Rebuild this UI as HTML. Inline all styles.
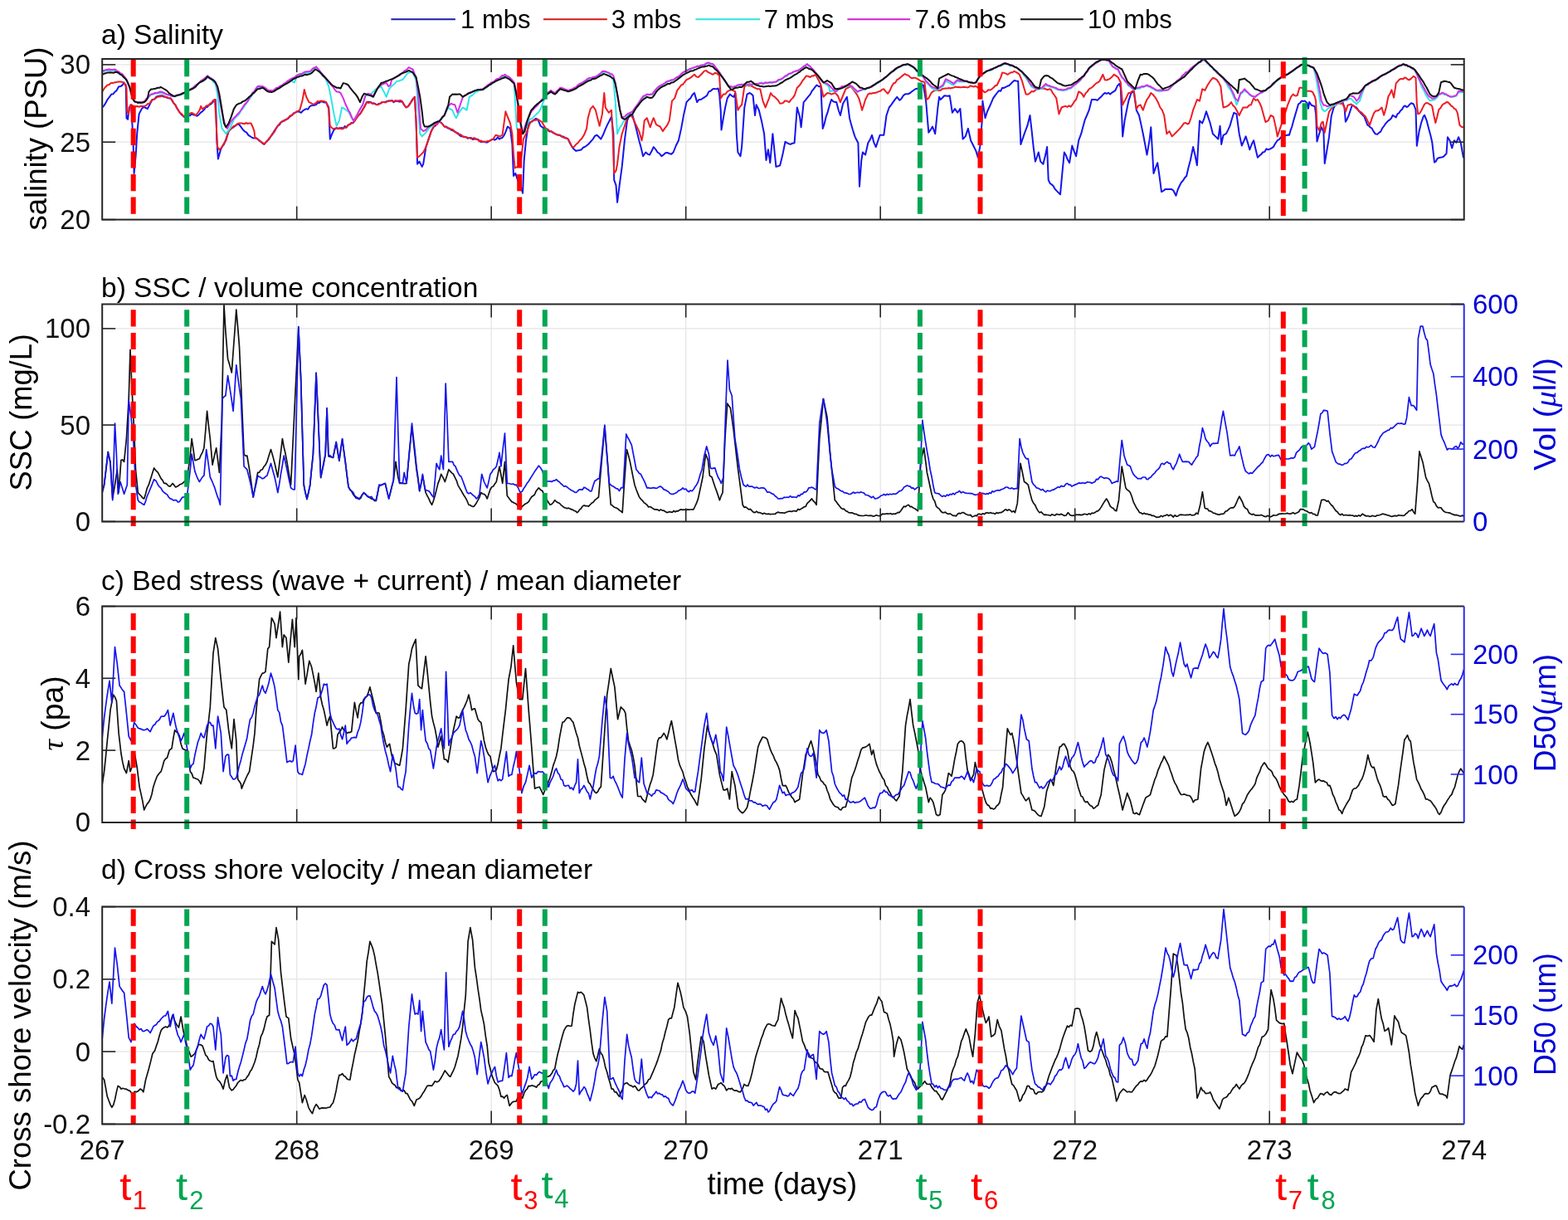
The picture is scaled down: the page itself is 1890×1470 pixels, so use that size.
<!DOCTYPE html>
<html><head><meta charset="utf-8"><title>Time series figure</title>
<style>html,body{margin:0;padding:0;background:#fff;} svg{display:block;}</style></head>
<body><svg width="1890" height="1470" viewBox="0 0 1890 1470">
<defs><clipPath id="clipa"><rect x="123.2" y="71.0" width="1641.5" height="193.60000000000002"/></clipPath><clipPath id="clipb"><rect x="123.2" y="366.6" width="1641.5" height="261.79999999999995"/></clipPath><clipPath id="clipc"><rect x="123.2" y="730.5" width="1641.5" height="260.4"/></clipPath><clipPath id="clipd"><rect x="123.2" y="1092.6" width="1641.5" height="261.8000000000002"/></clipPath></defs>
<rect width="1890" height="1470" fill="#fff"/>
<line x1="357.7" y1="71.0" x2="357.7" y2="264.6" stroke="#e4e4e4" stroke-width="1.2"/>
<line x1="592.2" y1="71.0" x2="592.2" y2="264.6" stroke="#e4e4e4" stroke-width="1.2"/>
<line x1="826.7" y1="71.0" x2="826.7" y2="264.6" stroke="#e4e4e4" stroke-width="1.2"/>
<line x1="1061.2" y1="71.0" x2="1061.2" y2="264.6" stroke="#e4e4e4" stroke-width="1.2"/>
<line x1="1295.7" y1="71.0" x2="1295.7" y2="264.6" stroke="#e4e4e4" stroke-width="1.2"/>
<line x1="1530.2" y1="71.0" x2="1530.2" y2="264.6" stroke="#e4e4e4" stroke-width="1.2"/>
<line x1="123.2" y1="264.6" x2="1764.7" y2="264.6" stroke="#e4e4e4" stroke-width="1.2"/>
<line x1="123.2" y1="171.2" x2="1764.7" y2="171.2" stroke="#e4e4e4" stroke-width="1.2"/>
<line x1="123.2" y1="77.9" x2="1764.7" y2="77.9" stroke="#e4e4e4" stroke-width="1.2"/>
<line x1="357.7" y1="366.6" x2="357.7" y2="628.4" stroke="#e4e4e4" stroke-width="1.2"/>
<line x1="592.2" y1="366.6" x2="592.2" y2="628.4" stroke="#e4e4e4" stroke-width="1.2"/>
<line x1="826.7" y1="366.6" x2="826.7" y2="628.4" stroke="#e4e4e4" stroke-width="1.2"/>
<line x1="1061.2" y1="366.6" x2="1061.2" y2="628.4" stroke="#e4e4e4" stroke-width="1.2"/>
<line x1="1295.7" y1="366.6" x2="1295.7" y2="628.4" stroke="#e4e4e4" stroke-width="1.2"/>
<line x1="1530.2" y1="366.6" x2="1530.2" y2="628.4" stroke="#e4e4e4" stroke-width="1.2"/>
<line x1="123.2" y1="628.4" x2="1764.7" y2="628.4" stroke="#e4e4e4" stroke-width="1.2"/>
<line x1="123.2" y1="512.1" x2="1764.7" y2="512.1" stroke="#e4e4e4" stroke-width="1.2"/>
<line x1="123.2" y1="395.9" x2="1764.7" y2="395.9" stroke="#e4e4e4" stroke-width="1.2"/>
<line x1="357.7" y1="730.5" x2="357.7" y2="990.9" stroke="#e4e4e4" stroke-width="1.2"/>
<line x1="592.2" y1="730.5" x2="592.2" y2="990.9" stroke="#e4e4e4" stroke-width="1.2"/>
<line x1="826.7" y1="730.5" x2="826.7" y2="990.9" stroke="#e4e4e4" stroke-width="1.2"/>
<line x1="1061.2" y1="730.5" x2="1061.2" y2="990.9" stroke="#e4e4e4" stroke-width="1.2"/>
<line x1="1295.7" y1="730.5" x2="1295.7" y2="990.9" stroke="#e4e4e4" stroke-width="1.2"/>
<line x1="1530.2" y1="730.5" x2="1530.2" y2="990.9" stroke="#e4e4e4" stroke-width="1.2"/>
<line x1="123.2" y1="990.9" x2="1764.7" y2="990.9" stroke="#e4e4e4" stroke-width="1.2"/>
<line x1="123.2" y1="904.1" x2="1764.7" y2="904.1" stroke="#e4e4e4" stroke-width="1.2"/>
<line x1="123.2" y1="817.3" x2="1764.7" y2="817.3" stroke="#e4e4e4" stroke-width="1.2"/>
<line x1="123.2" y1="730.5" x2="1764.7" y2="730.5" stroke="#e4e4e4" stroke-width="1.2"/>
<line x1="357.7" y1="1092.6" x2="357.7" y2="1354.4" stroke="#e4e4e4" stroke-width="1.2"/>
<line x1="592.2" y1="1092.6" x2="592.2" y2="1354.4" stroke="#e4e4e4" stroke-width="1.2"/>
<line x1="826.7" y1="1092.6" x2="826.7" y2="1354.4" stroke="#e4e4e4" stroke-width="1.2"/>
<line x1="1061.2" y1="1092.6" x2="1061.2" y2="1354.4" stroke="#e4e4e4" stroke-width="1.2"/>
<line x1="1295.7" y1="1092.6" x2="1295.7" y2="1354.4" stroke="#e4e4e4" stroke-width="1.2"/>
<line x1="1530.2" y1="1092.6" x2="1530.2" y2="1354.4" stroke="#e4e4e4" stroke-width="1.2"/>
<line x1="123.2" y1="1354.4" x2="1764.7" y2="1354.4" stroke="#e4e4e4" stroke-width="1.2"/>
<line x1="123.2" y1="1267.1" x2="1764.7" y2="1267.1" stroke="#e4e4e4" stroke-width="1.2"/>
<line x1="123.2" y1="1179.9" x2="1764.7" y2="1179.9" stroke="#e4e4e4" stroke-width="1.2"/>
<line x1="123.2" y1="1092.6" x2="1764.7" y2="1092.6" stroke="#e4e4e4" stroke-width="1.2"/>
<g clip-path="url(#clipa)">
<path d="M123.2,129.5 L125.3,127.4 L127.4,124.0 L129.5,120.0 L131.9,116.8 L134.3,113.6 L136.4,113.3 L138.5,110.7 L140.6,108.9 L143.0,104.6 L145.4,104.1 L147.4,102.6 L149.4,100.1 L151.7,102.5 L152.5,142.2 L154.1,143.8 L155.7,129.5 L158.1,126.3 L160.5,169.2 L161.6,208.9 L163.7,186.6 L165.2,161.2 L167.6,137.4 L170.8,131.1 L172.8,129.0 L174.8,129.5 L177.9,131.1 L180.3,126.3 L183.5,120.0 L185.9,119.7 L188.3,116.8 L190.4,116.0 L192.5,115.5 L194.6,115.2 L197.0,116.5 L199.4,116.8 L201.5,117.8 L203.6,118.4 L205.7,118.4 L207.6,121.5 L209.4,124.6 L211.3,126.3 L213.1,130.1 L215.0,133.0 L216.8,135.8 L219.2,138.5 L221.6,140.6 L224.8,142.2 L226.9,139.5 L229.0,139.3 L231.1,137.4 L233.2,138.2 L235.3,138.9 L237.5,139.8 L239.6,138.2 L241.7,135.9 L243.8,134.3 L245.9,132.3 L248.0,129.4 L250.2,128.7 L252.3,126.2 L254.4,125.4 L256.5,123.1 L259.7,120.0 L260.5,137.4 L261.3,169.2 L262.9,191.4 L266.0,180.3 L268.0,176.4 L270.0,173.9 L272.4,167.6 L275.6,158.1 L278.7,154.9 L281.1,153.4 L283.5,151.7 L285.9,149.7 L288.3,150.1 L290.6,153.1 L293.0,156.5 L295.1,158.5 L297.2,159.7 L299.4,162.8 L301.7,164.3 L304.1,166.0 L306.2,166.6 L308.4,166.0 L310.5,167.6 L312.5,169.6 L314.4,170.7 L316.4,172.6 L318.4,173.9 L320.4,171.6 L322.4,169.6 L324.4,167.6 L326.3,164.4 L328.5,161.8 L330.6,157.8 L332.7,154.9 L334.8,151.4 L336.9,150.3 L339.0,147.0 L341.2,146.1 L343.3,144.6 L345.4,143.8 L347.5,142.7 L349.6,140.3 L351.7,139.0 L353.9,136.5 L356.0,135.6 L358.1,134.3 L360.5,134.6 L362.9,135.8 L365.0,133.5 L367.1,132.1 L369.2,131.1 L371.2,131.7 L373.2,128.5 L375.2,127.2 L377.1,127.1 L379.0,126.8 L381.0,126.1 L382.9,124.0 L384.8,124.1 L386.7,122.3 L388.8,122.6 L390.9,123.5 L393.0,123.1 L396.2,129.5 L397.8,167.6 L400.2,161.4 L402.5,156.5 L405.7,154.1 L407.7,154.7 L409.7,154.8 L411.7,153.9 L413.7,154.9 L415.6,152.0 L417.5,153.8 L419.4,150.7 L421.3,150.1 L423.5,148.1 L425.6,148.2 L427.7,145.4 L429.8,141.8 L431.9,139.4 L434.0,137.4 L436.4,133.3 L438.8,129.5 L442.0,123.1 L444.4,122.8 L446.7,123.1 L448.7,124.7 L450.7,124.3 L452.7,125.4 L454.7,126.3 L456.7,124.9 L458.7,124.4 L460.6,123.2 L462.6,123.1 L464.6,122.9 L466.6,122.0 L468.6,121.4 L470.6,121.6 L472.5,120.9 L474.5,123.3 L476.5,121.9 L478.5,121.6 L480.6,122.4 L482.7,122.5 L484.8,122.3 L487.2,126.5 L489.6,129.5 L492.0,128.1 L494.4,124.7 L496.2,121.4 L498.1,118.6 L499.9,116.8 L501.5,145.4 L503.1,197.7 L505.5,194.6 L508.7,200.9 L510.2,197.7 L513.4,177.1 L516.6,167.6 L519.8,158.1 L522.9,152.5 L525.1,151.3 L527.2,146.6 L529.3,146.2 L532.5,148.5 L535.6,152.5 L537.8,152.5 L539.9,154.5 L542.0,154.9 L544.0,156.7 L546.0,157.3 L547.9,158.2 L549.9,159.7 L551.9,160.4 L553.9,163.0 L555.9,164.3 L557.9,164.4 L559.8,164.7 L561.8,165.2 L563.8,166.7 L565.8,166.0 L567.8,166.0 L569.8,167.9 L571.7,167.6 L573.7,167.6 L575.7,167.7 L577.7,169.2 L579.7,170.9 L581.7,170.8 L583.7,170.8 L585.6,171.5 L587.6,171.4 L589.6,170.0 L592.0,168.5 L594.4,167.6 L596.2,168.7 L598.1,167.7 L599.9,165.4 L601.8,167.6 L603.6,166.4 L605.5,166.0 L607.6,163.0 L609.7,158.3 L611.8,152.5 L615.0,154.9 L617.4,173.9 L619.0,212.0 L621.3,208.9 L624.5,218.4 L627.7,224.7 L630.1,232.7 L631.7,193.0 L634.0,169.2 L637.2,148.5 L639.3,147.1 L641.5,146.4 L643.6,144.6 L646.0,142.8 L648.3,143.8 L651.5,151.7 L653.9,153.4 L656.3,154.9 L658.3,155.3 L660.2,156.3 L662.2,158.5 L664.2,158.1 L666.6,159.9 L669.0,161.2 L671.0,162.2 L672.9,162.4 L674.9,163.1 L676.9,164.4 L678.9,164.4 L680.9,166.3 L682.9,166.4 L684.8,167.6 L687.2,173.1 L689.6,177.1 L692.0,180.0 L694.4,181.9 L696.5,181.3 L698.6,181.0 L700.7,180.3 L702.8,177.8 L704.9,177.0 L707.1,175.5 L709.4,173.5 L711.8,170.8 L714.8,167.6 L717.1,163.7 L719.5,162.8 L721.9,165.0 L724.3,167.6 L727.5,161.2 L729.8,155.4 L732.2,150.1 L734.6,145.5 L737.0,140.6 L739.4,161.2 L740.2,216.8 L742.5,223.1 L744.1,243.8 L746.5,224.7 L749.7,200.9 L752.9,169.2 L756.0,145.4 L759.2,137.4 L762.4,139.0 L765.6,150.1 L767.9,159.3 L770.3,169.2 L772.7,178.1 L775.1,188.2 L778.3,183.5 L780.6,185.6 L783.0,186.6 L785.4,182.2 L787.8,177.1 L790.2,179.8 L792.5,183.5 L794.9,185.0 L797.3,188.2 L799.7,186.6 L802.1,184.3 L804.4,183.9 L806.8,185.0 L809.2,185.8 L811.6,183.5 L814.8,175.5 L817.9,169.2 L821.1,154.9 L824.3,137.4 L827.5,123.1 L829.8,120.6 L832.2,118.4 L834.6,114.3 L837.0,112.0 L840.2,123.1 L842.5,120.0 L844.9,120.0 L847.3,118.3 L849.7,116.8 L852.1,115.1 L854.4,110.4 L856.8,109.5 L859.2,107.3 L861.3,106.9 L863.4,107.4 L865.6,106.5 L867.1,113.6 L868.7,132.7 L869.5,156.5 L871.9,142.2 L874.3,128.8 L876.7,118.4 L879.8,113.6 L882.2,115.6 L884.6,116.8 L886.2,112.0 L887.8,161.2 L889.4,183.5 L892.5,188.2 L894.1,177.1 L897.3,129.5 L900.5,113.6 L903.7,112.0 L905.6,113.1 L907.6,115.2 L910.0,139.0 L911.6,126.3 L914.8,132.7 L917.9,145.4 L921.1,161.2 L923.5,193.0 L925.9,180.3 L928.3,196.2 L931.4,161.2 L933.8,185.0 L935.4,200.9 L937.8,200.2 L940.2,199.3 L943.3,186.6 L946.5,170.8 L948.6,172.1 L950.7,173.2 L952.9,173.9 L955.2,172.7 L957.6,172.3 L960.8,129.5 L964.0,140.6 L965.6,153.3 L968.7,123.1 L970.7,120.8 L972.7,118.3 L974.7,115.8 L976.7,113.6 L978.7,109.6 L980.6,107.5 L982.6,104.6 L984.6,102.5 L987.0,104.2 L989.4,104.1 L991.7,154.9 L993.7,149.1 L995.7,140.6 L997.8,134.6 L999.9,126.7 L1002.1,120.0 L1004.4,122.3 L1006.8,123.1 L1008.2,123.1 L1010.6,132.3 L1012.9,139.0 L1016.1,124.7 L1018.5,120.7 L1020.9,116.8 L1024.0,142.2 L1025.6,148.5 L1028.0,156.8 L1030.4,164.4 L1032.4,168.6 L1034.4,172.3 L1036.0,224.7 L1038.3,193.0 L1039.9,183.5 L1043.1,186.6 L1046.3,172.3 L1048.7,168.3 L1051.0,162.8 L1053.4,171.9 L1055.8,177.1 L1058.2,169.8 L1060.6,162.8 L1062.9,162.8 L1065.3,162.8 L1068.5,139.0 L1071.7,129.5 L1074.0,126.7 L1076.4,123.1 L1078.8,119.8 L1081.2,116.8 L1084.4,120.8 L1086.5,118.9 L1088.6,115.5 L1090.7,113.6 L1092.8,113.2 L1094.9,113.2 L1097.1,112.0 L1099.2,110.3 L1101.3,108.8 L1103.4,107.3 L1106.6,106.5 L1108.7,104.3 L1110.8,102.5 L1112.9,102.5 L1116.1,121.6 L1119.3,159.7 L1121.7,156.4 L1124.0,152.5 L1127.2,161.2 L1130.4,129.5 L1132.0,116.8 L1133.6,120.0 L1136.0,117.7 L1138.3,115.2 L1140.4,115.4 L1142.6,115.8 L1144.7,115.2 L1147.9,135.8 L1151.0,131.1 L1154.2,135.8 L1157.4,131.1 L1160.6,167.6 L1163.7,164.4 L1166.9,154.9 L1170.1,169.2 L1173.3,175.5 L1176.4,181.9 L1178.8,189.8 L1181.2,177.1 L1183.6,147.0 L1184.4,121.6 L1187.5,142.2 L1189.9,134.7 L1192.3,129.5 L1194.7,124.1 L1197.1,118.4 L1199.4,115.1 L1201.8,112.0 L1203.9,109.3 L1206.1,109.7 L1208.2,105.7 L1210.2,105.9 L1212.1,105.0 L1214.1,103.8 L1216.1,103.3 L1218.2,101.3 L1220.3,98.9 L1222.5,97.0 L1224.8,97.5 L1227.2,97.7 L1230.4,173.9 L1233.6,164.4 L1236.0,157.6 L1238.3,151.7 L1241.5,139.0 L1243.6,157.5 L1245.7,177.3 L1247.9,194.6 L1249.8,189.5 L1251.8,183.5 L1254.2,194.6 L1257.4,197.7 L1259.8,188.1 L1262.1,177.1 L1263.7,216.8 L1265.7,221.0 L1267.7,222.3 L1269.7,224.2 L1271.7,227.9 L1274.8,231.1 L1278.0,234.3 L1280.4,208.4 L1282.8,183.5 L1284.9,187.3 L1287.0,192.6 L1289.1,196.2 L1292.3,175.5 L1294.7,182.3 L1297.1,188.2 L1300.2,169.2 L1303.2,161.2 L1305.6,152.0 L1307.9,143.8 L1310.3,138.5 L1312.7,132.7 L1315.9,120.0 L1318.3,120.1 L1320.6,120.0 L1322.8,120.9 L1324.9,118.6 L1327.0,116.8 L1329.4,114.1 L1331.7,112.0 L1333.9,112.9 L1336.0,111.8 L1338.1,113.6 L1340.2,111.7 L1342.3,110.4 L1344.4,108.9 L1346.8,103.6 L1349.2,100.9 L1350.8,105.7 L1353.2,164.4 L1355.6,145.4 L1357.9,133.5 L1360.3,121.6 L1363.5,112.0 L1366.7,110.4 L1369.8,132.7 L1373.0,139.0 L1375.4,149.9 L1377.8,161.2 L1380.2,173.7 L1382.5,186.6 L1385.7,167.6 L1387.3,153.3 L1390.5,208.9 L1392.9,202.1 L1395.2,196.2 L1397.6,212.7 L1400.0,231.1 L1402.4,229.8 L1404.8,227.9 L1407.1,227.9 L1409.5,227.9 L1411.9,227.9 L1414.3,229.5 L1417.5,235.8 L1419.6,228.7 L1421.7,224.0 L1423.8,220.0 L1425.9,217.7 L1428.0,214.3 L1430.2,212.0 L1432.5,201.9 L1434.9,193.0 L1438.1,177.1 L1440.5,187.0 L1442.9,199.3 L1446.0,145.4 L1449.2,148.5 L1451.6,142.3 L1454.0,134.3 L1456.3,141.1 L1458.7,148.5 L1461.9,161.2 L1465.1,164.4 L1468.3,167.6 L1470.6,151.7 L1472.2,173.9 L1474.6,162.8 L1477.8,161.2 L1480.2,156.6 L1482.5,151.7 L1484.9,143.2 L1487.3,135.8 L1490.5,137.4 L1493.7,161.2 L1496.8,175.5 L1499.2,170.2 L1501.6,164.4 L1504.0,172.0 L1506.3,180.3 L1508.7,174.0 L1511.1,169.2 L1513.5,179.8 L1515.9,189.8 L1518.0,187.6 L1520.1,186.0 L1522.2,183.5 L1524.3,182.9 L1526.5,179.3 L1528.6,180.3 L1530.7,179.6 L1532.8,178.4 L1534.9,177.1 L1537.3,172.8 L1539.7,169.2 L1541.8,168.2 L1543.9,165.4 L1546.0,164.4 L1548.0,162.8 L1550.0,163.3 L1552.0,162.6 L1554.0,162.8 L1555.6,157.1 L1557.3,152.5 L1559.0,146.0 L1560.7,140.1 L1562.3,134.8 L1565.0,125.5 L1567.0,124.2 L1568.9,121.6 L1570.9,122.0 L1572.9,121.6 L1575.6,124.2 L1576.9,130.8 L1578.2,122.9 L1580.8,126.8 L1582.8,127.5 L1584.8,128.2 L1586.1,137.4 L1587.5,170.5 L1590.1,161.2 L1592.8,153.3 L1595.4,158.6 L1596.7,197.0 L1599.4,181.1 L1602.0,165.2 L1604.7,140.1 L1607.3,130.8 L1609.9,125.5 L1611.7,124.8 L1613.5,124.2 L1615.2,122.9 L1617.9,121.6 L1620.5,129.5 L1621.9,146.7 L1623.8,143.4 L1625.8,138.8 L1627.8,132.8 L1629.8,126.8 L1631.6,127.5 L1633.3,128.5 L1635.1,129.5 L1637.1,132.3 L1639.0,134.8 L1640.8,136.9 L1642.6,138.9 L1644.3,140.1 L1646.3,145.5 L1648.3,150.7 L1650.1,151.7 L1651.8,153.5 L1653.6,154.6 L1655.6,158.4 L1657.6,161.2 L1660.2,161.9 L1662.2,159.9 L1664.2,158.6 L1666.2,154.4 L1668.1,152.0 L1669.9,149.3 L1671.7,147.2 L1673.4,145.4 L1675.2,144.3 L1677.0,142.5 L1678.7,138.8 L1680.7,140.2 L1682.7,141.4 L1684.5,137.2 L1686.2,136.4 L1688.0,133.5 L1690.0,131.7 L1692.0,128.2 L1693.7,127.4 L1695.5,129.0 L1697.2,128.2 L1699.2,125.8 L1701.2,124.2 L1703.9,125.5 L1706.5,132.1 L1707.8,175.8 L1710.5,158.6 L1713.1,148.0 L1715.8,140.1 L1717.1,138.8 L1719.7,145.4 L1722.4,155.9 L1724.4,163.2 L1726.3,171.8 L1729.0,195.6 L1730.8,194.5 L1732.5,191.0 L1734.3,190.3 L1736.0,189.7 L1737.8,189.5 L1739.6,189.0 L1741.6,187.0 L1743.5,185.0 L1744.9,165.2 L1747.5,169.2 L1750.2,178.4 L1752.8,169.2 L1755.4,171.8 L1758.1,165.2 L1760.7,171.8 L1762.4,181.7 L1764.0,190.3" fill="none" stroke="#1414ee" stroke-width="2.0" stroke-linejoin="round"/>
<path d="M123.2,110.4 L126.3,105.7 L129.5,102.5 L131.6,102.1 L133.8,100.1 L135.9,100.1 L138.0,99.4 L140.1,99.1 L142.2,98.5 L144.0,98.6 L145.8,98.5 L147.6,99.0 L149.4,99.3 L152.5,105.7 L153.3,134.3 L154.9,137.4 L157.3,126.3 L159.3,126.8 L161.3,127.9 L163.4,128.3 L165.5,128.0 L167.6,128.7 L169.7,128.0 L171.9,128.1 L174.0,127.9 L176.1,127.1 L178.2,125.0 L180.3,124.7 L182.7,120.9 L185.1,120.0 L187.5,118.5 L189.8,116.8 L192.0,116.4 L194.1,116.2 L196.2,115.2 L199.4,116.8 L201.5,117.2 L203.6,118.2 L205.7,118.4 L207.6,120.8 L209.4,124.2 L211.3,126.3 L213.1,130.0 L215.0,132.9 L216.8,135.8 L219.2,137.4 L221.6,140.6 L224.8,137.4 L226.9,138.5 L229.0,136.7 L231.1,135.8 L233.5,137.1 L235.9,139.0 L238.3,136.0 L240.6,132.7 L242.2,127.9 L243.8,131.1 L247.0,129.5 L249.1,127.2 L251.2,127.3 L253.3,124.7 L255.2,123.5 L257.0,120.9 L258.9,120.0 L260.5,145.4 L262.1,177.1 L264.4,180.3 L266.8,178.3 L269.2,173.9 L272.4,169.2 L275.6,158.1 L278.7,154.9 L281.9,151.7 L284.0,151.4 L286.1,149.2 L288.3,148.5 L291.4,148.5 L294.6,149.3 L296.6,148.0 L298.6,149.0 L300.6,148.4 L302.5,148.5 L304.5,152.7 L306.5,158.1 L307.3,166.0 L310.5,167.6 L312.5,168.9 L314.4,170.9 L316.4,171.8 L318.4,173.9 L320.4,171.3 L322.4,169.3 L324.4,166.7 L326.3,164.4 L328.5,160.8 L330.6,159.3 L332.7,154.9 L334.8,151.9 L336.9,149.0 L339.0,147.0 L341.2,145.6 L343.3,145.3 L345.4,143.8 L347.5,142.1 L349.6,139.5 L351.7,139.0 L353.9,136.9 L356.0,135.5 L358.1,134.3 L361.3,132.7 L364.4,121.6 L366.8,108.1 L369.2,116.8 L372.4,123.1 L374.8,124.2 L377.1,125.5 L379.0,125.3 L381.0,123.7 L382.9,122.1 L384.8,122.3 L386.7,121.6 L388.8,121.7 L390.9,122.2 L393.0,123.1 L396.2,131.1 L397.8,151.7 L401.0,154.9 L403.3,154.9 L405.7,154.1 L407.7,155.3 L409.7,153.7 L411.7,155.6 L413.7,154.9 L415.6,153.7 L417.5,153.4 L419.4,150.8 L421.3,150.1 L423.5,148.6 L425.6,147.6 L427.7,145.4 L429.8,142.5 L431.9,138.9 L434.0,137.4 L436.4,133.4 L438.8,129.5 L442.0,123.1 L444.4,124.1 L446.7,123.1 L448.7,124.5 L450.7,124.9 L452.7,125.6 L454.7,126.3 L456.7,125.7 L458.7,124.6 L460.6,123.1 L462.6,123.1 L464.6,123.6 L466.6,122.2 L468.6,121.7 L470.6,121.6 L472.5,121.1 L474.5,122.4 L476.5,121.1 L478.5,121.6 L480.6,121.3 L482.7,120.9 L484.8,122.3 L487.2,126.7 L489.6,129.5 L492.0,128.1 L494.4,124.7 L496.2,122.2 L498.1,119.2 L499.9,116.8 L501.5,145.4 L503.1,189.8 L505.1,188.5 L507.1,186.6 L510.2,183.5 L513.4,177.1 L516.6,167.6 L519.8,158.1 L522.9,152.5 L525.1,149.9 L527.2,149.8 L529.3,146.2 L532.5,148.5 L535.6,152.5 L537.8,153.2 L539.9,153.8 L542.0,154.9 L544.0,155.7 L546.0,156.2 L547.9,158.8 L549.9,159.7 L551.9,161.5 L553.9,161.8 L555.9,162.5 L557.9,164.4 L559.8,165.3 L561.8,165.3 L563.8,165.9 L565.8,166.0 L567.8,167.1 L569.8,166.6 L571.7,166.1 L573.7,167.6 L575.7,168.2 L577.7,170.4 L579.7,169.4 L581.7,170.8 L583.7,170.7 L585.6,170.8 L587.6,170.1 L589.6,170.0 L592.0,168.8 L594.4,167.6 L597.5,162.8 L599.9,163.5 L602.3,164.4 L605.5,162.8 L607.5,148.7 L609.4,134.3 L611.8,140.6 L615.0,148.5 L617.4,161.2 L619.0,185.0 L620.6,202.5 L622.5,201.3 L624.5,200.9 L627.7,196.2 L630.9,167.6 L634.0,161.2 L636.4,155.1 L638.8,148.5 L641.2,145.9 L643.6,144.6 L646.0,144.8 L648.3,143.8 L650.7,145.3 L653.1,147.0 L655.5,151.1 L657.9,154.9 L660.0,155.6 L662.1,157.4 L664.2,158.1 L666.6,159.7 L669.0,161.2 L671.0,161.9 L672.9,163.1 L674.9,162.4 L676.9,164.4 L678.9,165.6 L680.9,165.5 L682.9,166.9 L684.8,167.6 L687.2,172.0 L689.6,177.1 L692.0,176.8 L694.4,173.9 L696.5,172.3 L698.6,169.5 L700.7,167.6 L703.9,162.8 L707.1,154.9 L708.7,142.2 L711.8,131.1 L714.8,127.9 L717.9,132.7 L720.3,142.6 L722.7,151.7 L725.9,137.4 L728.3,112.0 L729.8,129.5 L731.8,132.7 L733.8,135.8 L737.0,132.7 L738.6,161.2 L740.2,208.9 L742.5,205.7 L744.1,197.7 L746.5,177.1 L749.7,161.2 L752.9,151.7 L756.0,142.2 L758.4,140.6 L760.8,139.0 L763.2,143.1 L765.6,148.5 L767.9,153.2 L770.3,158.1 L773.5,169.2 L775.1,161.2 L776.7,145.4 L779.8,142.2 L781.8,148.0 L783.8,153.3 L785.8,146.9 L787.8,142.2 L791.0,150.1 L793.3,151.3 L795.7,152.5 L798.9,158.1 L801.3,154.6 L803.7,151.7 L806.8,145.4 L810.0,121.6 L813.2,118.4 L816.3,108.9 L818.7,105.8 L821.1,102.5 L823.2,101.7 L825.3,98.8 L827.5,96.2 L830.6,94.6 L832.8,93.4 L834.9,91.5 L837.0,89.8 L839.4,92.4 L841.7,93.0 L844.1,90.8 L846.5,88.2 L848.9,85.6 L851.3,85.0 L853.7,87.2 L856.0,88.2 L859.2,89.8 L861.6,88.1 L864.0,88.2 L867.1,91.4 L868.7,118.4 L871.9,113.6 L874.3,113.5 L876.7,110.4 L879.0,109.0 L881.4,108.1 L883.8,109.2 L886.2,110.4 L889.4,132.7 L891.7,128.9 L894.1,126.3 L897.3,104.1 L900.5,102.5 L902.6,103.3 L904.7,103.3 L906.8,104.1 L908.9,105.4 L911.1,106.4 L913.2,107.3 L916.3,107.3 L919.5,121.6 L922.7,129.5 L924.8,123.9 L926.9,118.6 L929.0,112.0 L931.2,115.2 L933.3,116.3 L935.4,118.4 L937.8,120.8 L940.2,124.7 L942.1,124.5 L944.1,123.9 L946.1,121.5 L948.1,121.6 L951.3,123.1 L953.4,120.1 L955.5,118.1 L957.6,115.2 L960.8,105.7 L962.9,103.8 L965.0,101.1 L967.1,97.7 L969.5,94.6 L971.9,91.4 L974.3,92.0 L976.7,93.0 L978.8,91.3 L980.9,91.4 L983.0,89.8 L985.1,93.8 L987.2,97.6 L989.4,102.5 L992.5,116.8 L994.9,114.3 L997.3,112.0 L999.7,112.4 L1002.1,113.6 L1004.4,112.8 L1006.8,112.0 L1009.8,115.2 L1012.9,123.1 L1016.1,115.2 L1019.3,107.3 L1021.4,106.0 L1023.5,105.0 L1025.6,104.1 L1028.0,107.1 L1030.4,110.4 L1032.8,113.8 L1035.2,118.4 L1037.1,124.8 L1039.1,132.7 L1041.1,126.7 L1043.1,120.0 L1046.3,113.6 L1048.4,112.4 L1050.5,112.8 L1052.6,112.0 L1054.7,112.0 L1056.9,111.3 L1059.0,110.4 L1061.1,109.8 L1063.2,107.9 L1065.3,107.3 L1067.7,110.4 L1070.1,112.8 L1072.5,109.4 L1074.8,104.1 L1077.0,100.5 L1079.1,99.7 L1081.2,96.2 L1083.3,95.1 L1085.4,93.2 L1087.5,91.4 L1090.7,89.0 L1092.8,90.3 L1094.9,90.9 L1097.1,93.0 L1099.2,94.3 L1101.3,93.7 L1103.4,93.8 L1105.5,94.9 L1107.6,96.2 L1109.8,97.7 L1112.1,98.2 L1114.5,99.3 L1116.9,120.0 L1119.3,118.4 L1122.5,112.0 L1124.8,110.0 L1127.2,108.9 L1129.6,109.0 L1132.0,108.9 L1134.0,108.8 L1136.0,107.0 L1137.9,106.8 L1139.9,106.5 L1141.9,106.5 L1143.9,106.0 L1145.9,106.4 L1147.9,105.7 L1149.8,105.4 L1151.8,104.5 L1153.8,105.1 L1155.8,104.9 L1157.8,105.3 L1159.8,105.1 L1161.7,104.7 L1163.7,104.9 L1165.7,105.4 L1167.7,105.1 L1169.7,103.2 L1171.7,104.1 L1173.8,104.5 L1175.9,103.8 L1178.0,104.9 L1180.1,106.6 L1182.2,107.1 L1184.4,108.9 L1186.7,111.2 L1189.1,110.4 L1191.2,108.3 L1193.4,108.5 L1195.5,107.3 L1197.6,105.5 L1199.7,103.3 L1201.8,102.5 L1203.9,98.0 L1206.1,93.6 L1208.2,87.4 L1210.3,87.9 L1212.4,88.6 L1214.5,89.8 L1216.5,88.5 L1218.5,87.3 L1220.5,87.3 L1222.5,85.8 L1224.6,86.8 L1226.7,88.1 L1228.8,89.8 L1232.0,97.7 L1234.4,106.2 L1236.7,113.6 L1239.1,113.8 L1241.5,112.0 L1243.6,110.0 L1245.7,110.4 L1247.9,108.9 L1250.2,107.0 L1252.6,107.3 L1254.7,106.9 L1256.9,106.7 L1259.0,106.5 L1261.0,107.6 L1262.9,108.2 L1264.9,107.3 L1266.9,108.1 L1269.0,112.2 L1271.1,115.0 L1273.3,118.4 L1276.4,137.4 L1279.6,129.5 L1282.0,128.5 L1284.4,127.9 L1286.5,128.9 L1288.6,127.3 L1290.7,128.7 L1292.8,125.9 L1294.9,122.3 L1297.1,120.0 L1300.2,110.4 L1302.3,111.4 L1304.3,113.3 L1306.3,116.8 L1308.5,112.4 L1310.6,110.4 L1312.7,107.3 L1314.8,106.2 L1316.9,104.7 L1319.0,102.5 L1321.2,100.4 L1323.3,99.4 L1325.4,97.7 L1327.4,93.7 L1329.4,89.8 L1331.7,96.2 L1333.9,96.5 L1336.0,95.7 L1338.1,94.6 L1340.5,92.4 L1342.9,89.8 L1345.2,91.4 L1347.6,93.0 L1350.8,99.3 L1353.2,126.3 L1355.6,121.6 L1357.9,117.2 L1360.3,112.0 L1362.4,111.9 L1364.6,109.9 L1366.7,108.9 L1369.8,131.1 L1372.2,127.4 L1374.6,126.3 L1377.8,132.7 L1380.2,125.4 L1382.5,120.0 L1384.9,116.7 L1387.3,112.0 L1389.7,114.0 L1392.1,116.8 L1394.2,120.3 L1396.3,124.3 L1398.4,129.5 L1400.8,132.7 L1403.2,139.0 L1406.3,161.2 L1409.5,158.1 L1412.7,164.4 L1415.1,162.1 L1417.5,159.7 L1419.8,157.4 L1422.2,154.9 L1424.6,151.9 L1427.0,148.5 L1429.1,148.0 L1431.2,149.5 L1433.3,148.5 L1435.7,141.5 L1438.1,132.7 L1440.5,126.5 L1442.9,120.0 L1446.0,121.6 L1449.2,107.3 L1452.4,108.9 L1455.6,102.5 L1458.7,97.7 L1461.9,93.8 L1464.3,94.7 L1466.7,96.2 L1469.0,99.4 L1471.4,104.1 L1473.0,118.4 L1474.6,129.5 L1477.0,128.8 L1479.4,127.9 L1481.7,126.1 L1484.1,123.1 L1486.2,127.1 L1488.4,129.1 L1490.5,132.7 L1493.7,139.0 L1496.0,134.1 L1498.4,129.5 L1500.8,129.5 L1503.2,129.5 L1505.6,126.8 L1507.9,126.3 L1511.1,118.4 L1513.5,120.9 L1515.9,120.0 L1518.3,123.9 L1520.6,129.5 L1523.0,138.2 L1525.4,147.0 L1528.6,145.4 L1531.7,139.0 L1534.9,140.6 L1538.1,154.9 L1539.7,164.4 L1542.9,154.9 L1545.2,148.4 L1547.6,140.6 L1549.7,134.1 L1551.9,127.2 L1554.0,121.6 L1556.3,116.3 L1558.7,113.6 L1560.4,115.1 L1562.0,115.5 L1563.7,114.9 L1566.3,105.7 L1568.9,105.7 L1570.9,106.7 L1572.9,108.3 L1574.9,109.4 L1576.9,109.7 L1579.5,109.7 L1582.2,111.0 L1584.8,116.3 L1586.1,121.6 L1587.5,152.0 L1590.1,157.3 L1592.8,148.0 L1594.7,146.7 L1596.7,159.9 L1599.4,146.7 L1602.0,134.8 L1604.0,132.0 L1606.0,129.5 L1608.0,127.7 L1609.9,126.8 L1612.6,124.2 L1614.4,124.5 L1616.1,125.1 L1617.9,124.2 L1620.5,129.5 L1621.9,134.8 L1624.5,126.8 L1626.5,126.2 L1628.5,125.5 L1630.4,127.1 L1632.4,128.2 L1634.4,130.3 L1636.4,132.1 L1638.2,134.3 L1639.9,134.7 L1641.7,136.1 L1643.7,138.5 L1645.7,140.1 L1648.3,145.4 L1651.0,150.7 L1653.6,142.7 L1656.2,136.1 L1658.2,133.6 L1660.2,133.5 L1662.9,132.1 L1665.5,129.5 L1668.1,138.8 L1670.8,129.5 L1673.4,116.3 L1675.4,112.9 L1677.4,108.3 L1680.1,117.6 L1682.7,100.4 L1684.5,98.3 L1686.2,96.4 L1688.0,95.1 L1689.6,95.0 L1691.3,95.3 L1692.9,93.6 L1694.6,93.8 L1696.6,95.6 L1698.6,96.4 L1701.2,94.4 L1703.9,91.8 L1706.5,93.8 L1707.8,125.5 L1709.2,137.4 L1711.1,136.6 L1713.1,133.5 L1715.1,129.4 L1717.1,125.5 L1719.1,124.0 L1721.1,124.2 L1722.8,125.5 L1724.6,126.2 L1726.3,128.2 L1728.3,139.0 L1730.3,148.0 L1732.3,140.5 L1734.3,132.1 L1736.3,130.3 L1738.3,126.8 L1740.0,125.1 L1741.8,124.5 L1743.5,122.9 L1745.5,123.3 L1747.5,125.5 L1749.3,127.6 L1751.0,128.5 L1752.8,130.8 L1754.8,131.9 L1756.8,136.1 L1759.4,150.7 L1761.7,152.9 L1764.0,153.3" fill="none" stroke="#ee1c24" stroke-width="2.0" stroke-linejoin="round"/>
<path d="M123.2,86.6 L125.3,86.3 L127.4,85.4 L129.5,84.7 L131.4,85.1 L133.3,84.9 L135.2,84.1 L137.1,85.2 L139.0,84.7 L141.0,86.6 L143.0,87.0 L145.0,89.1 L147.0,89.8 L149.4,92.7 L151.7,95.4 L154.1,100.5 L156.5,105.7 L159.7,118.4 L162.9,123.1 L165.2,123.0 L167.6,123.5 L169.7,123.2 L171.9,123.8 L174.0,122.8 L176.3,119.9 L178.7,117.6 L181.9,114.4 L184.3,113.5 L186.7,112.8 L188.8,112.5 L190.9,112.2 L193.0,112.0 L195.4,112.3 L197.8,112.8 L201.0,114.4 L203.3,114.6 L205.7,115.5 L208.1,116.1 L210.5,116.5 L212.9,115.0 L215.2,114.9 L217.2,114.3 L219.2,113.7 L221.2,112.6 L223.2,111.7 L225.2,110.2 L227.1,108.5 L229.1,108.4 L231.1,107.0 L233.0,105.0 L234.9,104.0 L236.8,102.6 L238.7,101.6 L240.6,99.7 L242.8,98.6 L244.9,97.4 L247.0,96.2 L250.2,93.0 L252.5,94.5 L254.9,95.4 L257.3,98.8 L259.7,100.9 L262.1,113.6 L264.4,137.4 L267.6,154.9 L270.0,158.0 L272.4,161.2 L274.8,157.9 L277.1,154.9 L279.5,149.4 L281.9,143.8 L284.0,141.6 L286.1,139.5 L288.3,137.4 L290.4,133.4 L292.5,131.1 L294.6,127.9 L296.6,125.0 L298.6,122.3 L300.6,119.4 L302.5,116.8 L304.5,113.1 L306.5,112.1 L308.5,108.9 L310.5,105.7 L312.6,105.7 L314.7,106.2 L316.8,105.7 L318.9,107.0 L321.1,108.0 L323.2,109.7 L325.3,109.7 L327.4,110.7 L329.5,109.7 L331.3,107.8 L333.2,108.0 L335.0,107.1 L336.8,105.3 L338.6,104.3 L340.4,102.7 L342.2,101.7 L344.2,100.3 L346.2,98.8 L348.2,96.9 L350.2,96.2 L352.5,98.1 L354.9,99.3 L358.1,91.4 L360.1,90.7 L362.1,89.5 L364.0,89.9 L366.0,88.2 L368.0,88.7 L370.0,87.5 L372.0,87.6 L374.0,86.6 L375.8,85.4 L377.5,82.7 L379.3,82.9 L381.1,81.1 L383.1,82.6 L385.1,85.8 L387.1,89.0 L389.0,91.6 L391.0,92.6 L393.0,96.2 L396.2,104.1 L399.4,120.0 L402.5,137.4 L405.7,151.7 L408.9,145.4 L412.1,129.5 L415.2,131.1 L417.6,133.1 L419.9,134.3 L422.0,138.3 L424.0,142.3 L426.1,145.4 L428.5,141.7 L430.9,137.4 L433.0,133.3 L435.1,129.8 L437.2,126.3 L440.4,115.2 L442.5,115.1 L444.6,113.9 L446.7,113.6 L448.9,111.3 L451.0,109.8 L453.1,107.3 L455.2,106.1 L457.3,105.3 L459.4,104.1 L462.6,110.4 L465.8,116.8 L469.0,107.3 L471.3,104.5 L473.7,102.5 L476.1,100.4 L478.5,97.7 L480.6,97.7 L482.7,96.7 L484.8,96.2 L487.0,93.9 L489.1,91.2 L491.2,88.2 L493.3,87.5 L495.4,86.7 L497.5,86.6 L499.5,92.2 L501.5,96.2 L503.9,129.5 L506.3,161.2 L508.7,164.4 L511.0,162.0 L513.4,159.7 L515.8,156.5 L518.2,153.3 L520.6,152.2 L522.9,150.1 L525.1,148.7 L527.2,147.4 L529.3,146.2 L531.4,144.0 L533.5,141.4 L535.6,139.0 L538.0,133.8 L540.4,129.5 L542.8,131.5 L545.2,132.7 L547.5,138.1 L549.9,142.2 L553.1,135.8 L555.5,132.4 L557.9,129.5 L560.2,130.9 L562.6,132.7 L565.8,116.8 L567.8,115.5 L569.8,114.4 L571.7,112.4 L573.7,110.4 L575.7,110.3 L577.7,108.8 L579.7,108.2 L581.7,108.1 L583.7,106.8 L585.6,106.0 L587.6,103.8 L589.6,102.5 L591.6,101.3 L593.6,98.8 L595.6,98.6 L597.5,97.0 L599.4,95.8 L601.2,95.1 L603.1,94.9 L604.9,93.5 L606.8,92.1 L608.7,91.4 L610.8,92.2 L612.9,92.8 L615.0,94.6 L617.4,97.6 L619.8,100.9 L621.3,129.5 L622.9,154.9 L626.1,159.7 L628.5,161.1 L630.9,161.2 L633.0,156.0 L635.1,150.8 L637.2,145.4 L639.3,143.6 L641.5,142.6 L643.6,140.6 L645.7,138.4 L647.8,136.6 L649.9,134.3 L652.3,129.8 L654.7,123.1 L657.1,117.9 L659.4,113.6 L661.8,112.3 L664.2,110.4 L666.6,112.1 L669.0,112.8 L671.1,111.1 L673.2,108.6 L675.3,106.5 L677.2,107.4 L679.1,108.2 L681.0,108.1 L682.9,108.7 L684.8,109.7 L686.8,109.1 L688.8,108.3 L690.8,107.2 L692.8,106.5 L694.8,105.1 L696.7,103.5 L698.7,102.9 L700.7,100.9 L702.7,99.5 L704.7,97.4 L706.7,97.8 L708.7,95.4 L710.5,95.0 L712.4,94.0 L714.2,94.1 L716.1,92.9 L717.9,93.0 L719.8,91.5 L721.7,90.0 L723.7,89.0 L725.6,88.2 L727.5,86.6 L729.6,86.9 L731.7,87.4 L733.8,88.2 L735.7,90.6 L737.5,93.7 L739.4,96.2 L741.7,121.6 L744.1,161.2 L747.3,153.3 L749.3,150.7 L751.3,147.0 L754.4,142.2 L757.6,137.4 L760.0,136.2 L762.4,134.6 L764.8,131.4 L767.1,128.2 L769.3,125.3 L771.4,121.4 L773.5,118.7 L775.6,117.2 L777.7,115.0 L779.8,113.9 L782.0,113.4 L784.1,114.4 L786.2,113.9 L788.3,111.4 L790.4,108.4 L792.5,106.0 L794.7,104.7 L796.8,103.5 L798.9,102.0 L801.0,100.6 L803.1,99.5 L805.2,98.1 L807.4,97.5 L809.5,97.0 L811.6,96.5 L813.7,95.0 L815.8,94.3 L817.9,92.5 L820.1,90.8 L822.2,88.3 L824.3,87.0 L826.4,86.0 L828.5,84.1 L830.6,83.8 L832.8,82.9 L834.9,82.2 L837.0,81.4 L839.0,80.5 L841.0,79.7 L842.9,79.4 L844.9,79.0 L846.8,78.2 L848.7,78.0 L850.6,77.2 L852.5,76.4 L854.4,75.8 L856.8,76.4 L859.2,77.4 L861.3,80.7 L863.4,82.2 L865.6,85.4 L867.7,87.8 L869.8,91.8 L871.9,94.9 L874.0,97.1 L876.1,100.9 L878.3,104.4 L880.6,105.3 L883.0,105.2 L885.1,104.7 L887.2,103.9 L889.4,102.8 L891.5,102.6 L893.6,102.5 L895.7,102.0 L897.8,101.9 L899.9,102.5 L902.1,102.0 L904.0,102.5 L906.0,102.1 L908.0,101.7 L910.0,101.2 L912.1,101.6 L914.2,100.9 L916.3,100.4 L918.3,99.2 L920.3,100.8 L922.3,100.6 L924.3,100.0 L926.1,100.0 L928.0,99.2 L929.8,99.9 L931.7,99.5 L933.5,98.7 L935.4,98.9 L937.3,98.0 L939.2,96.2 L941.1,96.0 L943.0,94.5 L944.9,93.3 L946.8,91.3 L948.6,91.9 L950.5,89.5 L952.3,88.7 L954.2,88.0 L956.0,87.0 L958.0,86.1 L960.0,85.4 L962.0,84.7 L964.0,83.8 L965.7,82.4 L967.5,81.1 L969.2,79.8 L971.0,78.5 L972.7,77.4 L974.5,78.4 L976.3,80.7 L978.1,82.4 L979.8,83.8 L982.0,87.0 L984.1,88.5 L986.2,91.7 L988.3,94.3 L990.4,97.8 L992.5,99.7 L994.7,100.9 L996.8,102.4 L998.9,104.1 L1000.5,110.4 L1003.7,108.9 L1006.8,110.8 L1008.9,109.8 L1010.9,107.8 L1012.9,106.5 L1014.8,105.8 L1016.7,104.7 L1018.7,104.4 L1020.6,104.0 L1022.5,103.3 L1024.8,103.5 L1027.2,104.9 L1029.3,107.6 L1031.5,109.6 L1033.6,111.2 L1035.7,109.3 L1037.8,109.1 L1039.9,108.1 L1042.0,108.0 L1044.2,106.9 L1046.3,106.0 L1049.4,105.2 L1051.6,104.1 L1053.7,102.0 L1055.8,101.2 L1057.9,100.2 L1060.0,98.8 L1062.1,97.3 L1064.3,96.0 L1066.4,93.4 L1068.5,92.5 L1070.6,90.4 L1072.7,88.0 L1074.8,87.0 L1077.0,84.7 L1079.1,84.2 L1081.2,82.2 L1083.3,81.3 L1085.4,80.1 L1087.5,79.0 L1089.7,78.2 L1091.8,78.5 L1093.9,77.4 L1096.0,78.6 L1098.1,79.8 L1100.2,80.6 L1102.4,81.9 L1104.5,85.6 L1106.6,87.0 L1108.7,88.6 L1110.8,90.2 L1112.9,92.7 L1116.1,98.5 L1118.2,101.0 L1120.3,103.1 L1122.5,105.7 L1124.6,107.0 L1126.7,108.3 L1128.8,108.9 L1132.0,107.0 L1134.4,105.5 L1136.7,104.1 L1139.9,97.7 L1142.3,98.8 L1144.7,100.1 L1147.1,101.7 L1149.4,102.5 L1151.8,99.9 L1154.2,97.7 L1156.3,98.5 L1158.4,98.5 L1160.6,98.5 L1163.7,98.1 L1165.6,98.5 L1167.5,99.4 L1169.4,99.4 L1171.3,99.6 L1173.3,100.4 L1176.4,99.7 L1179.6,94.1 L1182.8,90.1 L1184.9,88.5 L1187.0,87.3 L1189.1,86.2 L1191.2,85.0 L1193.4,85.1 L1195.5,83.8 L1197.5,82.1 L1199.4,82.0 L1201.4,81.0 L1203.4,79.8 L1205.4,79.5 L1207.4,78.8 L1209.4,77.0 L1211.3,76.6 L1213.3,77.3 L1215.3,77.3 L1217.3,79.6 L1219.3,79.0 L1221.3,79.8 L1223.3,80.8 L1225.2,81.7 L1227.2,83.0 L1229.6,84.7 L1232.0,87.4 L1234.4,91.2 L1236.7,93.8 L1238.9,97.5 L1241.0,100.7 L1243.1,104.1 L1245.2,105.6 L1247.3,106.1 L1249.4,108.1 L1251.6,107.5 L1253.7,107.1 L1255.8,107.0 L1258.2,104.9 L1260.6,102.5 L1262.7,103.6 L1264.8,104.2 L1266.9,105.4 L1268.9,105.2 L1270.9,106.0 L1272.9,107.3 L1274.8,108.1 L1276.8,108.4 L1278.8,108.9 L1280.8,109.0 L1282.8,108.9 L1284.8,108.4 L1286.7,108.1 L1288.7,106.9 L1290.7,106.5 L1292.7,104.7 L1294.7,103.2 L1296.7,101.5 L1298.7,100.1 L1300.6,98.3 L1302.5,96.0 L1304.4,93.7 L1306.3,92.2 L1308.5,88.8 L1310.6,86.0 L1312.7,82.7 L1314.7,81.1 L1316.7,78.6 L1318.7,77.6 L1320.6,75.8 L1322.6,75.2 L1324.6,73.6 L1326.6,72.3 L1328.6,71.9 L1330.6,72.2 L1332.5,72.2 L1334.5,72.2 L1336.5,73.1 L1338.9,77.5 L1341.3,80.6 L1343.4,81.2 L1345.5,82.7 L1347.6,83.8 L1350.0,88.7 L1352.4,93.3 L1354.4,95.3 L1356.3,98.0 L1358.3,100.4 L1360.3,103.3 L1362.4,104.8 L1364.6,106.5 L1366.7,108.1 L1369.0,107.2 L1371.4,106.5 L1373.8,106.7 L1376.2,104.9 L1378.3,105.1 L1380.4,103.7 L1382.5,103.3 L1384.7,104.5 L1386.8,105.3 L1388.9,106.5 L1391.0,107.3 L1393.1,109.2 L1395.2,109.2 L1397.4,110.3 L1399.5,110.0 L1401.6,109.2 L1403.7,109.1 L1405.8,108.9 L1407.9,108.5 L1410.1,106.4 L1412.2,104.0 L1414.3,102.2 L1416.4,100.4 L1418.5,97.9 L1420.6,96.5 L1422.8,94.6 L1424.9,92.2 L1427.0,90.1 L1429.1,88.1 L1431.2,87.2 L1433.3,85.4 L1435.7,83.2 L1438.1,80.6 L1440.5,79.3 L1442.9,77.4 L1444.8,75.8 L1446.8,74.8 L1448.8,73.7 L1450.8,71.9 L1452.9,73.9 L1455.0,76.1 L1457.1,77.7 L1459.1,80.0 L1461.1,81.3 L1463.1,84.2 L1465.1,85.7 L1467.0,88.2 L1468.9,89.2 L1470.8,91.0 L1472.7,93.1 L1474.6,94.9 L1476.6,97.9 L1478.6,100.7 L1480.6,105.0 L1482.5,107.3 L1484.7,111.2 L1486.8,116.2 L1488.9,120.0 L1490.5,126.3 L1492.9,120.5 L1495.2,113.6 L1497.6,111.7 L1500.0,108.9 L1502.1,110.6 L1504.2,111.6 L1506.3,114.4 L1508.5,115.5 L1510.6,116.4 L1512.7,117.6 L1514.8,115.6 L1516.9,113.8 L1519.0,112.3 L1521.2,111.6 L1523.3,110.2 L1525.4,109.2 L1527.5,107.3 L1529.6,105.7 L1531.7,104.4 L1533.9,102.1 L1536.0,100.8 L1538.1,98.1 L1540.2,96.6 L1542.3,95.3 L1544.4,93.3 L1546.3,92.3 L1548.3,91.9 L1550.2,91.0 L1552.1,89.8 L1554.0,88.5 L1555.8,87.0 L1557.6,86.1 L1559.5,85.1 L1561.3,83.2 L1563.1,81.9 L1565.0,80.6 L1567.0,79.9 L1568.9,77.9 L1570.6,78.1 L1572.2,77.6 L1573.9,77.8 L1575.6,78.6 L1577.5,79.2 L1579.5,80.8 L1581.5,81.0 L1583.5,81.9 L1586.1,92.5 L1588.8,108.3 L1591.4,124.2 L1594.1,132.1 L1596.7,134.1 L1598.7,132.9 L1600.7,130.8 L1602.5,129.7 L1604.2,129.1 L1606.0,128.2 L1607.6,126.6 L1609.3,126.9 L1610.9,124.9 L1612.6,124.9 L1614.4,124.5 L1616.1,123.3 L1617.9,122.2 L1619.6,122.1 L1621.4,120.6 L1623.2,120.9 L1624.9,120.0 L1626.7,118.7 L1628.5,118.9 L1630.1,120.6 L1631.8,122.7 L1633.4,123.6 L1635.1,125.5 L1637.1,123.2 L1639.0,121.6 L1641.0,115.8 L1643.0,109.7 L1645.7,103.3 L1647.3,102.3 L1649.0,101.6 L1650.6,100.1 L1652.3,99.3 L1653.9,98.2 L1655.6,97.2 L1657.2,97.1 L1658.9,96.0 L1660.5,95.0 L1662.2,93.3 L1663.8,91.9 L1665.5,91.4 L1667.2,90.1 L1668.8,89.4 L1670.5,88.5 L1672.1,88.1 L1673.8,86.7 L1675.4,85.9 L1677.1,84.2 L1678.7,84.1 L1680.4,83.1 L1682.0,82.0 L1683.7,81.1 L1685.3,80.2 L1687.0,79.1 L1688.7,78.8 L1690.3,77.6 L1692.0,77.5 L1693.6,78.6 L1695.3,78.8 L1696.9,79.2 L1698.6,80.2 L1700.2,81.0 L1701.9,82.9 L1703.5,82.7 L1705.2,84.1 L1707.8,89.8 L1709.6,94.0 L1711.4,98.4 L1713.1,103.0 L1714.9,107.0 L1716.6,109.6 L1718.4,113.6 L1720.2,116.7 L1721.9,119.2 L1723.7,121.6 L1725.5,121.1 L1727.2,120.4 L1729.0,120.2 L1730.8,118.5 L1732.5,117.0 L1734.3,114.3 L1736.3,113.4 L1738.3,112.3 L1739.9,113.4 L1741.6,114.2 L1743.2,113.7 L1744.9,115.6 L1746.6,115.8 L1748.4,116.8 L1750.2,116.9 L1751.9,116.6 L1753.7,116.2 L1755.4,115.6 L1758.1,111.0 L1760.1,111.2 L1762.1,111.1 L1764.0,111.0" fill="none" stroke="#30e6e6" stroke-width="2.0" stroke-linejoin="round"/>
<path d="M123.2,85.8 L125.3,84.9 L127.4,84.3 L129.5,83.8 L131.4,83.6 L133.3,83.7 L135.2,84.2 L137.1,83.6 L139.0,83.8 L141.0,85.3 L143.0,86.3 L145.0,88.2 L147.0,89.0 L149.4,91.7 L151.7,94.6 L154.1,100.3 L156.5,105.7 L159.7,118.4 L162.9,123.1 L165.2,122.9 L167.6,123.1 L169.7,123.6 L171.9,122.8 L174.0,122.3 L176.3,119.0 L178.7,116.8 L181.9,113.6 L184.3,113.3 L186.7,112.0 L188.8,111.8 L190.9,111.5 L193.0,110.4 L195.4,110.8 L197.8,112.0 L201.0,113.6 L203.3,114.2 L205.7,115.2 L208.1,116.1 L210.5,116.0 L212.9,114.6 L215.2,114.4 L217.2,113.8 L219.2,112.9 L221.2,112.1 L223.2,111.2 L225.2,109.7 L227.1,108.3 L229.1,107.9 L231.1,106.5 L233.0,105.8 L234.9,103.4 L236.8,102.2 L238.7,101.0 L240.6,99.3 L242.5,97.0 L244.4,96.3 L246.3,94.6 L248.3,92.9 L250.2,91.4 L252.5,93.2 L254.9,94.6 L257.3,96.4 L259.7,99.3 L262.1,105.7 L264.4,118.4 L267.6,135.8 L269.6,144.1 L271.6,151.7 L274.0,154.9 L277.1,148.5 L279.5,145.0 L281.9,142.2 L284.0,140.3 L286.1,137.8 L288.3,135.8 L290.4,132.7 L292.5,129.5 L294.6,126.3 L296.6,124.2 L298.6,121.9 L300.6,117.9 L302.5,115.2 L304.5,111.5 L306.5,110.1 L308.5,106.6 L310.5,104.1 L312.6,103.7 L314.7,103.9 L316.8,104.1 L318.9,105.3 L321.1,106.9 L323.2,108.9 L325.3,108.7 L327.4,109.2 L329.5,108.9 L331.3,107.6 L333.2,105.7 L335.0,106.0 L336.8,104.2 L338.6,103.1 L340.4,102.6 L342.2,100.9 L344.2,99.9 L346.2,97.8 L348.2,96.9 L350.2,95.4 L352.1,94.3 L354.1,93.8 L356.1,92.2 L358.1,90.6 L360.1,89.8 L362.1,88.9 L364.0,89.0 L366.0,87.4 L368.0,86.5 L370.0,86.2 L372.0,86.1 L374.0,85.8 L375.8,83.8 L377.5,82.1 L379.3,81.5 L381.1,80.3 L383.1,83.0 L385.1,85.0 L387.1,87.8 L389.0,89.7 L391.0,91.9 L393.0,94.6 L395.1,97.6 L397.2,100.1 L399.4,102.5 L401.5,104.8 L403.6,108.1 L405.7,110.4 L408.1,110.7 L410.5,112.0 L413.7,118.4 L416.8,126.3 L419.9,132.7 L422.0,136.1 L424.0,141.4 L426.1,145.4 L428.5,141.8 L430.9,137.4 L433.0,133.3 L435.1,129.6 L437.2,126.3 L440.4,115.2 L443.6,112.8 L446.7,113.6 L449.9,116.0 L452.0,112.0 L454.2,107.8 L456.3,104.1 L458.7,102.8 L461.0,101.7 L463.4,100.5 L465.8,100.1 L468.2,104.1 L470.6,102.5 L472.1,96.2 L474.3,94.8 L476.4,93.4 L478.5,92.2 L480.6,91.1 L482.7,90.0 L484.8,88.2 L486.8,85.9 L488.8,84.7 L490.8,83.3 L492.8,81.1 L495.2,82.5 L497.5,83.5 L499.5,88.3 L501.5,93.0 L503.9,110.4 L505.5,134.3 L507.1,154.9 L510.2,158.1 L513.4,156.5 L516.6,152.5 L518.7,151.4 L520.8,150.4 L522.9,150.1 L525.1,149.3 L527.2,148.6 L529.3,146.2 L531.4,144.0 L533.5,140.8 L535.6,139.0 L538.0,133.4 L540.4,127.9 L543.6,124.7 L546.0,125.8 L548.3,126.3 L551.5,135.8 L554.7,126.3 L557.9,116.8 L559.8,115.6 L561.8,114.2 L563.8,113.0 L565.8,112.0 L567.8,111.5 L569.8,110.5 L571.7,109.7 L573.7,108.9 L575.7,108.0 L577.7,108.1 L579.7,107.5 L581.7,107.3 L583.7,106.1 L585.6,104.8 L587.6,102.7 L589.6,101.7 L591.6,99.8 L593.6,99.3 L595.6,98.0 L597.5,96.2 L599.4,94.9 L601.2,94.9 L603.1,93.1 L604.9,91.1 L606.8,91.1 L608.7,89.8 L610.8,91.6 L612.9,92.2 L615.0,93.8 L617.4,96.5 L619.8,99.3 L622.1,110.4 L624.5,129.5 L627.7,151.7 L630.1,161.2 L632.1,154.4 L634.0,148.5 L636.2,143.9 L638.3,139.3 L640.4,134.3 L642.4,132.2 L644.4,130.1 L646.3,128.2 L648.3,126.3 L650.4,123.4 L652.6,120.6 L654.7,118.4 L657.1,114.4 L659.4,112.0 L661.8,110.6 L664.2,108.9 L666.6,110.9 L669.0,112.0 L671.1,109.8 L673.2,108.1 L675.3,105.7 L677.2,106.0 L679.1,106.7 L681.0,107.4 L682.9,108.3 L684.8,108.9 L686.8,108.2 L688.8,107.8 L690.8,106.5 L692.8,105.7 L694.8,104.5 L696.7,102.4 L698.7,101.2 L700.7,100.1 L702.7,99.1 L704.7,97.8 L706.7,96.3 L708.7,94.6 L710.5,94.0 L712.4,93.7 L714.2,93.3 L716.1,92.7 L717.9,92.2 L719.8,91.6 L721.7,89.9 L723.7,88.6 L725.6,86.3 L727.5,85.8 L729.6,85.9 L731.7,87.1 L733.8,87.4 L735.7,89.0 L737.5,89.2 L739.4,91.4 L741.7,100.1 L744.1,113.6 L747.3,132.7 L749.7,141.4 L752.9,140.6 L755.2,138.2 L757.6,136.6 L760.0,135.7 L762.4,134.3 L764.8,130.9 L767.1,127.9 L769.3,124.8 L771.4,121.7 L773.5,118.4 L775.6,115.6 L777.7,115.3 L779.8,113.6 L782.0,114.3 L784.1,113.6 L786.2,113.6 L788.3,110.4 L790.4,107.9 L792.5,105.7 L794.7,103.8 L796.8,102.6 L798.9,101.7 L801.0,100.5 L803.1,98.6 L805.2,97.7 L807.4,97.2 L809.5,96.2 L811.6,96.2 L813.7,94.6 L815.8,93.0 L817.9,92.2 L820.1,90.3 L822.2,88.1 L824.3,86.6 L826.4,85.6 L828.5,85.0 L830.6,83.5 L832.8,82.6 L834.9,81.9 L837.0,81.1 L839.0,80.5 L841.0,79.7 L842.9,79.9 L844.9,78.7 L846.8,78.5 L848.7,78.4 L850.6,76.9 L852.5,75.7 L854.4,75.5 L856.8,77.1 L859.2,77.1 L861.3,79.3 L863.4,82.4 L865.6,85.0 L867.7,88.1 L869.8,91.8 L871.9,94.6 L874.0,97.5 L876.1,100.7 L878.3,104.1 L880.6,104.0 L883.0,104.9 L885.1,104.2 L887.2,103.7 L889.4,102.5 L891.5,102.0 L893.6,101.8 L895.7,101.7 L897.8,101.9 L899.9,101.4 L902.1,101.7 L904.0,101.3 L906.0,101.9 L908.0,101.1 L910.0,100.9 L912.1,100.9 L914.2,100.7 L916.3,100.1 L918.3,100.7 L920.3,100.7 L922.3,99.3 L924.3,99.7 L926.1,99.5 L928.0,99.3 L929.8,99.3 L931.7,99.2 L933.5,98.8 L935.4,98.5 L937.3,96.9 L939.2,95.7 L941.1,95.4 L943.0,94.5 L944.9,93.0 L946.8,91.7 L948.6,90.5 L950.5,89.0 L952.3,88.6 L954.2,88.3 L956.0,86.6 L958.0,86.1 L960.0,85.3 L962.0,85.2 L964.0,83.5 L965.7,82.5 L967.5,81.1 L969.2,79.6 L971.0,79.1 L972.7,77.1 L974.5,79.0 L976.3,79.6 L978.1,82.0 L979.8,83.5 L982.0,86.0 L984.1,89.0 L986.2,91.4 L988.3,94.3 L990.4,96.6 L992.5,99.3 L994.9,100.3 L997.3,100.9 L999.7,103.0 L1002.1,105.7 L1004.4,107.7 L1006.8,110.4 L1008.9,109.0 L1010.9,106.5 L1012.9,105.7 L1014.8,104.1 L1016.7,104.2 L1018.7,103.5 L1020.6,103.1 L1022.5,102.5 L1024.8,103.2 L1027.2,104.1 L1029.3,106.5 L1031.5,108.3 L1033.6,110.4 L1035.7,109.3 L1037.8,108.7 L1039.9,107.6 L1042.0,107.3 L1044.2,106.3 L1046.3,105.7 L1049.4,104.9 L1051.6,104.2 L1053.7,101.9 L1055.8,100.9 L1057.9,99.9 L1060.0,98.1 L1062.1,97.0 L1064.3,95.2 L1066.4,94.2 L1068.5,92.2 L1070.6,90.6 L1072.7,88.1 L1074.8,86.6 L1077.0,84.9 L1079.1,83.0 L1081.2,81.9 L1083.3,80.8 L1085.4,80.2 L1087.5,78.7 L1089.7,77.8 L1091.8,77.8 L1093.9,77.1 L1096.0,78.2 L1098.1,79.2 L1100.2,80.3 L1102.4,81.8 L1104.5,84.5 L1106.6,86.6 L1108.7,88.9 L1110.8,90.4 L1112.9,92.2 L1116.1,97.7 L1118.2,99.4 L1120.3,101.8 L1122.5,104.1 L1124.6,105.1 L1126.7,105.7 L1128.8,107.3 L1132.0,105.7 L1134.4,103.9 L1136.7,102.5 L1139.9,95.4 L1142.3,96.5 L1144.7,97.7 L1147.1,99.1 L1149.4,100.9 L1151.8,98.3 L1154.2,96.2 L1156.3,97.3 L1158.4,97.1 L1160.6,97.7 L1163.7,97.7 L1165.6,98.0 L1167.5,99.3 L1169.4,99.0 L1171.3,99.3 L1173.3,100.1 L1176.4,99.3 L1179.6,93.8 L1182.8,89.8 L1184.9,89.2 L1187.0,87.5 L1189.1,85.8 L1191.2,85.1 L1193.4,83.6 L1195.5,83.5 L1197.5,82.4 L1199.4,81.9 L1201.4,80.8 L1203.4,79.5 L1205.4,78.9 L1207.4,77.7 L1209.4,76.8 L1211.3,76.3 L1213.3,76.3 L1215.3,77.6 L1217.3,78.2 L1219.3,78.7 L1221.3,79.3 L1223.3,80.9 L1225.2,81.3 L1227.2,82.7 L1229.6,84.5 L1232.0,86.6 L1234.4,89.4 L1236.7,92.2 L1238.9,95.6 L1241.0,99.5 L1243.1,102.5 L1245.2,103.5 L1247.3,105.7 L1249.4,107.3 L1251.6,106.4 L1253.7,106.3 L1255.8,105.7 L1258.2,103.3 L1260.6,100.9 L1262.7,102.7 L1264.8,103.3 L1266.9,104.1 L1268.9,104.6 L1270.9,105.4 L1272.9,105.9 L1274.8,107.3 L1276.8,107.9 L1278.8,107.8 L1280.8,108.4 L1282.8,108.1 L1284.8,107.7 L1286.7,106.5 L1288.7,106.0 L1290.7,105.7 L1292.7,103.9 L1294.7,102.0 L1296.7,101.4 L1298.7,99.3 L1300.6,97.8 L1302.5,96.2 L1304.4,93.6 L1306.3,92.2 L1308.5,88.5 L1310.6,86.1 L1312.7,82.7 L1314.7,80.5 L1316.7,79.3 L1318.7,77.9 L1320.6,75.8 L1322.6,75.2 L1324.6,73.7 L1326.6,72.8 L1328.6,71.9 L1330.6,71.5 L1332.5,72.4 L1334.5,73.0 L1336.5,73.1 L1338.9,76.8 L1341.3,80.3 L1343.4,81.5 L1345.5,83.1 L1347.6,83.5 L1350.0,88.9 L1352.4,93.0 L1354.4,95.0 L1356.3,97.9 L1358.3,99.5 L1360.3,102.5 L1362.4,103.4 L1364.6,106.0 L1366.7,107.3 L1369.0,106.1 L1371.4,105.7 L1373.8,105.3 L1376.2,104.1 L1378.3,104.3 L1380.4,103.6 L1382.5,102.5 L1384.7,103.7 L1386.8,104.1 L1388.9,105.7 L1391.0,106.6 L1393.1,108.2 L1395.2,108.9 L1397.4,108.6 L1399.5,108.5 L1401.6,108.9 L1403.7,108.8 L1405.8,108.6 L1407.9,108.1 L1410.1,106.5 L1412.2,103.8 L1414.3,101.7 L1416.4,99.9 L1418.5,97.4 L1420.6,96.2 L1422.8,94.7 L1424.9,91.4 L1427.0,89.8 L1429.1,87.3 L1431.2,86.7 L1433.3,85.0 L1435.7,82.2 L1438.1,80.3 L1440.5,78.9 L1442.9,77.1 L1444.8,75.0 L1446.8,75.1 L1448.8,72.8 L1450.8,71.6 L1452.9,73.3 L1455.0,75.3 L1457.1,77.4 L1459.1,79.4 L1461.1,81.1 L1463.1,83.1 L1465.1,85.4 L1467.0,87.6 L1468.9,89.0 L1470.8,90.0 L1472.7,92.7 L1474.6,94.6 L1476.6,97.0 L1478.6,99.5 L1480.6,101.8 L1482.5,104.1 L1484.7,108.9 L1486.8,112.8 L1488.9,118.4 L1492.1,121.6 L1495.2,112.0 L1497.6,110.5 L1500.0,107.3 L1502.1,109.5 L1504.2,111.6 L1506.3,113.6 L1508.5,115.5 L1510.6,115.9 L1512.7,116.8 L1514.8,114.8 L1516.9,113.5 L1519.0,112.0 L1521.2,111.3 L1523.3,109.9 L1525.4,108.9 L1527.5,106.8 L1529.6,106.1 L1531.7,104.1 L1533.9,101.1 L1536.0,99.7 L1538.1,97.7 L1540.2,95.7 L1542.3,94.9 L1544.4,93.0 L1546.3,91.2 L1548.3,91.1 L1550.2,90.5 L1552.1,89.4 L1554.0,88.2 L1555.8,86.4 L1557.6,85.6 L1559.5,84.5 L1561.3,82.9 L1563.1,81.8 L1565.0,80.3 L1567.0,78.4 L1568.9,77.6 L1570.6,77.9 L1572.2,76.9 L1573.9,78.3 L1575.6,78.3 L1577.5,79.1 L1579.5,80.0 L1581.5,81.2 L1583.5,81.6 L1585.5,85.7 L1587.5,92.5 L1590.1,105.7 L1592.8,121.6 L1595.4,126.8 L1597.4,126.8 L1599.4,128.2 L1602.0,127.5 L1603.8,126.8 L1605.5,126.0 L1607.3,125.5 L1609.1,125.2 L1610.8,125.1 L1612.6,124.2 L1614.4,123.6 L1616.1,122.5 L1617.9,121.6 L1619.6,120.9 L1621.4,120.0 L1623.2,120.2 L1625.2,117.5 L1627.1,114.9 L1629.1,115.6 L1631.1,116.3 L1633.1,118.3 L1635.1,121.6 L1637.7,118.9 L1640.4,112.3 L1643.0,108.3 L1645.7,103.0 L1647.3,102.4 L1649.0,102.2 L1650.6,99.9 L1652.3,99.1 L1653.9,98.7 L1655.6,97.4 L1657.2,96.1 L1658.9,95.8 L1660.5,93.8 L1662.2,93.5 L1663.8,92.4 L1665.5,91.1 L1667.2,89.8 L1668.8,90.0 L1670.5,88.9 L1672.1,87.8 L1673.8,87.1 L1675.4,86.1 L1677.1,85.1 L1678.7,83.9 L1680.4,83.6 L1682.0,81.9 L1683.7,80.5 L1685.3,79.9 L1687.0,78.4 L1688.7,78.7 L1690.3,77.6 L1692.0,77.2 L1693.6,78.7 L1695.3,78.2 L1696.9,79.3 L1698.6,79.9 L1700.2,81.3 L1701.9,82.0 L1703.5,83.3 L1705.2,83.9 L1707.8,89.1 L1709.6,93.2 L1711.4,96.5 L1713.1,100.4 L1714.9,103.3 L1716.6,106.6 L1718.4,109.7 L1720.4,113.2 L1722.4,116.3 L1724.4,117.1 L1726.3,118.9 L1729.0,118.2 L1730.8,117.0 L1732.5,115.1 L1734.3,113.6 L1736.3,113.2 L1738.3,111.6 L1739.9,112.2 L1741.6,113.3 L1743.2,113.5 L1744.9,114.9 L1746.6,115.7 L1748.4,116.5 L1750.2,116.3 L1751.9,116.0 L1753.7,115.4 L1755.4,114.9 L1758.1,109.7 L1760.1,109.7 L1762.1,110.1 L1764.0,109.7" fill="none" stroke="#d82ce8" stroke-width="2.0" stroke-linejoin="round"/>
<path d="M123.2,89.8 L125.3,88.8 L127.4,88.3 L129.5,87.4 L131.4,87.6 L133.2,87.3 L135.1,87.4 L136.9,87.8 L138.8,86.8 L140.6,87.0 L142.8,87.7 L144.9,89.7 L147.0,90.6 L148.8,92.8 L150.7,94.4 L152.5,96.2 L154.5,100.7 L156.5,105.7 L159.7,118.4 L162.1,122.3 L164.0,122.7 L166.0,123.9 L168.0,123.5 L170.0,123.7 L172.0,123.5 L174.0,123.1 L176.0,121.3 L177.9,118.4 L179.5,110.4 L181.9,107.6 L184.0,107.4 L186.1,106.9 L188.3,106.5 L190.1,105.8 L192.0,105.8 L193.8,104.9 L195.7,106.0 L197.5,107.0 L199.4,108.1 L201.5,109.5 L203.6,112.2 L205.7,113.6 L208.1,115.1 L210.5,116.0 L212.9,115.3 L215.2,114.4 L217.4,113.9 L219.5,112.8 L221.6,112.0 L223.7,110.9 L225.8,110.0 L227.9,108.9 L230.1,107.7 L232.2,107.0 L234.3,105.7 L236.4,103.9 L238.5,101.2 L240.6,99.3 L243.0,98.3 L245.4,97.0 L247.8,95.1 L250.2,92.2 L252.5,94.1 L254.9,95.4 L257.3,96.8 L259.7,99.3 L262.1,104.1 L264.4,113.6 L267.6,132.7 L270.0,148.5 L272.4,153.3 L275.6,148.5 L278.7,140.6 L281.9,131.1 L285.1,126.3 L288.3,124.7 L290.4,124.1 L292.5,122.4 L294.6,121.6 L296.6,120.3 L298.6,118.5 L300.6,116.5 L302.5,115.2 L304.5,113.1 L306.5,111.4 L308.5,109.3 L310.5,107.3 L312.6,107.0 L314.7,106.3 L316.8,105.7 L318.9,107.3 L321.1,109.2 L323.2,110.4 L325.3,110.7 L327.4,111.0 L329.5,110.4 L331.3,109.3 L333.2,108.0 L335.0,106.8 L336.8,106.3 L338.6,104.9 L340.4,103.7 L342.2,102.5 L344.2,101.3 L346.2,100.3 L348.2,99.2 L350.2,97.7 L352.1,96.3 L354.1,95.0 L356.1,94.1 L358.1,93.0 L360.1,92.5 L362.1,91.6 L364.0,91.6 L366.0,90.6 L368.0,89.7 L370.0,90.2 L372.0,89.4 L374.0,89.0 L376.1,87.6 L378.2,85.3 L380.3,83.5 L382.7,85.0 L385.1,86.6 L387.1,88.4 L389.0,90.8 L391.0,92.8 L393.0,94.6 L395.1,96.8 L397.2,99.1 L399.4,101.7 L401.5,103.3 L403.6,104.3 L405.7,105.7 L408.1,105.7 L410.5,106.5 L413.7,100.1 L416.8,100.9 L419.8,102.5 L422.1,105.9 L424.5,108.9 L426.6,111.3 L428.8,113.9 L430.9,116.8 L434.0,123.1 L436.4,116.8 L438.8,112.8 L442.0,113.6 L444.4,114.6 L446.7,115.2 L449.9,116.8 L452.3,111.8 L454.7,107.3 L457.1,103.7 L459.4,100.1 L461.6,99.6 L463.7,98.7 L465.8,97.7 L467.9,97.2 L470.0,96.1 L472.1,95.4 L474.3,94.4 L476.4,93.3 L478.5,92.2 L480.6,90.9 L482.7,89.2 L484.8,88.2 L486.8,87.6 L488.8,86.8 L490.8,85.8 L492.8,85.0 L495.2,86.1 L497.5,87.4 L499.5,90.3 L501.5,93.0 L503.9,104.1 L506.3,116.8 L508.7,134.3 L510.2,148.5 L511.8,152.5 L514.2,152.4 L516.6,152.5 L518.7,151.4 L520.8,150.1 L522.9,148.5 L525.1,147.5 L527.2,146.8 L529.3,146.2 L531.4,143.9 L533.5,140.9 L535.6,139.0 L538.0,132.6 L540.4,126.3 L542.0,116.8 L545.2,113.6 L547.1,113.7 L549.0,113.4 L550.9,113.8 L552.8,113.5 L554.7,113.6 L557.9,116.8 L559.8,115.4 L561.8,114.5 L563.8,113.0 L565.8,112.0 L567.8,111.2 L569.8,110.3 L571.7,109.5 L573.7,108.9 L575.7,108.3 L577.7,107.9 L579.7,108.2 L581.7,108.1 L583.7,106.6 L585.6,105.1 L587.6,104.3 L589.6,102.5 L591.6,101.6 L593.6,100.0 L595.6,99.1 L597.5,97.7 L599.4,97.0 L601.2,96.1 L603.1,95.6 L604.9,94.5 L606.8,94.0 L608.7,93.0 L610.8,93.9 L612.9,94.8 L615.0,96.2 L617.4,98.6 L619.8,100.9 L622.1,112.0 L624.5,124.7 L627.7,148.5 L630.1,161.2 L632.5,158.1 L635.6,145.4 L638.0,138.6 L640.4,132.7 L642.4,130.8 L644.4,128.2 L646.3,126.5 L648.3,124.7 L650.4,123.2 L652.6,121.6 L654.7,120.0 L657.1,116.8 L659.4,113.6 L661.8,112.1 L664.2,110.4 L666.6,112.4 L669.0,113.6 L671.1,111.7 L673.2,109.2 L675.3,107.3 L677.2,107.9 L679.1,108.5 L681.0,109.0 L682.9,109.5 L684.8,110.4 L686.8,109.8 L688.8,109.0 L690.8,108.3 L692.8,107.3 L694.8,106.3 L696.7,104.7 L698.7,103.6 L700.7,102.5 L702.7,101.5 L704.7,100.1 L706.7,98.8 L708.7,97.7 L710.5,97.0 L712.4,96.6 L714.2,95.1 L716.1,95.0 L717.9,94.6 L719.8,93.5 L721.7,92.3 L723.7,91.2 L725.6,90.3 L727.5,89.0 L729.6,89.6 L731.7,90.5 L733.8,91.4 L735.7,92.3 L737.5,93.8 L739.4,94.6 L741.7,100.9 L744.1,113.6 L747.3,132.7 L749.7,142.2 L752.9,143.8 L755.2,142.6 L757.6,140.6 L760.0,138.8 L762.4,137.4 L764.8,133.2 L767.1,129.5 L769.3,127.0 L771.4,124.1 L773.5,121.6 L775.6,119.7 L777.7,118.4 L779.8,116.8 L782.0,117.6 L784.1,118.0 L786.2,117.6 L788.3,115.2 L790.4,111.7 L792.5,108.9 L794.7,107.0 L796.8,105.3 L798.9,104.1 L801.0,103.3 L803.1,102.0 L805.2,100.9 L807.4,100.9 L809.5,99.4 L811.6,99.3 L813.7,97.7 L815.8,96.2 L817.9,94.6 L820.1,92.9 L822.2,91.2 L824.3,89.8 L826.4,88.5 L828.5,87.6 L830.6,86.6 L832.8,85.4 L834.9,85.5 L837.0,84.3 L839.0,83.6 L841.0,82.7 L842.9,81.8 L844.9,81.1 L846.8,80.4 L848.7,80.5 L850.6,79.8 L852.5,79.5 L854.4,78.7 L856.8,79.8 L859.2,80.3 L861.3,82.7 L863.4,84.4 L865.6,86.6 L867.7,89.4 L869.8,91.7 L871.9,94.6 L874.0,97.8 L876.1,100.9 L878.3,104.1 L881.4,108.1 L883.5,107.4 L885.7,106.1 L887.8,105.7 L889.9,105.4 L892.0,104.8 L894.1,104.9 L896.5,102.7 L898.9,100.1 L901.0,98.7 L903.1,98.7 L905.2,97.7 L907.6,99.6 L910.0,101.7 L912.1,102.7 L914.2,103.1 L916.3,104.1 L918.3,104.0 L920.3,104.4 L922.3,104.3 L924.3,104.1 L926.1,103.6 L928.0,104.0 L929.8,103.8 L931.7,103.4 L933.5,103.5 L935.4,103.3 L937.3,102.3 L939.2,101.4 L941.1,100.0 L943.0,99.3 L944.9,97.7 L946.8,96.4 L948.6,95.5 L950.5,94.8 L952.3,93.9 L954.2,92.8 L956.0,91.4 L958.0,90.2 L960.0,89.1 L962.0,87.7 L964.0,86.6 L966.0,84.6 L967.9,83.7 L969.9,82.0 L971.9,81.1 L973.9,82.2 L975.9,83.3 L977.9,83.6 L979.8,85.0 L982.0,87.3 L984.1,89.1 L986.2,91.4 L988.3,94.0 L990.4,96.6 L992.5,99.3 L994.9,98.3 L997.3,97.0 L999.7,98.7 L1002.1,100.1 L1004.4,103.9 L1006.8,107.3 L1009.1,107.0 L1011.3,107.3 L1013.5,106.6 L1015.6,105.8 L1017.7,104.9 L1020.1,103.4 L1022.5,101.7 L1024.8,100.5 L1027.2,98.5 L1029.6,99.6 L1032.0,100.9 L1034.4,103.2 L1036.7,105.7 L1038.9,105.8 L1041.0,107.0 L1043.1,107.3 L1045.2,106.2 L1047.3,105.8 L1049.4,104.9 L1051.6,103.2 L1053.7,102.5 L1055.8,100.9 L1057.9,99.2 L1060.0,98.4 L1062.1,97.0 L1064.3,95.6 L1066.4,93.8 L1068.5,92.2 L1070.6,90.3 L1072.7,88.6 L1074.8,86.6 L1077.0,85.5 L1079.1,83.3 L1081.2,81.9 L1083.3,80.7 L1085.4,79.9 L1087.5,78.7 L1089.7,77.9 L1091.8,77.7 L1093.9,77.1 L1096.0,77.9 L1098.1,79.2 L1100.2,80.3 L1102.4,82.3 L1104.5,84.3 L1106.6,86.6 L1108.7,87.9 L1110.8,90.0 L1112.9,91.4 L1115.1,93.2 L1117.2,94.4 L1119.3,96.2 L1121.4,98.2 L1123.5,100.9 L1125.6,102.5 L1128.0,104.1 L1130.4,106.5 L1132.0,94.6 L1134.4,93.4 L1136.7,92.2 L1138.9,91.1 L1141.0,90.0 L1143.1,89.0 L1145.5,90.4 L1147.9,91.4 L1149.8,91.9 L1151.8,93.0 L1153.8,93.6 L1155.8,94.6 L1157.8,95.5 L1159.8,96.3 L1161.7,97.2 L1163.7,97.7 L1165.6,97.8 L1167.5,98.8 L1169.4,99.4 L1171.3,99.5 L1173.3,100.1 L1176.4,99.3 L1179.6,93.8 L1182.8,89.8 L1184.9,88.5 L1187.0,87.4 L1189.1,85.8 L1191.2,85.1 L1193.4,84.4 L1195.5,83.5 L1197.5,82.7 L1199.4,81.5 L1201.4,80.8 L1203.4,79.5 L1205.4,79.2 L1207.4,78.1 L1209.4,77.0 L1211.3,76.3 L1213.3,77.0 L1215.3,77.3 L1217.3,78.2 L1219.3,78.7 L1221.3,79.7 L1223.3,80.7 L1225.2,81.2 L1227.2,82.7 L1229.6,84.9 L1232.0,86.6 L1234.4,89.2 L1236.7,91.4 L1238.9,93.7 L1241.0,96.2 L1243.1,98.5 L1245.5,101.8 L1247.9,104.9 L1250.2,105.5 L1252.6,106.5 L1255.0,96.2 L1257.0,93.7 L1259.0,91.4 L1261.3,91.0 L1263.7,91.4 L1266.1,93.4 L1268.5,94.6 L1270.6,96.4 L1272.7,98.2 L1274.8,100.1 L1276.8,100.8 L1278.8,101.5 L1280.8,102.5 L1282.8,103.3 L1284.8,103.5 L1286.7,103.1 L1288.7,102.5 L1290.7,102.5 L1292.7,101.3 L1294.7,99.9 L1296.7,98.8 L1298.7,97.7 L1300.6,95.7 L1302.5,94.4 L1304.4,92.5 L1306.3,91.4 L1308.5,88.0 L1310.6,85.3 L1312.7,81.9 L1314.7,80.2 L1316.7,78.5 L1318.7,77.1 L1320.6,75.5 L1322.6,74.2 L1324.6,73.5 L1326.6,72.3 L1328.6,71.6 L1330.6,71.9 L1332.5,71.5 L1334.5,72.3 L1336.5,72.3 L1338.5,74.0 L1340.5,75.7 L1342.5,76.8 L1344.4,78.7 L1346.4,80.0 L1348.4,81.1 L1350.4,82.4 L1352.4,83.5 L1354.5,88.2 L1356.6,92.8 L1358.7,97.7 L1360.8,100.0 L1363.0,102.0 L1365.1,104.1 L1368.3,107.3 L1371.4,97.7 L1374.6,89.8 L1376.6,90.2 L1378.6,89.0 L1380.6,89.1 L1382.5,89.0 L1384.7,89.9 L1386.8,91.5 L1388.9,93.0 L1391.0,95.0 L1393.1,98.2 L1395.2,100.9 L1397.4,102.9 L1399.5,105.2 L1401.6,107.3 L1403.7,106.3 L1405.8,105.6 L1407.9,104.9 L1409.8,104.1 L1411.7,102.8 L1413.7,101.8 L1415.6,100.3 L1417.5,99.3 L1419.4,98.0 L1421.3,96.7 L1423.2,95.4 L1425.1,93.9 L1427.0,93.0 L1428.9,91.2 L1430.8,89.1 L1432.7,87.2 L1434.6,85.1 L1436.5,83.5 L1438.6,81.2 L1440.7,78.9 L1442.9,77.1 L1444.8,75.5 L1446.8,74.2 L1448.8,72.1 L1450.8,70.8 L1452.9,72.5 L1455.0,74.9 L1457.1,77.1 L1459.1,79.2 L1461.1,81.0 L1463.1,83.5 L1465.1,85.0 L1467.0,86.6 L1468.9,88.8 L1470.8,90.9 L1472.7,92.2 L1474.6,93.8 L1476.6,96.0 L1478.6,98.0 L1480.6,99.8 L1482.5,101.7 L1484.5,103.1 L1486.5,105.3 L1488.5,106.9 L1490.5,108.9 L1492.1,112.0 L1493.7,96.2 L1495.8,95.7 L1497.9,95.2 L1500.0,94.6 L1502.1,96.2 L1504.2,98.0 L1506.3,99.3 L1508.5,102.2 L1510.6,104.5 L1512.7,107.3 L1514.8,107.8 L1516.9,108.6 L1519.0,109.7 L1521.2,109.7 L1523.3,109.2 L1525.4,108.9 L1527.5,107.1 L1529.6,105.3 L1531.7,104.1 L1533.9,101.7 L1536.0,99.5 L1538.1,97.7 L1540.2,96.0 L1542.3,94.4 L1544.4,93.0 L1546.3,92.1 L1548.3,91.3 L1550.2,89.7 L1552.1,89.5 L1554.0,88.2 L1555.8,87.1 L1557.6,85.8 L1559.5,84.2 L1561.3,83.1 L1563.1,81.5 L1565.0,80.6 L1567.0,79.2 L1568.9,77.9 L1570.6,78.0 L1572.2,77.8 L1573.9,78.3 L1575.6,78.6 L1577.5,79.0 L1579.5,80.1 L1581.5,80.7 L1583.5,81.9 L1585.5,85.2 L1587.5,88.5 L1589.4,93.6 L1591.4,99.1 L1593.4,105.1 L1595.4,112.3 L1597.4,117.9 L1599.4,122.9 L1601.3,125.1 L1603.3,126.8 L1605.0,125.8 L1606.6,125.7 L1608.3,125.3 L1609.9,124.2 L1611.9,123.5 L1613.9,122.6 L1615.9,121.9 L1617.9,120.9 L1619.6,120.4 L1621.4,119.8 L1623.2,118.9 L1625.2,116.3 L1627.1,113.6 L1629.1,113.1 L1631.1,112.3 L1632.8,112.6 L1634.4,112.5 L1636.1,112.4 L1637.7,112.3 L1639.7,110.3 L1641.7,108.3 L1643.7,105.6 L1645.7,103.0 L1647.3,102.2 L1649.0,100.7 L1650.6,100.3 L1652.3,99.1 L1653.9,97.7 L1655.6,97.2 L1657.2,96.9 L1658.9,95.8 L1660.5,94.9 L1662.2,93.4 L1663.8,92.2 L1665.5,91.1 L1667.2,90.5 L1668.8,89.5 L1670.5,88.8 L1672.1,87.8 L1673.8,86.9 L1675.4,86.1 L1677.1,84.8 L1678.7,83.9 L1680.4,82.8 L1682.0,82.2 L1683.7,80.9 L1685.3,79.9 L1687.0,79.4 L1688.7,78.9 L1690.3,78.0 L1692.0,77.2 L1693.6,78.3 L1695.3,78.3 L1696.9,79.7 L1698.6,79.9 L1700.2,80.8 L1701.9,81.7 L1703.5,82.5 L1705.2,83.9 L1706.9,86.2 L1708.7,88.7 L1710.5,91.1 L1712.2,93.8 L1714.0,96.3 L1715.8,99.1 L1717.8,102.7 L1719.7,105.7 L1721.7,109.7 L1723.7,113.6 L1725.7,115.1 L1727.7,116.3 L1729.7,116.1 L1731.6,115.6 L1734.3,111.6 L1736.9,99.1 L1738.9,98.5 L1740.9,97.7 L1742.6,98.0 L1744.2,98.4 L1745.9,98.9 L1747.5,99.1 L1749.3,100.9 L1751.0,103.3 L1752.8,105.7 L1754.6,106.3 L1756.3,106.7 L1758.1,107.0 L1760.1,107.4 L1762.1,108.4 L1764.0,108.3" fill="none" stroke="#111111" stroke-width="2.0" stroke-linejoin="round"/>
</g>
<g clip-path="url(#clipb)">
<path d="M122.8,595.3 L125.6,584.2 L127.9,563.8 L130.2,544.4 L133.0,556.4 L135.7,600.9 L138.5,584.2 L141.3,565.7 L143.1,593.5 L145.9,554.6 L147.8,553.9 L149.6,556.4 L152.4,528.7 L155.2,480.5 L157.0,421.3 L158.9,465.7 L161.7,519.4 L163.5,565.7 L166.3,593.5 L168.1,595.7 L170.0,597.5 L171.9,599.9 L173.7,600.9 L175.6,594.7 L177.4,587.8 L179.3,584.2 L180.9,579.1 L182.5,573.9 L184.1,568.7 L185.7,563.9 L188.1,567.2 L190.4,569.4 L192.2,572.9 L194.1,576.6 L195.9,578.6 L197.8,582.4 L199.6,582.3 L201.5,583.7 L203.3,585.7 L205.2,586.1 L208.0,582.4 L209.8,584.4 L211.7,587.0 L213.3,586.2 L215.0,585.3 L216.7,583.8 L218.3,583.2 L220.0,582.4 L221.9,580.7 L223.7,578.7 L225.6,576.8 L227.4,562.8 L229.3,549.0 L231.1,528.7 L233.0,541.3 L234.8,554.6 L236.7,554.3 L238.5,553.4 L240.4,552.7 L242.2,548.3 L244.1,544.8 L245.9,539.8 L247.8,518.5 L249.6,495.3 L251.5,513.5 L253.3,528.7 L256.1,560.1 L258.4,549.3 L260.7,539.8 L262.6,555.0 L264.4,569.4 L267.2,510.1 L270.0,367.6 L271.9,399.0 L274.6,432.4 L276.9,440.1 L279.3,449.0 L281.1,423.8 L283.0,398.2 L284.8,373.1 L286.7,394.9 L288.5,417.6 L291.3,480.5 L294.1,547.2 L295.9,549.3 L297.8,549.0 L300.6,565.7 L302.9,582.0 L305.2,599.0 L307.0,589.7 L308.9,579.0 L310.7,569.4 L312.6,569.1 L314.4,566.3 L316.3,565.7 L318.1,562.2 L320.0,560.1 L321.9,556.4 L324.2,548.7 L326.5,541.6 L328.8,549.4 L331.1,558.3 L333.0,566.7 L334.8,575.0 L336.7,559.3 L338.5,544.8 L340.4,528.7 L342.2,538.8 L344.1,546.8 L345.9,556.4 L348.2,570.7 L350.6,584.2 L352.4,547.1 L354.3,508.4 L356.1,470.8 L358.0,432.6 L359.8,394.2 L362.6,455.3 L364.4,519.7 L366.3,585.0 L368.1,594.0 L370.0,601.6 L371.9,593.8 L373.7,585.0 L375.6,564.7 L377.4,547.9 L379.3,498.6 L381.1,449.8 L383.0,492.4 L384.8,533.6 L386.7,575.7 L388.5,566.7 L390.4,557.7 L392.2,547.9 L394.1,492.4 L395.9,549.8 L397.8,550.4 L399.6,550.4 L401.5,551.6 L403.3,542.5 L405.2,533.1 L407.0,544.9 L408.9,555.3 L410.7,542.5 L412.6,529.4 L414.4,543.3 L416.3,557.2 L418.1,571.4 L420.0,586.8 L421.9,589.7 L423.7,591.9 L425.6,595.6 L427.4,597.9 L429.3,600.3 L431.1,599.5 L433.0,601.6 L434.8,600.1 L436.7,595.9 L438.5,594.2 L440.4,595.3 L442.2,597.6 L444.1,598.2 L445.9,599.8 L447.8,601.1 L449.6,601.5 L451.5,603.5 L453.3,603.5 L455.2,594.5 L457.0,585.0 L458.9,584.8 L460.7,584.1 L462.6,583.0 L464.4,583.1 L466.6,592.4 L468.7,600.9 L470.6,593.2 L472.4,585.9 L474.3,578.7 L477.0,556.4 L479.8,575.0 L481.7,582.4 L483.5,581.9 L485.4,582.4 L487.7,582.7 L490.0,582.4 L491.6,564.5 L493.2,548.1 L494.9,530.7 L496.5,513.9 L498.3,531.6 L500.2,548.8 L502.0,565.7 L503.9,577.8 L505.7,591.6 L507.6,583.1 L509.4,573.1 L511.3,583.4 L513.1,593.5 L515.0,597.4 L516.9,600.9 L518.7,605.1 L520.6,608.3 L522.4,603.6 L524.3,597.2 L526.1,590.1 L528.0,582.4 L529.8,577.9 L531.7,571.3 L534.0,575.4 L536.3,580.5 L538.6,573.5 L540.9,565.7 L542.8,567.9 L544.6,569.9 L546.5,571.3 L548.3,575.2 L550.2,578.8 L552.0,584.6 L553.9,587.9 L555.7,590.7 L557.6,594.3 L559.4,597.2 L561.3,600.1 L563.1,603.7 L565.0,608.3 L566.6,608.5 L568.2,609.7 L569.9,610.4 L571.5,610.1 L573.8,606.8 L576.1,602.7 L578.0,599.1 L579.8,593.5 L581.7,595.0 L583.5,595.3 L585.4,597.2 L587.2,600.9 L589.1,595.2 L590.9,589.8 L592.8,586.7 L594.6,586.0 L596.5,582.9 L598.3,580.5 L600.2,571.1 L602.0,562.0 L603.9,572.0 L605.7,582.4 L608.5,556.4 L611.3,597.2 L613.1,599.7 L615.0,602.3 L616.9,604.6 L618.5,605.2 L620.1,606.2 L621.7,606.8 L623.3,608.3 L625.2,611.1 L627.0,613.9 L629.4,610.2 L631.7,608.3 L633.5,607.0 L635.4,606.0 L637.2,604.6 L639.1,601.2 L640.9,598.5 L642.8,597.2 L644.4,596.0 L646.0,592.1 L647.6,590.0 L649.3,587.9 L651.6,590.2 L653.9,591.6 L655.7,596.2 L657.6,598.9 L659.4,602.7 L661.3,605.8 L663.1,608.3 L665.0,607.4 L666.9,605.5 L668.7,602.7 L670.6,604.5 L672.4,605.6 L674.3,606.2 L676.1,608.3 L678.0,609.8 L679.8,611.4 L681.7,612.0 L683.5,612.6 L685.4,612.2 L687.2,613.1 L689.1,613.9 L690.7,614.4 L692.3,615.5 L693.9,615.8 L695.6,617.6 L697.2,616.3 L698.8,613.9 L700.4,612.8 L702.0,610.1 L703.9,608.9 L705.7,609.6 L707.6,609.5 L709.4,610.1 L711.3,608.2 L713.1,606.2 L715.0,605.2 L716.9,602.7 L719.2,600.9 L721.5,599.0 L723.3,578.1 L725.2,556.0 L727.0,535.6 L728.9,513.9 L730.7,538.0 L732.6,561.5 L734.4,585.6 L736.3,608.3 L737.9,608.8 L739.5,610.5 L741.2,611.5 L742.8,612.0 L744.6,613.0 L746.5,614.7 L748.3,615.9 L750.2,617.6 L752.0,589.8 L753.7,565.9 L755.4,541.6 L757.4,548.3 L759.4,556.4 L761.3,565.9 L763.1,575.2 L765.0,584.2 L766.9,589.8 L768.7,594.4 L770.6,599.0 L772.4,601.3 L774.3,603.1 L776.1,605.6 L778.0,606.8 L779.8,608.3 L781.7,610.9 L783.5,610.5 L785.4,611.6 L787.2,612.8 L789.1,613.9 L790.9,613.8 L792.8,614.2 L794.6,615.3 L796.5,613.9 L798.3,615.1 L800.2,615.2 L802.0,616.5 L803.9,617.6 L805.6,617.2 L807.2,616.4 L808.9,617.2 L810.6,617.2 L812.2,615.3 L813.9,616.8 L815.6,615.7 L817.4,615.8 L819.3,614.4 L821.1,613.9 L823.0,614.3 L824.8,614.0 L826.7,614.6 L828.5,613.9 L830.4,614.1 L832.2,614.0 L834.1,613.8 L835.9,613.9 L837.8,610.0 L839.6,606.2 L841.5,600.9 L843.3,592.5 L845.2,583.6 L847.0,575.0 L848.9,560.0 L850.7,547.2 L853.5,554.6 L855.4,573.1 L858.1,575.0 L860.0,581.1 L861.9,586.7 L863.7,591.6 L865.6,597.1 L867.4,602.7 L869.3,597.3 L871.1,593.5 L873.9,528.7 L876.7,486.1 L878.5,489.0 L880.4,491.6 L882.2,503.6 L884.1,517.6 L885.9,533.4 L887.8,550.4 L889.6,565.7 L891.5,579.7 L893.3,593.6 L895.2,608.3 L897.0,611.3 L898.9,610.9 L900.7,612.3 L902.6,613.9 L904.4,613.4 L906.3,615.4 L908.1,617.1 L910.0,617.6 L911.9,616.1 L913.7,617.7 L915.6,617.6 L917.4,618.3 L919.3,619.3 L921.1,618.3 L923.0,619.1 L924.8,619.4 L926.7,619.1 L928.5,619.7 L930.4,619.5 L932.2,619.4 L934.1,619.5 L935.9,618.0 L937.8,617.1 L939.6,617.6 L941.5,617.9 L943.3,617.8 L945.2,618.3 L947.0,617.6 L948.9,616.7 L950.7,616.2 L952.6,616.1 L954.4,616.4 L956.3,615.5 L958.1,615.7 L960.0,616.1 L961.9,613.4 L963.7,614.3 L965.6,613.1 L967.4,612.0 L969.3,610.7 L971.1,610.4 L973.0,606.4 L974.8,604.8 L976.7,602.8 L978.5,600.9 L980.4,603.7 L982.2,605.4 L984.1,608.3 L985.9,568.7 L987.8,528.7 L990.1,505.4 L992.4,480.5 L994.7,491.4 L997.0,502.7 L998.9,524.5 L1000.7,547.2 L1002.6,565.9 L1004.4,583.9 L1006.3,602.7 L1008.1,604.6 L1010.0,607.4 L1011.9,609.7 L1013.7,612.0 L1015.6,613.4 L1017.4,613.2 L1019.3,615.5 L1021.1,616.1 L1023.0,617.6 L1024.8,617.8 L1026.7,617.9 L1028.5,618.4 L1030.4,619.4 L1032.2,619.4 L1034.1,620.7 L1035.9,621.1 L1037.8,621.3 L1039.6,621.5 L1041.5,621.3 L1043.3,620.8 L1045.2,621.0 L1047.0,621.5 L1048.9,621.2 L1050.7,621.3 L1052.6,622.2 L1054.4,621.6 L1056.3,620.7 L1058.1,621.3 L1060.0,621.6 L1061.9,620.9 L1063.7,619.2 L1065.6,619.4 L1067.2,619.3 L1068.8,618.8 L1070.4,619.1 L1072.0,619.0 L1073.7,618.7 L1075.3,619.7 L1076.9,619.0 L1078.5,619.4 L1080.4,618.6 L1082.2,617.4 L1084.1,617.6 L1085.9,615.3 L1087.8,612.6 L1089.6,610.1 L1091.5,610.7 L1093.3,609.0 L1095.2,608.3 L1097.0,610.6 L1098.9,610.3 L1100.7,612.0 L1102.6,612.7 L1104.4,614.2 L1106.3,615.7 L1108.1,585.2 L1110.0,556.4 L1111.9,547.6 L1113.7,539.8 L1115.6,554.8 L1117.4,569.4 L1119.3,578.0 L1121.1,586.5 L1123.0,595.3 L1124.8,601.1 L1126.7,604.0 L1128.5,610.1 L1130.4,611.8 L1132.2,613.2 L1134.1,616.0 L1135.9,617.6 L1137.8,617.6 L1139.6,617.2 L1141.5,618.8 L1143.3,619.4 L1145.2,618.8 L1147.0,620.2 L1148.9,621.3 L1150.7,621.3 L1152.5,621.9 L1154.3,619.2 L1156.1,618.4 L1157.9,618.9 L1159.7,617.6 L1161.5,617.6 L1163.8,619.3 L1166.1,620.3 L1168.0,620.7 L1169.8,620.4 L1171.7,622.7 L1173.5,622.2 L1175.4,621.2 L1177.2,621.6 L1179.1,619.3 L1180.9,619.4 L1182.8,620.0 L1184.6,618.7 L1186.5,619.6 L1188.3,618.0 L1190.2,617.7 L1192.0,618.5 L1193.9,617.6 L1195.7,618.5 L1197.6,618.4 L1199.4,619.3 L1201.3,617.6 L1203.1,618.5 L1205.0,617.6 L1206.9,617.6 L1208.7,616.5 L1210.6,614.8 L1212.4,613.8 L1214.3,615.2 L1216.1,613.9 L1218.0,615.0 L1219.8,616.9 L1221.7,615.7 L1223.5,617.6 L1226.3,606.4 L1228.1,582.8 L1230.0,558.3 L1232.3,569.0 L1234.6,580.5 L1236.9,582.0 L1239.3,584.2 L1241.6,594.1 L1243.9,602.7 L1245.7,606.2 L1247.6,608.4 L1249.4,612.4 L1251.3,615.7 L1253.1,617.7 L1255.0,616.8 L1256.9,618.9 L1258.7,620.3 L1260.6,620.2 L1262.4,620.5 L1264.3,620.7 L1266.1,621.3 L1268.0,619.7 L1269.8,620.6 L1271.7,621.0 L1273.5,619.4 L1275.4,619.8 L1277.2,620.1 L1279.1,619.4 L1280.9,620.2 L1282.8,621.3 L1285.1,621.0 L1287.4,617.6 L1289.7,620.6 L1292.0,621.3 L1293.9,621.1 L1295.7,621.0 L1297.6,620.0 L1299.4,620.3 L1301.3,620.1 L1303.1,620.6 L1305.0,620.2 L1306.9,619.4 L1308.7,619.5 L1310.6,620.2 L1312.4,618.8 L1314.3,619.8 L1316.1,618.2 L1318.0,618.5 L1319.8,617.6 L1321.7,616.1 L1323.5,615.7 L1325.4,613.9 L1327.7,610.4 L1330.0,606.4 L1331.9,603.5 L1333.7,600.9 L1336.0,604.8 L1338.3,610.1 L1340.2,611.7 L1342.0,612.4 L1343.9,614.9 L1345.7,615.7 L1348.5,602.7 L1350.4,582.6 L1352.2,562.0 L1354.5,574.9 L1356.9,587.9 L1358.7,590.2 L1360.6,591.4 L1362.4,593.5 L1364.3,598.5 L1366.1,604.6 L1368.0,608.3 L1369.8,612.0 L1371.7,614.5 L1373.5,617.6 L1375.4,618.0 L1377.2,619.4 L1379.1,618.2 L1380.9,619.4 L1382.8,619.2 L1384.6,620.1 L1386.5,620.0 L1388.3,621.3 L1390.2,621.3 L1392.0,622.1 L1393.9,623.3 L1395.7,623.1 L1397.6,623.0 L1399.4,621.4 L1401.3,622.6 L1403.1,621.3 L1405.0,621.1 L1406.9,620.1 L1408.7,621.6 L1410.6,620.3 L1412.4,621.1 L1414.3,623.1 L1416.1,620.8 L1418.0,622.2 L1419.8,621.8 L1421.7,620.3 L1423.5,620.2 L1425.4,620.3 L1427.2,620.5 L1429.1,620.6 L1430.9,620.4 L1432.8,620.3 L1434.6,619.9 L1436.5,620.8 L1438.3,620.7 L1440.2,620.3 L1442.0,618.1 L1443.9,619.4 L1446.7,608.3 L1449.4,592.6 L1452.2,612.0 L1453.8,612.9 L1455.5,613.0 L1457.1,615.6 L1458.7,615.7 L1460.6,616.7 L1462.4,618.1 L1464.3,618.4 L1466.1,619.4 L1468.0,619.8 L1469.8,620.2 L1471.7,619.3 L1473.5,619.4 L1475.4,618.8 L1477.2,616.0 L1479.1,615.7 L1480.9,613.9 L1482.8,612.3 L1484.6,611.7 L1486.5,611.8 L1488.3,610.1 L1490.2,606.2 L1492.0,601.8 L1493.9,598.1 L1495.7,601.5 L1497.6,605.0 L1499.4,610.1 L1501.4,612.4 L1503.4,613.4 L1505.4,617.8 L1507.3,619.2 L1509.2,620.1 L1511.0,619.3 L1512.9,620.8 L1514.7,620.9 L1516.5,620.9 L1518.4,621.0 L1520.2,620.4 L1522.0,621.3 L1523.9,622.1 L1525.7,622.7 L1527.6,621.4 L1529.4,621.9 L1531.2,622.8 L1533.1,622.1 L1534.9,620.6 L1536.7,621.0 L1538.6,621.0 L1540.4,619.9 L1542.2,619.1 L1544.1,619.2 L1545.9,618.9 L1547.8,619.0 L1549.6,619.0 L1551.4,618.4 L1553.3,618.9 L1555.1,619.2 L1556.9,618.6 L1558.8,617.6 L1560.6,619.1 L1562.5,618.2 L1564.1,617.5 L1565.7,616.5 L1567.3,613.7 L1568.9,613.7 L1571.2,613.9 L1573.5,615.5 L1575.3,615.8 L1577.1,617.3 L1579.0,618.2 L1580.8,617.6 L1582.7,619.5 L1584.5,619.4 L1586.3,621.0 L1588.2,621.0 L1590.5,612.3 L1592.8,602.6 L1595.1,602.0 L1597.4,602.6 L1599.2,604.1 L1601.0,603.4 L1602.9,606.3 L1604.7,608.5 L1606.5,610.0 L1608.4,613.1 L1610.2,615.5 L1612.0,616.8 L1613.9,619.2 L1615.7,620.6 L1617.6,619.2 L1619.4,621.0 L1621.2,620.5 L1623.1,620.6 L1624.9,621.0 L1626.7,620.6 L1628.6,621.0 L1630.4,621.1 L1632.3,622.1 L1634.1,621.4 L1635.9,622.1 L1637.8,620.8 L1639.6,621.9 L1642.4,619.2 L1644.7,620.9 L1647.0,621.9 L1648.8,621.5 L1650.6,622.3 L1652.5,622.1 L1654.3,621.3 L1656.1,621.9 L1658.0,622.2 L1659.8,620.9 L1661.6,621.0 L1663.9,620.3 L1666.2,619.2 L1667.8,619.4 L1669.5,619.9 L1671.1,620.2 L1672.7,621.0 L1674.5,621.2 L1676.3,622.1 L1678.2,622.3 L1680.0,621.6 L1681.9,621.4 L1683.7,621.9 L1685.5,620.7 L1687.4,621.0 L1689.2,621.2 L1691.0,621.4 L1692.9,621.0 L1694.7,618.9 L1696.5,617.8 L1698.4,615.5 L1700.2,615.4 L1702.1,613.7 L1703.9,617.0 L1705.7,619.2 L1708.5,582.4 L1710.9,543.9 L1712.9,550.4 L1714.9,556.7 L1716.8,566.1 L1718.6,575.1 L1720.4,579.1 L1722.3,582.4 L1724.1,589.2 L1725.9,597.5 L1727.8,604.5 L1729.6,605.9 L1731.4,609.6 L1733.3,611.8 L1735.1,611.5 L1737.0,611.8 L1738.8,614.4 L1740.6,616.3 L1742.5,617.3 L1744.3,617.5 L1746.1,617.8 L1748.0,618.2 L1749.8,619.2 L1751.7,619.9 L1753.5,620.6 L1755.3,620.4 L1757.2,621.0 L1759.0,621.6 L1760.8,622.0 L1762.7,621.1 L1764.5,621.9" fill="none" stroke="#111111" stroke-width="1.7" stroke-linejoin="round"/>
<path d="M122.8,593.5 L125.6,584.2 L127.9,565.8 L130.2,545.3 L133.0,558.3 L135.7,602.7 L138.5,510.1 L140.4,547.2 L142.2,595.3 L145.0,580.5 L147.3,587.8 L149.6,595.3 L151.5,589.6 L153.3,584.2 L155.2,482.4 L158.0,502.7 L160.7,528.7 L163.5,584.2 L166.3,602.7 L168.1,605.0 L170.0,605.8 L171.9,607.3 L173.7,608.3 L175.6,603.8 L177.4,597.6 L179.3,593.5 L180.9,589.5 L182.5,585.6 L184.1,581.5 L185.7,577.7 L188.1,579.5 L190.4,584.2 L192.2,586.6 L194.1,588.2 L195.9,591.7 L197.8,593.5 L199.6,594.7 L201.5,595.9 L203.3,599.0 L205.2,600.9 L207.0,601.3 L208.9,602.9 L210.7,602.6 L212.6,602.7 L214.4,604.9 L216.3,604.6 L218.1,601.8 L220.0,599.0 L221.9,598.8 L223.7,597.7 L225.6,597.2 L227.4,581.9 L229.3,565.7 L231.1,547.2 L233.0,557.4 L234.8,567.6 L236.7,572.8 L238.5,577.2 L240.4,580.5 L242.2,577.6 L244.1,574.6 L245.9,573.1 L248.7,541.6 L251.0,557.5 L253.3,575.0 L255.2,578.8 L257.0,583.3 L258.9,587.9 L260.5,593.2 L262.1,598.2 L263.8,602.3 L265.4,608.3 L268.1,480.5 L270.0,478.1 L271.9,476.8 L274.6,452.7 L276.9,466.8 L279.3,482.4 L281.1,495.3 L283.0,468.5 L284.8,439.8 L286.7,454.6 L288.5,467.3 L290.4,480.5 L292.2,520.6 L294.1,562.0 L295.9,563.8 L297.8,565.7 L300.6,576.8 L302.9,586.8 L305.2,599.0 L307.0,590.2 L308.9,582.6 L310.7,573.1 L312.6,574.5 L314.4,575.3 L316.3,576.8 L318.1,576.1 L320.0,574.3 L321.9,573.1 L324.2,566.1 L326.5,558.3 L328.8,567.1 L331.1,575.0 L333.0,584.2 L334.8,593.5 L336.7,583.0 L338.5,571.2 L340.4,560.4 L342.2,549.0 L344.1,557.2 L345.9,565.7 L348.2,577.1 L350.6,587.9 L352.9,589.6 L355.2,589.8 L357.5,490.2 L359.8,393.5 L362.6,454.6 L364.4,518.3 L366.3,584.2 L368.1,593.6 L370.0,600.9 L371.9,592.3 L373.7,584.2 L375.6,564.8 L377.4,547.2 L379.3,497.6 L381.1,449.0 L383.0,491.6 L384.8,533.4 L386.7,575.0 L388.5,565.8 L390.4,555.7 L392.2,547.2 L394.1,491.6 L395.9,549.0 L397.8,548.7 L399.6,550.9 L401.5,550.9 L403.3,542.4 L405.2,532.4 L407.0,542.4 L408.9,554.6 L410.7,540.7 L412.6,528.7 L414.4,542.3 L416.3,556.4 L418.1,572.6 L420.0,586.1 L421.9,590.3 L423.7,591.7 L425.6,593.2 L427.4,597.2 L429.3,598.6 L431.1,600.9 L433.0,600.9 L434.8,598.7 L436.7,596.1 L438.5,593.5 L440.4,595.1 L442.2,597.1 L444.1,599.2 L445.9,599.0 L447.8,598.4 L449.6,601.2 L451.5,602.4 L453.3,602.7 L455.2,593.5 L457.0,584.2 L458.9,584.3 L460.7,584.2 L462.6,582.9 L464.4,582.4 L466.6,592.1 L468.7,600.9 L470.6,593.2 L472.4,585.7 L474.3,578.7 L476.1,516.8 L478.0,454.6 L479.8,518.8 L481.7,582.4 L483.5,582.2 L485.4,582.4 L487.2,569.4 L490.0,582.4 L491.6,565.2 L493.2,545.8 L494.9,528.9 L496.5,510.1 L498.3,527.1 L500.2,543.8 L502.0,562.0 L503.9,575.8 L505.7,591.6 L507.6,582.3 L509.4,571.3 L512.2,589.8 L514.5,591.0 L516.9,591.6 L518.7,593.8 L520.6,597.0 L522.4,599.0 L524.3,579.2 L526.1,558.3 L528.0,562.9 L529.8,565.7 L531.7,549.0 L534.4,565.7 L537.2,462.0 L539.1,508.7 L540.9,556.4 L543.2,556.4 L545.6,556.4 L547.2,560.5 L548.8,561.6 L550.4,565.6 L552.0,569.4 L553.9,572.9 L555.7,574.0 L557.6,578.7 L559.4,583.6 L561.3,588.9 L563.1,593.5 L565.0,594.8 L566.9,593.6 L568.7,595.3 L570.6,597.1 L572.4,598.3 L574.3,600.9 L576.1,599.2 L578.0,595.3 L580.7,571.3 L583.5,580.5 L585.4,584.5 L587.2,587.9 L589.1,580.1 L590.9,571.3 L592.8,569.1 L594.6,565.7 L596.5,564.4 L598.3,562.0 L600.2,554.3 L602.0,545.3 L603.9,562.0 L606.2,540.6 L608.5,522.2 L611.3,582.4 L613.1,582.5 L615.0,583.0 L616.9,583.3 L618.7,583.0 L620.6,584.4 L622.4,584.2 L624.7,588.0 L627.0,593.5 L629.4,592.0 L631.7,587.9 L633.5,585.4 L635.4,582.1 L637.2,580.0 L639.1,576.8 L641.4,573.1 L643.7,569.4 L645.6,566.5 L647.4,564.0 L649.3,561.1 L651.6,563.8 L653.9,567.6 L655.7,574.5 L657.6,580.5 L659.4,579.9 L661.3,580.0 L663.1,579.9 L665.0,580.5 L666.9,579.2 L668.7,579.1 L670.6,577.7 L672.4,579.6 L674.3,580.7 L676.1,582.8 L678.0,584.2 L679.8,586.2 L681.7,585.6 L683.5,586.8 L685.4,588.4 L687.2,589.8 L689.1,590.9 L690.9,591.8 L692.8,593.1 L694.6,593.5 L696.5,591.5 L698.3,589.9 L700.2,589.8 L702.0,590.2 L703.9,587.2 L705.7,587.9 L707.6,589.3 L709.4,590.1 L711.3,592.0 L713.1,591.6 L715.0,585.0 L716.9,579.6 L718.7,578.6 L720.6,576.8 L722.4,576.8 L724.0,561.5 L725.6,545.0 L727.3,528.2 L728.9,512.0 L730.7,535.9 L732.6,559.0 L734.4,582.4 L736.8,584.9 L739.1,586.1 L740.9,587.2 L742.8,588.6 L744.6,588.9 L746.5,591.6 L748.8,587.5 L751.1,587.9 L753.0,555.3 L754.8,523.1 L756.4,526.7 L758.1,529.5 L759.7,532.9 L761.3,536.1 L763.1,545.7 L765.0,555.7 L766.9,565.7 L768.7,567.8 L770.6,570.5 L772.4,571.3 L774.3,575.4 L776.1,578.6 L778.0,582.9 L779.8,587.9 L781.7,587.6 L783.5,588.3 L785.4,588.2 L787.2,587.6 L789.1,587.9 L790.9,588.5 L792.8,587.7 L794.6,586.3 L796.5,586.1 L798.3,587.6 L800.2,589.9 L802.0,590.3 L803.9,591.6 L805.7,592.5 L807.6,594.7 L809.4,595.3 L811.5,595.3 L813.5,594.5 L815.6,593.5 L817.4,591.6 L819.3,590.7 L821.1,589.8 L823.0,587.9 L824.8,589.7 L826.7,589.0 L828.5,591.6 L830.4,592.7 L832.2,590.9 L834.1,591.8 L835.9,589.8 L837.8,586.6 L839.6,584.2 L841.5,580.5 L843.8,572.4 L846.1,565.7 L848.9,549.0 L851.7,537.9 L854.4,547.2 L856.3,563.9 L858.1,564.6 L860.0,564.1 L861.9,563.9 L863.7,570.1 L865.6,575.0 L867.4,578.0 L869.3,582.4 L872.0,575.0 L874.8,491.6 L877.0,434.2 L879.4,469.4 L882.2,476.8 L884.1,503.5 L885.9,528.7 L887.8,540.5 L889.6,552.7 L891.5,565.7 L893.8,575.7 L896.1,584.2 L897.7,585.3 L899.4,586.4 L901.0,583.9 L902.6,586.1 L904.4,586.2 L906.3,586.0 L908.1,587.1 L910.0,587.9 L911.9,587.0 L913.7,588.1 L915.6,588.5 L917.4,587.8 L919.3,587.9 L921.1,588.1 L923.0,590.0 L924.8,593.2 L926.7,592.8 L928.5,593.5 L930.4,594.9 L932.2,595.3 L934.1,597.5 L935.9,598.7 L937.8,600.8 L939.6,600.9 L941.5,600.6 L943.3,600.6 L945.2,599.1 L947.0,599.5 L948.9,599.0 L950.7,599.3 L952.6,597.7 L954.4,599.2 L956.3,598.9 L958.1,599.0 L960.0,599.4 L961.9,596.9 L963.7,597.6 L965.6,595.4 L967.4,595.3 L969.3,592.9 L971.1,592.8 L973.0,591.3 L974.8,587.9 L976.7,587.6 L978.5,587.2 L980.4,587.9 L982.2,589.4 L984.1,589.8 L985.9,550.5 L987.8,510.1 L990.1,494.4 L992.4,480.5 L994.7,494.0 L997.0,510.1 L998.9,530.0 L1000.7,548.6 L1002.6,565.7 L1004.4,575.5 L1006.3,586.1 L1008.1,588.3 L1010.0,588.9 L1011.9,590.3 L1013.7,591.6 L1015.6,591.9 L1017.4,593.6 L1019.3,593.9 L1021.1,594.3 L1023.0,595.3 L1024.8,595.5 L1026.7,594.6 L1028.5,593.0 L1030.4,594.2 L1032.2,593.5 L1034.1,593.3 L1035.9,593.7 L1037.8,592.8 L1039.6,593.5 L1041.5,594.1 L1043.3,596.4 L1045.2,596.5 L1047.0,597.2 L1048.9,598.5 L1050.7,599.7 L1052.6,598.1 L1054.4,600.9 L1056.3,600.7 L1058.1,600.1 L1060.0,599.0 L1061.9,597.2 L1063.7,596.7 L1065.6,595.6 L1067.4,596.7 L1069.3,595.3 L1071.1,596.1 L1073.0,595.2 L1074.8,595.8 L1076.7,595.0 L1078.5,595.3 L1080.4,594.9 L1082.2,593.5 L1084.1,591.6 L1085.9,591.4 L1087.8,589.9 L1089.6,587.1 L1091.5,586.1 L1093.3,585.0 L1095.2,585.6 L1097.0,586.1 L1098.9,588.1 L1100.7,587.9 L1102.6,589.8 L1104.4,588.4 L1106.3,587.0 L1108.1,586.1 L1110.0,547.2 L1111.9,506.4 L1113.7,520.2 L1115.6,532.4 L1117.4,543.3 L1119.3,553.6 L1121.1,565.7 L1123.0,574.2 L1124.8,584.6 L1126.7,593.5 L1128.5,594.5 L1130.4,594.6 L1132.2,595.1 L1134.1,597.2 L1135.9,598.4 L1137.8,597.2 L1139.6,598.2 L1141.5,596.1 L1143.3,597.2 L1145.2,595.3 L1147.0,596.0 L1148.9,594.3 L1150.7,595.8 L1152.6,593.5 L1154.6,593.2 L1156.6,591.5 L1158.6,593.9 L1160.6,592.6 L1162.4,593.6 L1164.3,594.2 L1166.1,594.5 L1168.0,594.4 L1169.8,594.7 L1171.7,594.7 L1173.5,595.6 L1175.4,596.3 L1177.2,596.0 L1179.1,595.9 L1180.9,593.3 L1182.8,594.4 L1184.4,594.4 L1186.1,594.8 L1187.8,595.6 L1189.4,594.6 L1191.1,595.3 L1192.8,593.7 L1194.4,594.5 L1196.1,591.7 L1197.8,592.9 L1199.4,591.6 L1201.3,591.0 L1203.1,590.7 L1205.0,591.0 L1206.9,589.8 L1208.7,589.2 L1210.6,588.2 L1212.4,587.0 L1214.3,587.0 L1216.1,588.2 L1218.0,588.7 L1219.8,587.9 L1221.4,589.2 L1223.1,588.8 L1224.7,588.5 L1226.3,588.9 L1229.1,528.7 L1230.9,538.4 L1232.8,545.3 L1235.6,550.9 L1237.4,552.8 L1239.3,552.7 L1241.6,566.8 L1243.9,580.5 L1245.7,583.8 L1247.6,585.4 L1249.4,587.9 L1251.3,588.2 L1253.1,589.2 L1255.0,590.6 L1256.9,589.5 L1258.7,591.6 L1260.6,592.8 L1262.4,591.0 L1264.3,591.7 L1266.1,591.6 L1268.0,590.4 L1269.8,590.2 L1271.7,589.0 L1273.5,587.9 L1275.4,586.8 L1277.2,587.3 L1279.1,585.4 L1280.9,586.1 L1282.8,585.9 L1284.6,583.3 L1286.5,582.4 L1288.3,584.1 L1290.2,584.1 L1292.0,586.1 L1293.9,584.9 L1295.7,584.1 L1297.6,583.4 L1299.4,582.4 L1301.3,581.9 L1303.1,582.5 L1305.0,581.5 L1306.9,582.4 L1308.7,581.9 L1310.6,580.8 L1312.4,581.0 L1314.3,581.4 L1316.1,582.2 L1318.0,581.2 L1319.8,580.5 L1321.7,577.3 L1323.5,577.7 L1325.4,575.0 L1327.2,574.1 L1329.1,575.3 L1330.9,576.3 L1332.8,575.9 L1334.6,576.0 L1336.5,576.8 L1338.3,578.7 L1340.2,582.4 L1342.0,581.5 L1343.9,580.9 L1345.7,579.9 L1347.6,580.5 L1349.9,554.9 L1352.2,530.5 L1355.0,549.0 L1356.9,554.8 L1358.7,560.1 L1360.6,560.7 L1362.4,562.0 L1364.3,567.5 L1366.1,571.3 L1368.0,573.6 L1369.8,575.1 L1371.7,576.8 L1373.5,576.5 L1375.4,576.8 L1377.2,575.0 L1378.8,575.0 L1380.5,575.0 L1382.1,577.5 L1383.7,577.7 L1385.3,575.9 L1386.9,575.3 L1388.6,573.0 L1390.2,571.3 L1392.0,569.8 L1393.9,567.1 L1395.7,565.7 L1397.6,563.7 L1399.4,559.3 L1401.3,558.3 L1403.1,559.7 L1405.0,557.6 L1406.9,556.4 L1408.7,558.1 L1410.6,558.3 L1412.4,563.0 L1414.3,565.7 L1416.1,561.6 L1418.0,558.3 L1419.8,552.9 L1421.7,547.2 L1423.5,552.4 L1425.4,556.4 L1427.2,556.4 L1429.1,556.2 L1430.9,556.4 L1432.8,556.4 L1434.6,558.5 L1436.5,560.1 L1438.3,557.0 L1440.2,554.1 L1442.0,551.1 L1443.9,549.0 L1445.7,537.5 L1447.6,528.1 L1449.4,515.7 L1451.3,521.6 L1453.1,528.7 L1455.0,531.7 L1456.9,533.8 L1458.7,537.9 L1460.6,535.1 L1462.4,534.2 L1464.3,534.4 L1466.1,534.0 L1468.0,534.2 L1469.6,524.9 L1471.2,514.4 L1472.8,504.0 L1474.4,495.3 L1476.8,508.8 L1479.1,521.3 L1480.9,535.0 L1482.8,549.0 L1484.6,548.6 L1486.5,548.4 L1488.3,549.0 L1490.2,544.2 L1492.0,541.9 L1493.9,537.9 L1495.7,546.5 L1497.6,554.6 L1499.4,562.3 L1501.3,567.6 L1503.7,569.6 L1505.5,570.9 L1507.3,569.5 L1509.2,570.5 L1511.0,568.4 L1512.9,566.2 L1514.7,564.1 L1516.5,562.2 L1518.4,560.8 L1520.2,558.5 L1522.0,557.0 L1523.9,553.0 L1526.6,548.4 L1528.9,547.5 L1531.2,550.3 L1533.1,548.4 L1534.9,549.7 L1536.7,549.4 L1539.0,548.7 L1541.3,548.4 L1544.1,554.0 L1545.9,553.6 L1547.8,552.8 L1549.6,552.9 L1551.4,553.0 L1553.3,553.0 L1555.1,552.4 L1556.9,551.8 L1558.8,552.1 L1560.6,551.0 L1562.5,545.6 L1564.3,543.9 L1566.6,541.8 L1568.9,538.3 L1571.2,537.8 L1573.5,536.5 L1575.3,536.4 L1577.1,533.7 L1579.0,535.9 L1580.8,541.1 L1582.7,539.7 L1584.5,538.3 L1586.3,529.2 L1588.2,520.0 L1590.0,510.0 L1591.8,498.8 L1593.7,497.4 L1595.5,494.3 L1597.8,494.6 L1600.1,495.2 L1602.9,521.8 L1605.6,543.9 L1607.9,550.3 L1610.2,556.7 L1612.0,558.2 L1613.9,559.2 L1615.7,559.4 L1617.6,560.4 L1619.4,559.7 L1621.2,558.3 L1623.1,558.5 L1624.9,556.8 L1626.7,553.6 L1628.6,553.0 L1630.4,550.5 L1632.3,547.5 L1634.1,545.7 L1635.9,545.4 L1637.8,543.4 L1639.6,542.7 L1641.4,540.8 L1643.3,540.2 L1645.1,540.4 L1647.0,538.3 L1648.8,539.0 L1650.6,538.3 L1652.5,536.5 L1654.8,538.7 L1657.1,539.3 L1659.3,535.6 L1661.6,531.0 L1663.5,526.7 L1665.3,524.2 L1667.2,521.8 L1669.0,520.6 L1670.8,519.8 L1672.7,518.4 L1674.5,518.1 L1676.3,515.7 L1678.2,516.0 L1680.0,514.5 L1681.9,512.6 L1683.7,510.8 L1685.5,510.0 L1687.4,510.5 L1689.2,509.9 L1691.5,511.1 L1693.8,510.8 L1695.6,503.4 L1698.4,478.6 L1701.1,488.7 L1703.9,488.7 L1705.7,491.2 L1707.6,494.3 L1709.4,407.9 L1712.2,393.2 L1714.9,393.2 L1716.8,401.2 L1718.6,407.9 L1720.4,409.8 L1722.3,424.2 L1724.1,439.1 L1725.9,444.8 L1727.8,450.2 L1729.6,463.8 L1731.4,475.9 L1733.3,492.7 L1735.1,507.5 L1737.0,523.6 L1738.8,528.6 L1740.6,532.3 L1742.5,537.3 L1744.3,542.0 L1746.1,540.5 L1748.0,540.5 L1749.8,541.1 L1751.7,540.4 L1753.5,538.3 L1755.3,537.7 L1757.2,540.2 L1759.0,537.8 L1760.8,532.8 L1762.7,535.2 L1764.5,534.7" fill="none" stroke="#1414ee" stroke-width="1.7" stroke-linejoin="round"/>
</g>
<g clip-path="url(#clipc)">
<path d="M122.8,948.2 L125.6,929.7 L127.4,912.3 L129.3,892.7 L131.1,875.4 L133.0,855.6 L134.8,846.1 L136.7,837.1 L138.5,839.9 L140.4,844.5 L143.1,883.4 L145.9,907.5 L147.8,918.4 L149.6,926.0 L152.4,931.6 L155.2,916.7 L157.0,929.7 L159.8,922.3 L162.6,909.3 L165.4,926.0 L168.1,948.2 L170.0,956.6 L171.9,965.4 L173.7,976.0 L175.6,971.9 L177.4,968.6 L179.3,966.4 L181.1,963.0 L183.0,957.0 L184.8,948.2 L187.1,941.2 L189.4,935.3 L191.8,931.9 L194.1,929.7 L195.9,923.8 L197.8,916.7 L199.6,914.3 L201.5,913.0 L204.3,903.8 L207.0,901.9 L208.9,889.7 L210.7,879.7 L212.6,881.9 L214.4,883.4 L216.3,888.6 L218.1,896.3 L220.0,901.9 L221.9,903.0 L223.7,903.9 L225.6,903.8 L227.4,917.0 L229.3,929.7 L231.1,931.9 L233.0,937.1 L234.8,937.5 L236.7,938.5 L238.5,939.0 L240.4,941.3 L242.2,944.5 L244.1,935.7 L245.9,926.0 L247.8,903.6 L249.6,883.4 L251.5,868.2 L253.3,851.9 L255.2,818.4 L257.0,787.1 L259.8,768.6 L262.6,781.6 L264.4,799.9 L266.3,818.6 L268.1,835.4 L270.0,851.9 L272.8,855.6 L275.6,879.7 L277.4,891.1 L279.3,901.9 L282.0,866.7 L284.8,892.7 L286.7,939.0 L288.5,941.5 L290.4,944.5 L291.3,950.1 L293.6,944.3 L295.9,939.0 L298.2,934.0 L300.6,929.7 L303.3,911.2 L305.2,898.2 L307.0,883.4 L308.9,855.6 L310.7,837.3 L312.6,818.6 L314.4,814.6 L316.3,811.2 L318.1,810.9 L320.0,809.3 L322.8,781.6 L324.6,779.7 L327.4,744.5 L329.3,748.0 L331.1,751.9 L333.0,768.6 L335.3,753.1 L337.6,737.1 L340.4,779.7 L342.2,764.9 L345.0,768.6 L347.8,798.2 L350.1,771.9 L352.4,746.4 L355.2,779.7 L357.0,744.5 L359.8,818.6 L360.7,790.8 L362.6,788.1 L364.4,783.4 L366.3,803.1 L368.1,824.1 L370.5,810.3 L372.8,796.4 L375.6,803.8 L377.4,812.7 L379.3,822.3 L381.1,833.4 L383.9,811.2 L386.7,840.8 L388.5,849.3 L390.4,855.6 L392.2,864.2 L394.1,874.1 L395.9,867.6 L397.8,863.0 L399.6,882.3 L401.5,901.9 L403.3,901.6 L405.2,900.1 L407.0,885.3 L408.9,882.1 L410.7,880.2 L412.6,876.0 L414.4,879.7 L416.3,880.5 L418.1,883.4 L420.0,882.4 L421.9,882.6 L423.7,881.6 L425.6,863.2 L427.4,846.4 L429.3,856.9 L431.1,864.9 L433.0,850.1 L434.8,846.9 L436.7,847.0 L438.5,842.7 L440.4,840.0 L442.2,839.0 L444.1,834.1 L445.9,827.9 L447.8,835.7 L449.6,842.7 L451.5,850.5 L453.3,859.3 L455.2,858.7 L457.0,859.3 L458.9,868.6 L460.7,879.7 L462.6,885.8 L464.4,894.3 L466.3,900.1 L468.0,898.0 L469.6,896.4 L472.4,911.2 L474.3,915.9 L476.1,920.4 L478.0,920.3 L479.8,921.6 L481.7,922.3 L483.5,912.8 L485.4,901.9 L487.2,879.1 L489.1,855.6 L490.9,827.6 L492.8,800.1 L494.6,792.1 L496.5,781.6 L498.8,775.6 L501.1,770.4 L503.9,826.0 L506.2,828.2 L508.5,829.7 L510.8,810.0 L513.1,790.8 L515.0,808.2 L516.9,827.9 L518.7,846.1 L520.6,863.0 L522.4,870.9 L524.3,877.9 L526.1,887.6 L528.0,900.1 L529.8,893.6 L531.7,887.1 L533.5,900.3 L535.4,914.9 L537.7,915.1 L540.0,918.6 L542.8,901.9 L544.6,890.1 L546.5,879.7 L548.3,871.8 L550.2,863.0 L552.0,864.9 L553.9,864.9 L555.7,860.0 L557.6,855.6 L559.4,852.4 L561.3,848.2 L563.1,843.7 L565.0,837.1 L566.9,845.9 L568.7,855.6 L570.6,854.2 L572.4,853.8 L574.3,860.6 L576.1,866.7 L578.0,869.2 L579.8,870.4 L581.7,881.6 L583.5,892.7 L585.4,900.5 L587.2,905.6 L589.1,909.7 L590.9,911.2 L592.8,920.9 L594.6,929.7 L596.5,929.1 L598.3,927.9 L600.2,920.3 L602.0,910.7 L603.9,901.9 L605.7,885.9 L607.6,870.1 L609.4,855.6 L611.3,836.1 L613.1,818.6 L615.9,803.8 L618.7,777.9 L620.6,801.0 L622.4,822.3 L624.3,833.2 L626.1,842.7 L628.0,842.4 L629.8,842.7 L631.7,823.7 L633.5,805.6 L635.4,830.2 L637.2,855.6 L639.1,878.7 L640.9,901.9 L642.8,927.1 L644.6,950.1 L646.5,949.3 L648.3,948.7 L650.2,948.2 L652.5,952.7 L654.8,957.5 L657.1,951.2 L659.4,948.2 L661.3,941.2 L663.1,936.6 L665.0,929.7 L666.9,922.1 L668.7,917.2 L670.6,911.2 L672.4,902.5 L674.3,889.7 L676.1,879.8 L678.0,870.4 L679.8,869.8 L681.7,867.2 L683.5,864.9 L685.4,864.9 L687.2,865.6 L689.1,868.2 L690.9,870.4 L692.8,876.9 L694.6,883.5 L696.5,889.0 L698.3,898.5 L700.2,905.6 L702.0,912.4 L703.9,920.0 L705.7,926.0 L707.6,935.5 L709.4,942.7 L711.3,944.7 L713.1,948.2 L715.0,951.2 L716.9,954.2 L718.7,955.6 L720.6,953.9 L722.4,950.2 L724.3,948.2 L726.1,921.9 L728.0,892.7 L729.8,865.2 L731.7,837.1 L734.0,821.8 L736.3,805.6 L738.6,817.0 L740.9,827.9 L742.8,847.9 L744.6,866.7 L746.5,859.3 L748.3,851.9 L750.2,853.8 L752.0,855.3 L753.9,859.3 L755.7,877.8 L757.6,892.7 L759.4,898.5 L761.3,903.8 L763.1,911.7 L765.0,922.3 L766.9,941.1 L768.7,959.3 L770.6,959.8 L772.4,959.3 L774.3,962.9 L776.1,964.6 L778.0,966.7 L779.8,959.5 L781.7,951.9 L783.5,945.4 L785.4,940.2 L787.2,933.4 L789.1,920.2 L790.9,906.4 L792.8,892.7 L794.6,888.8 L796.5,889.0 L798.3,886.5 L800.2,883.4 L802.0,886.4 L803.9,890.8 L805.7,883.5 L807.6,875.1 L809.4,868.6 L811.6,880.5 L813.7,892.7 L815.6,903.2 L817.4,914.9 L819.3,921.9 L821.1,926.0 L823.0,930.1 L824.8,937.1 L826.7,942.0 L828.5,948.2 L830.4,951.4 L832.2,956.3 L834.1,959.3 L835.7,962.1 L837.3,964.3 L838.9,967.7 L840.6,970.4 L842.9,955.3 L845.2,939.0 L847.0,920.8 L848.9,901.9 L850.7,889.0 L852.6,874.1 L855.4,885.3 L857.2,890.8 L859.1,896.4 L861.4,904.2 L863.7,909.3 L865.6,921.6 L867.4,933.4 L869.7,942.9 L872.0,951.9 L874.4,951.8 L876.7,950.1 L879.4,963.0 L882.2,929.7 L884.1,938.8 L885.9,946.4 L887.8,960.2 L889.6,974.1 L891.5,976.6 L893.3,978.5 L895.2,979.7 L897.0,978.0 L898.9,975.5 L900.7,972.3 L902.6,963.7 L904.4,953.8 L906.8,942.0 L909.1,929.7 L911.4,914.5 L913.7,900.1 L915.6,895.0 L917.4,891.5 L919.3,888.0 L921.1,888.5 L923.0,889.1 L924.8,890.8 L926.7,897.3 L928.5,902.9 L930.4,907.5 L932.2,910.7 L934.1,915.8 L935.9,918.6 L937.8,922.8 L939.6,927.9 L941.5,938.0 L943.3,946.4 L945.2,946.9 L947.0,946.4 L948.9,950.2 L950.7,954.6 L952.6,957.5 L954.4,960.6 L956.3,962.5 L958.1,966.7 L960.0,965.1 L961.9,964.3 L963.7,963.0 L965.6,947.9 L967.4,933.4 L969.3,922.0 L971.1,909.3 L972.7,906.5 L974.4,901.3 L976.0,896.5 L977.6,892.7 L979.9,901.1 L982.2,911.2 L984.1,921.6 L985.9,933.4 L987.8,936.2 L989.6,940.8 L991.5,941.9 L993.3,944.8 L995.2,946.4 L997.0,952.2 L998.9,956.8 L1000.7,963.0 L1002.6,966.2 L1004.4,969.2 L1006.3,971.5 L1008.1,972.3 L1010.0,972.7 L1011.9,975.3 L1013.7,976.0 L1015.6,973.1 L1017.4,972.5 L1019.3,972.3 L1021.1,965.8 L1023.0,957.5 L1024.8,947.2 L1026.7,937.1 L1028.5,932.7 L1030.4,927.8 L1032.2,922.3 L1034.1,915.7 L1035.9,910.6 L1037.8,903.8 L1039.6,901.1 L1041.5,900.6 L1043.3,900.1 L1045.6,898.6 L1048.0,896.4 L1050.7,909.3 L1052.6,903.8 L1054.4,912.9 L1056.3,920.4 L1058.1,925.3 L1060.0,929.9 L1061.9,933.4 L1063.7,937.4 L1065.6,939.5 L1067.4,946.0 L1069.3,948.2 L1071.1,952.2 L1073.0,955.4 L1074.8,959.3 L1076.7,960.3 L1078.5,963.0 L1080.4,964.9 L1082.2,962.3 L1084.1,959.3 L1085.9,945.8 L1087.8,929.7 L1089.6,902.6 L1091.5,874.1 L1093.3,862.7 L1095.2,853.1 L1097.0,842.7 L1098.9,859.3 L1100.7,874.1 L1102.6,882.9 L1104.4,892.0 L1106.3,901.9 L1108.1,915.1 L1110.0,929.7 L1111.9,936.6 L1113.7,942.5 L1115.6,948.2 L1117.4,957.0 L1119.3,966.7 L1121.1,961.2 L1123.0,963.3 L1124.8,966.7 L1126.7,973.8 L1128.5,981.6 L1130.8,982.8 L1133.1,981.6 L1135.9,957.5 L1137.8,955.1 L1139.6,951.9 L1141.5,941.8 L1143.3,931.6 L1145.2,933.1 L1147.0,935.3 L1148.9,925.3 L1150.7,914.9 L1152.6,906.0 L1154.4,896.4 L1156.6,893.5 L1158.7,892.7 L1160.6,893.8 L1162.4,896.4 L1164.3,914.1 L1166.1,927.9 L1168.0,932.7 L1169.8,939.0 L1171.7,936.9 L1173.5,933.4 L1175.4,918.6 L1178.1,929.7 L1180.5,939.1 L1182.8,948.2 L1184.6,954.1 L1186.5,961.0 L1188.3,966.7 L1190.2,969.9 L1192.0,970.6 L1193.9,974.1 L1195.7,973.9 L1197.6,975.1 L1199.4,974.1 L1201.3,970.9 L1203.1,969.8 L1205.0,966.7 L1206.9,956.7 L1208.7,948.2 L1211.5,911.2 L1214.3,877.9 L1216.1,881.9 L1218.0,885.3 L1219.8,883.4 L1221.7,891.7 L1223.5,901.9 L1225.4,915.5 L1227.2,929.7 L1229.1,942.9 L1230.9,955.6 L1232.8,958.6 L1234.6,961.9 L1236.5,964.9 L1238.3,963.2 L1240.2,961.2 L1242.0,968.1 L1243.9,976.0 L1245.7,976.3 L1247.6,977.4 L1249.4,979.7 L1251.3,981.9 L1253.1,983.1 L1255.0,983.4 L1256.9,977.7 L1258.7,972.3 L1261.5,953.8 L1263.8,946.4 L1266.1,939.0 L1268.0,941.9 L1269.8,946.4 L1271.7,933.4 L1273.5,920.4 L1275.4,910.3 L1277.2,900.1 L1279.1,899.3 L1280.9,896.7 L1282.8,896.4 L1284.6,899.6 L1286.5,903.8 L1288.3,913.8 L1290.2,924.1 L1292.0,928.2 L1293.9,929.7 L1295.7,933.4 L1297.6,940.3 L1299.4,947.9 L1301.3,953.8 L1303.1,959.3 L1305.0,960.2 L1306.9,964.9 L1308.7,966.7 L1310.6,965.8 L1312.4,968.6 L1314.3,970.7 L1316.1,971.4 L1318.0,974.1 L1319.8,973.3 L1321.7,971.2 L1323.5,970.4 L1325.4,963.6 L1327.2,957.5 L1329.1,942.0 L1330.9,927.9 L1333.2,918.1 L1335.6,909.3 L1337.9,912.1 L1340.2,918.6 L1342.0,926.5 L1343.9,933.4 L1345.7,941.4 L1347.6,950.0 L1349.4,957.5 L1351.3,966.8 L1353.1,976.0 L1355.0,968.8 L1356.9,962.6 L1358.7,955.6 L1360.6,960.4 L1362.4,964.9 L1364.3,972.2 L1366.1,979.7 L1368.0,980.6 L1369.8,979.3 L1371.7,981.0 L1373.5,981.6 L1375.4,976.3 L1377.2,971.2 L1379.1,966.1 L1380.9,961.2 L1382.8,959.9 L1384.6,958.9 L1386.5,957.5 L1388.3,951.1 L1390.2,945.0 L1392.0,939.0 L1393.9,934.8 L1395.7,928.4 L1397.6,924.1 L1399.4,919.5 L1401.3,916.1 L1403.1,911.2 L1405.0,914.8 L1406.9,918.7 L1408.7,922.3 L1410.6,928.3 L1412.4,932.9 L1414.3,939.0 L1416.1,943.4 L1418.0,946.4 L1419.8,950.7 L1421.7,954.5 L1423.5,957.5 L1425.4,957.5 L1427.2,956.9 L1429.1,957.5 L1430.9,958.4 L1432.8,958.5 L1434.6,959.3 L1436.5,962.2 L1438.3,966.7 L1440.2,964.0 L1442.0,963.7 L1443.9,963.0 L1445.7,944.7 L1447.6,926.0 L1449.4,916.3 L1451.3,905.6 L1453.6,898.9 L1455.9,894.5 L1458.2,900.4 L1460.6,907.5 L1462.4,913.0 L1464.3,919.6 L1466.1,924.1 L1468.0,930.4 L1469.8,938.2 L1471.7,944.5 L1473.5,950.1 L1475.4,955.6 L1478.1,970.4 L1480.9,961.2 L1482.8,966.7 L1484.6,972.3 L1486.5,978.4 L1488.3,983.4 L1490.2,982.0 L1492.0,980.5 L1493.9,977.9 L1495.7,974.4 L1497.6,968.6 L1499.4,967.0 L1501.3,963.0 L1503.7,957.4 L1505.5,954.8 L1507.3,952.2 L1509.2,950.1 L1511.0,947.5 L1512.9,944.6 L1514.7,937.7 L1516.5,933.6 L1518.4,929.9 L1520.2,924.4 L1522.0,921.6 L1523.9,918.9 L1525.7,921.0 L1527.6,924.4 L1529.4,926.7 L1531.2,927.9 L1533.1,929.9 L1534.9,934.5 L1536.7,936.6 L1538.6,939.1 L1540.4,943.2 L1542.2,947.9 L1544.1,951.9 L1545.9,954.6 L1547.8,957.4 L1549.6,959.3 L1551.4,961.8 L1553.3,965.6 L1555.1,966.6 L1556.9,965.4 L1558.8,966.6 L1561.1,964.0 L1563.4,963.0 L1566.1,946.4 L1568.0,931.0 L1569.8,915.2 L1571.6,905.1 L1573.5,895.0 L1576.2,882.1 L1579.0,895.0 L1580.8,906.4 L1582.7,918.9 L1585.4,942.8 L1587.7,940.3 L1590.0,939.1 L1591.8,940.6 L1593.7,941.1 L1595.5,940.9 L1597.4,942.3 L1599.2,942.8 L1601.0,946.6 L1602.9,946.4 L1604.7,951.1 L1606.5,957.4 L1608.4,960.9 L1610.2,966.6 L1612.0,970.4 L1613.9,975.8 L1615.7,976.7 L1617.6,980.4 L1619.4,975.5 L1621.2,972.1 L1623.1,968.7 L1624.9,965.7 L1626.7,963.0 L1628.6,957.0 L1630.4,951.9 L1632.3,950.0 L1634.1,949.8 L1635.9,948.3 L1637.8,945.9 L1639.6,941.5 L1641.4,939.1 L1643.3,934.3 L1645.1,928.1 L1647.0,919.7 L1648.8,909.7 L1650.6,916.7 L1652.5,922.5 L1654.3,924.8 L1656.1,924.4 L1658.0,930.6 L1659.8,937.2 L1661.6,942.4 L1663.5,946.4 L1665.3,951.8 L1667.2,959.3 L1669.0,960.3 L1670.8,959.6 L1672.7,963.0 L1674.5,964.4 L1676.3,967.2 L1678.2,970.3 L1680.0,969.9 L1681.9,968.5 L1683.7,956.9 L1685.5,946.4 L1687.4,931.5 L1689.2,918.9 L1691.0,906.2 L1692.9,891.3 L1694.7,888.9 L1696.5,885.8 L1698.4,891.3 L1700.2,893.2 L1702.1,906.9 L1703.9,918.9 L1705.7,928.0 L1707.6,939.1 L1709.4,942.3 L1711.2,946.4 L1713.1,951.0 L1714.9,953.8 L1716.8,957.9 L1718.6,963.0 L1720.4,962.9 L1722.3,964.1 L1724.1,964.8 L1725.9,967.0 L1727.8,969.9 L1729.6,972.1 L1731.4,975.0 L1733.3,979.5 L1735.1,981.3 L1737.0,978.7 L1738.8,974.0 L1740.6,970.5 L1742.5,968.1 L1744.3,964.8 L1746.1,962.1 L1748.0,959.1 L1749.8,957.4 L1751.7,952.1 L1753.5,948.3 L1755.3,941.3 L1757.2,933.6 L1759.0,929.2 L1760.8,926.2 L1762.7,929.0 L1764.5,931.7" fill="none" stroke="#111111" stroke-width="1.7" stroke-linejoin="round"/>
<path d="M122.8,892.7 L125.6,864.9 L127.4,851.0 L129.3,837.1 L132.0,820.4 L134.8,846.4 L136.7,813.2 L138.5,779.7 L141.3,800.1 L144.1,826.0 L145.9,828.6 L147.8,831.6 L149.6,833.4 L152.4,859.3 L155.2,887.1 L158.0,892.7 L159.8,882.6 L161.7,870.4 L164.4,874.1 L166.3,877.0 L168.1,877.9 L170.0,878.3 L171.9,879.4 L173.7,879.7 L175.6,879.2 L177.4,877.9 L179.3,879.8 L181.1,881.6 L183.0,877.4 L184.8,874.1 L186.7,873.0 L188.5,869.8 L190.4,868.6 L192.2,867.0 L194.1,863.3 L195.9,863.0 L197.8,863.1 L199.6,861.2 L202.4,855.6 L205.2,874.1 L207.0,866.7 L208.9,859.3 L210.7,869.2 L212.6,877.9 L214.4,882.8 L216.3,886.5 L218.1,892.7 L220.0,888.7 L221.9,883.4 L223.7,892.0 L225.6,901.9 L227.4,913.7 L229.3,926.0 L231.1,921.9 L233.0,920.4 L234.8,910.3 L236.7,901.9 L238.5,894.3 L240.4,889.3 L242.2,883.4 L244.1,887.3 L245.9,889.0 L247.8,882.0 L249.6,874.1 L251.5,870.7 L253.3,870.4 L255.2,874.4 L257.0,874.1 L259.8,901.9 L262.6,863.0 L264.4,872.4 L266.3,883.4 L269.1,929.7 L271.9,911.2 L273.7,909.1 L275.6,909.3 L277.4,933.4 L279.3,936.3 L281.1,939.0 L283.0,938.7 L284.8,937.1 L286.7,929.8 L288.5,922.3 L290.4,915.9 L292.2,908.4 L294.1,901.9 L295.9,896.1 L297.8,889.0 L299.6,877.1 L301.5,866.7 L303.3,864.5 L305.2,859.3 L307.0,850.9 L308.9,844.5 L310.7,839.2 L312.6,837.1 L314.4,831.5 L316.3,826.0 L318.1,832.4 L320.0,835.3 L321.9,829.7 L323.7,824.1 L326.5,811.2 L328.8,818.5 L331.1,827.9 L333.0,842.0 L334.8,855.6 L336.7,858.6 L338.5,869.7 L340.4,874.1 L342.2,888.1 L344.1,903.3 L345.9,918.6 L347.8,917.5 L349.6,916.7 L351.5,918.0 L353.3,916.7 L356.1,898.2 L358.9,929.7 L360.7,932.5 L362.6,932.5 L364.4,933.4 L366.3,926.5 L368.1,920.4 L370.0,910.3 L371.9,901.9 L373.7,893.0 L375.6,885.3 L377.4,871.7 L379.3,859.3 L381.1,851.6 L383.0,840.8 L384.8,840.2 L386.7,837.1 L388.5,831.5 L390.4,824.1 L392.2,825.3 L394.1,824.1 L395.9,841.1 L397.8,859.3 L399.6,866.4 L401.5,870.4 L403.3,874.5 L405.2,877.9 L407.0,878.8 L408.9,877.9 L410.7,885.6 L412.6,890.8 L414.4,883.1 L416.3,874.1 L418.1,896.4 L420.0,893.3 L421.9,891.8 L423.7,889.0 L425.6,888.9 L427.4,888.4 L429.3,889.0 L431.1,882.2 L433.0,877.5 L434.8,870.4 L436.7,858.7 L438.5,844.5 L440.4,840.5 L442.2,839.0 L444.1,837.1 L445.9,837.1 L447.8,840.7 L449.6,849.7 L451.5,855.6 L453.3,858.8 L455.2,861.2 L457.0,867.7 L458.9,874.1 L460.7,885.9 L462.6,896.4 L464.6,905.5 L466.6,912.6 L468.6,922.1 L470.6,929.7 L473.3,909.3 L475.2,917.2 L477.0,926.0 L479.8,948.2 L481.7,948.3 L483.5,950.8 L485.4,951.9 L487.2,939.3 L489.1,929.7 L490.9,903.3 L492.8,874.1 L494.6,853.9 L496.5,835.3 L498.3,849.3 L500.2,859.3 L502.0,860.1 L503.9,859.3 L505.7,842.7 L507.6,879.7 L509.4,855.6 L511.3,876.2 L513.1,892.7 L515.0,895.8 L516.9,902.2 L518.7,903.8 L520.6,914.9 L522.4,926.0 L524.3,913.2 L526.1,900.1 L528.0,891.3 L529.8,885.5 L531.7,877.9 L533.5,890.6 L535.4,901.9 L537.6,809.3 L539.3,851.2 L540.9,898.2 L542.8,891.5 L544.6,888.7 L546.5,883.4 L548.3,881.4 L550.2,879.7 L552.0,877.7 L553.9,874.1 L555.7,865.8 L557.6,855.6 L559.4,869.0 L561.3,879.7 L563.1,884.3 L565.0,890.8 L566.9,894.0 L568.7,898.2 L570.6,905.4 L572.4,911.2 L575.2,931.6 L577.5,912.1 L579.8,892.7 L581.7,900.4 L583.5,911.2 L585.8,927.5 L588.1,942.7 L590.5,935.1 L592.8,929.7 L594.6,925.0 L596.5,922.3 L598.3,933.6 L600.2,940.8 L602.0,939.0 L603.9,940.7 L605.7,939.0 L608.1,921.9 L610.4,905.6 L613.1,935.3 L615.0,933.7 L616.9,933.4 L618.7,923.7 L620.6,916.0 L622.4,905.6 L624.3,919.1 L626.1,927.9 L628.9,955.6 L631.2,947.4 L633.5,942.7 L635.8,932.9 L638.1,922.3 L640.9,937.1 L642.8,933.4 L644.6,931.6 L646.5,932.3 L648.3,929.7 L650.2,929.8 L652.0,930.3 L653.9,929.7 L655.7,932.0 L657.6,933.4 L659.4,941.1 L661.3,948.2 L663.1,942.6 L665.0,939.0 L666.9,935.0 L668.7,928.8 L670.6,926.0 L672.4,931.2 L674.3,933.4 L676.1,939.1 L678.0,939.7 L679.8,946.4 L681.7,947.2 L683.5,946.5 L685.4,946.4 L687.2,950.2 L689.1,949.1 L690.9,951.9 L692.8,946.5 L694.6,942.7 L696.5,914.9 L698.3,955.6 L700.2,951.4 L702.0,949.9 L703.9,946.4 L705.7,949.9 L707.6,953.8 L709.4,955.9 L711.3,963.0 L713.1,954.8 L715.0,948.2 L716.9,936.0 L718.7,926.0 L720.6,919.8 L722.4,911.2 L724.3,888.7 L726.1,866.7 L728.9,839.0 L731.7,855.6 L733.5,895.5 L735.4,937.1 L737.2,937.8 L739.1,935.3 L740.9,940.4 L742.8,944.0 L744.6,948.2 L746.5,953.0 L748.3,957.7 L750.2,961.2 L753.0,914.9 L755.7,883.4 L757.6,896.4 L759.4,903.8 L761.3,911.2 L763.1,922.9 L765.0,937.1 L766.9,937.9 L768.7,941.6 L770.6,942.7 L773.3,913.0 L776.1,944.5 L778.0,949.8 L779.8,955.6 L781.7,956.3 L783.5,957.2 L785.4,959.3 L787.2,956.8 L789.1,955.9 L790.9,951.9 L792.8,952.3 L794.6,952.5 L796.5,954.9 L798.3,955.6 L800.2,956.8 L802.0,958.1 L803.9,959.3 L805.7,963.3 L807.6,964.9 L809.4,966.0 L811.3,968.6 L813.7,963.0 L815.6,956.5 L817.4,951.9 L820.2,946.4 L823.0,939.0 L824.8,943.5 L826.7,950.1 L828.5,951.6 L830.4,953.8 L832.2,952.4 L834.1,951.9 L835.9,954.1 L837.8,953.8 L839.6,941.1 L841.5,929.7 L843.3,915.6 L845.2,901.9 L847.0,887.9 L848.9,874.1 L851.7,859.3 L854.4,881.6 L857.2,890.8 L860.0,896.4 L862.8,885.3 L865.6,901.9 L868.3,929.7 L870.2,933.5 L872.0,940.8 L873.9,907.8 L875.7,876.0 L878.1,888.7 L880.4,901.9 L882.2,912.0 L884.1,922.3 L885.9,925.7 L887.8,929.7 L889.6,934.4 L891.5,940.8 L893.3,946.2 L895.2,951.9 L897.0,958.1 L898.9,963.0 L900.7,962.5 L902.6,964.2 L904.4,964.9 L906.3,964.8 L908.1,966.8 L910.0,966.7 L911.9,968.2 L913.7,969.2 L915.6,968.6 L917.4,969.3 L919.3,971.3 L921.1,970.4 L922.7,970.2 L924.4,970.8 L926.0,973.2 L927.6,975.1 L929.9,970.6 L932.2,966.7 L934.1,965.9 L935.9,963.0 L937.8,954.9 L939.6,946.4 L941.5,951.1 L943.3,955.6 L945.2,954.3 L947.0,958.5 L948.9,957.5 L950.7,957.5 L952.6,957.6 L954.4,955.6 L956.3,954.7 L958.1,953.8 L960.0,951.4 L961.9,948.2 L963.7,940.0 L965.6,931.6 L967.4,929.8 L969.3,926.0 L971.1,914.0 L973.0,901.9 L974.8,909.0 L976.7,911.2 L978.5,910.8 L980.4,907.5 L982.2,922.1 L984.1,937.1 L985.9,910.0 L987.8,879.7 L990.1,882.7 L992.4,883.4 L994.3,882.3 L996.1,879.7 L998.9,892.7 L1000.7,910.8 L1002.6,929.7 L1004.4,934.7 L1006.3,944.5 L1008.1,948.5 L1010.0,951.9 L1011.9,955.1 L1013.7,956.6 L1015.6,959.3 L1017.4,957.9 L1019.3,963.4 L1021.1,963.0 L1023.0,965.1 L1024.8,966.9 L1026.7,966.7 L1028.5,965.7 L1030.4,967.4 L1032.2,966.7 L1034.1,966.7 L1035.9,966.0 L1037.8,964.9 L1040.1,962.9 L1042.4,961.2 L1044.3,965.8 L1046.1,970.4 L1048.4,973.8 L1050.7,974.1 L1052.6,973.1 L1054.4,973.5 L1056.3,970.4 L1058.6,961.0 L1060.9,955.6 L1063.2,955.4 L1065.6,951.9 L1067.4,954.4 L1069.3,954.4 L1071.1,957.5 L1073.0,958.8 L1074.8,959.8 L1076.7,961.2 L1078.5,959.2 L1080.4,957.4 L1082.2,957.5 L1084.1,954.4 L1085.9,951.5 L1087.8,948.2 L1089.6,946.6 L1091.5,940.8 L1093.3,935.4 L1095.2,929.7 L1097.0,930.8 L1098.9,937.1 L1100.7,940.6 L1102.6,946.3 L1104.4,950.1 L1106.3,944.6 L1108.1,940.8 L1110.0,903.1 L1111.9,868.6 L1113.7,878.4 L1115.6,889.0 L1117.4,905.7 L1119.3,920.4 L1121.1,933.4 L1123.0,942.7 L1124.8,942.6 L1126.7,944.0 L1128.5,944.5 L1130.4,944.5 L1132.2,946.0 L1134.1,948.2 L1135.9,948.5 L1137.8,949.3 L1139.6,950.1 L1141.5,947.6 L1143.3,945.9 L1145.2,946.4 L1147.0,941.9 L1148.9,940.3 L1150.7,937.1 L1152.6,937.2 L1154.4,937.1 L1156.6,937.2 L1158.7,935.3 L1160.6,936.4 L1162.4,939.0 L1164.3,934.7 L1166.1,929.7 L1168.0,934.9 L1169.8,940.8 L1171.7,938.2 L1173.5,942.7 L1175.4,935.6 L1177.2,926.0 L1179.1,928.9 L1180.9,929.7 L1182.8,939.8 L1184.6,944.5 L1186.5,946.9 L1188.3,946.7 L1190.2,946.4 L1192.0,947.3 L1193.9,946.4 L1195.7,943.5 L1197.6,939.0 L1199.4,938.2 L1201.3,936.3 L1203.1,935.3 L1205.0,932.1 L1206.9,930.6 L1208.7,926.0 L1210.6,924.8 L1212.4,920.4 L1214.3,921.9 L1216.1,924.1 L1218.4,927.0 L1220.7,931.6 L1223.1,927.9 L1225.4,924.1 L1228.1,892.7 L1230.9,861.2 L1232.8,867.2 L1234.6,877.9 L1237.4,890.8 L1240.2,892.7 L1242.0,908.6 L1243.9,926.0 L1245.7,935.0 L1247.6,942.7 L1249.4,942.7 L1251.3,946.4 L1253.1,949.5 L1255.0,947.6 L1256.9,950.1 L1258.7,948.8 L1260.6,946.2 L1262.4,942.7 L1264.3,941.1 L1266.1,940.0 L1268.0,940.8 L1269.8,938.2 L1271.7,933.4 L1273.5,932.7 L1275.4,927.9 L1277.2,923.7 L1279.1,927.6 L1280.9,924.1 L1282.8,916.1 L1284.6,911.2 L1286.5,917.4 L1288.3,924.1 L1290.2,917.9 L1292.0,913.0 L1293.9,911.2 L1295.7,907.5 L1297.6,900.7 L1299.4,894.5 L1301.3,902.4 L1303.1,911.2 L1305.0,918.9 L1306.9,924.1 L1308.7,921.8 L1310.6,920.4 L1312.4,918.1 L1314.3,916.7 L1316.1,916.9 L1318.0,919.5 L1319.8,918.6 L1321.7,913.1 L1323.5,911.2 L1325.4,905.2 L1327.2,900.1 L1330.0,889.0 L1332.8,909.3 L1334.6,912.0 L1336.5,916.7 L1338.3,922.8 L1340.2,929.7 L1342.0,933.9 L1343.9,935.3 L1345.7,936.7 L1347.6,940.8 L1349.4,896.4 L1351.8,891.4 L1354.1,887.1 L1356.4,893.9 L1358.7,905.6 L1360.6,910.2 L1362.4,913.0 L1364.3,916.3 L1366.1,918.4 L1368.0,920.4 L1369.8,918.9 L1371.7,914.9 L1373.5,905.3 L1375.4,894.5 L1377.2,893.1 L1379.1,889.0 L1380.9,893.7 L1382.8,900.1 L1384.6,891.8 L1386.5,881.6 L1388.3,869.3 L1390.2,855.6 L1392.0,850.6 L1393.9,844.6 L1395.7,835.3 L1397.6,824.2 L1399.4,816.7 L1402.2,800.1 L1405.0,779.7 L1406.9,785.5 L1408.7,789.0 L1410.6,797.8 L1412.4,809.7 L1414.3,814.9 L1416.1,805.5 L1418.0,796.4 L1420.3,786.8 L1422.6,774.1 L1424.9,787.4 L1427.2,800.1 L1429.1,803.5 L1430.9,800.1 L1433.2,809.1 L1435.6,816.7 L1438.3,805.6 L1440.2,805.2 L1442.0,804.8 L1443.9,805.6 L1445.7,799.8 L1447.6,794.0 L1449.4,789.0 L1451.3,781.7 L1453.1,776.0 L1455.5,782.6 L1457.8,792.7 L1460.1,789.4 L1462.4,785.3 L1464.3,787.0 L1466.1,790.6 L1468.0,792.7 L1469.8,783.2 L1471.7,770.4 L1473.3,751.1 L1475.0,733.4 L1477.0,754.5 L1479.1,770.4 L1480.9,787.4 L1482.8,803.8 L1484.6,809.6 L1486.5,814.6 L1488.3,820.4 L1490.2,826.3 L1492.0,834.1 L1493.9,842.7 L1495.7,863.4 L1497.6,883.4 L1499.4,884.5 L1501.3,885.3 L1503.4,883.4 L1505.5,880.3 L1507.3,873.8 L1509.2,869.3 L1511.0,865.6 L1512.9,861.9 L1514.7,850.6 L1516.5,841.7 L1518.4,829.4 L1520.2,821.5 L1523.0,819.7 L1525.7,781.1 L1527.6,778.2 L1529.4,777.4 L1531.2,778.1 L1533.1,775.6 L1534.9,773.0 L1536.7,770.1 L1539.5,781.1 L1542.2,790.3 L1544.1,803.1 L1545.9,807.3 L1547.8,812.3 L1549.6,812.2 L1551.4,814.2 L1553.3,818.6 L1555.1,819.7 L1556.9,819.9 L1558.8,819.7 L1560.6,818.0 L1562.5,814.2 L1564.3,809.2 L1566.1,808.7 L1568.0,808.1 L1569.8,806.8 L1571.6,804.4 L1573.5,805.0 L1575.3,803.5 L1577.1,803.1 L1579.0,810.0 L1580.8,817.8 L1582.7,820.3 L1584.5,821.5 L1587.3,799.5 L1590.0,781.1 L1591.8,783.8 L1593.7,786.6 L1595.5,787.5 L1597.4,786.6 L1600.1,788.5 L1602.9,810.5 L1605.6,861.9 L1607.9,865.5 L1610.2,863.8 L1612.0,866.8 L1613.9,864.3 L1615.7,865.6 L1617.6,862.8 L1619.4,861.4 L1621.2,861.9 L1623.1,864.5 L1624.9,867.4 L1626.7,860.7 L1628.6,854.6 L1630.4,845.7 L1632.3,836.2 L1634.1,837.2 L1635.9,838.0 L1637.8,835.0 L1639.6,832.5 L1641.4,826.0 L1643.3,822.1 L1645.1,816.0 L1647.0,809.1 L1648.8,803.6 L1650.6,795.8 L1652.9,795.9 L1655.2,792.1 L1658.0,781.1 L1659.8,776.9 L1661.6,773.8 L1663.5,771.8 L1665.3,770.1 L1667.2,767.5 L1669.0,762.7 L1670.8,762.5 L1672.7,760.1 L1674.5,759.1 L1676.3,759.3 L1678.2,759.4 L1680.0,757.2 L1682.3,750.1 L1684.6,743.5 L1686.4,759.0 L1688.3,770.1 L1690.6,771.7 L1692.9,773.8 L1694.7,762.1 L1696.5,750.7 L1698.4,737.9 L1700.2,751.3 L1702.1,766.4 L1703.9,765.4 L1705.7,762.7 L1707.6,763.9 L1709.4,768.2 L1711.2,763.2 L1713.1,757.2 L1714.9,761.7 L1716.8,766.4 L1718.6,763.3 L1720.4,759.1 L1722.3,763.5 L1724.1,766.4 L1726.4,758.7 L1728.7,751.7 L1731.4,786.6 L1733.3,794.5 L1735.1,806.8 L1737.0,819.7 L1738.8,822.7 L1740.6,825.2 L1742.5,827.7 L1744.3,830.7 L1746.1,826.7 L1748.0,825.2 L1749.8,823.8 L1751.7,825.5 L1753.5,823.4 L1755.3,825.0 L1757.2,825.2 L1759.0,820.4 L1760.8,817.8 L1762.7,813.1 L1764.5,806.8" fill="none" stroke="#1414ee" stroke-width="1.7" stroke-linejoin="round"/>
</g>
<g clip-path="url(#clipd)">
<path d="M122.8,1297.3 L125.6,1301.0 L127.4,1310.7 L129.3,1321.3 L131.1,1326.0 L133.0,1330.9 L134.8,1334.3 L136.7,1331.2 L138.5,1325.0 L140.4,1315.6 L142.2,1308.4 L144.1,1309.6 L145.9,1312.1 L147.8,1311.3 L149.6,1311.8 L151.5,1312.1 L153.3,1312.9 L155.2,1313.9 L157.0,1314.7 L158.9,1317.6 L160.7,1317.2 L162.6,1315.2 L164.4,1315.8 L166.8,1314.4 L169.1,1312.1 L170.9,1313.2 L172.8,1315.8 L175.6,1301.0 L177.4,1294.7 L179.3,1288.0 L181.6,1279.1 L183.9,1269.5 L186.7,1265.8 L188.5,1260.1 L190.4,1254.7 L192.2,1247.7 L194.1,1241.7 L195.9,1239.2 L197.8,1238.0 L199.6,1237.1 L201.5,1238.0 L203.3,1236.5 L205.2,1232.4 L208.0,1223.2 L210.3,1229.3 L212.6,1234.3 L215.4,1238.0 L218.1,1225.0 L220.9,1241.7 L223.7,1252.8 L225.6,1260.9 L227.4,1265.8 L230.2,1273.2 L232.5,1271.7 L234.8,1269.5 L237.1,1264.2 L239.4,1258.4 L241.8,1258.8 L244.1,1260.2 L245.9,1265.6 L247.8,1271.3 L249.6,1272.8 L251.5,1276.9 L253.3,1278.3 L255.2,1279.0 L257.0,1278.7 L258.9,1289.3 L260.7,1297.3 L262.6,1301.3 L264.4,1302.8 L266.8,1306.6 L269.1,1312.1 L271.4,1301.7 L273.7,1295.4 L276.5,1310.2 L279.3,1313.9 L281.1,1312.7 L283.0,1310.2 L284.8,1308.0 L286.7,1304.5 L288.5,1302.8 L290.4,1301.4 L292.2,1302.3 L294.1,1301.0 L295.9,1300.6 L297.8,1297.6 L299.6,1295.4 L301.5,1291.1 L303.3,1288.7 L305.2,1284.3 L307.0,1279.7 L308.9,1273.2 L310.7,1264.8 L312.6,1258.4 L314.4,1249.1 L316.3,1245.1 L318.1,1239.9 L320.0,1231.6 L321.9,1225.0 L324.6,1223.2 L327.4,1134.3 L329.3,1136.2 L331.1,1138.0 L333.0,1117.6 L335.7,1132.4 L338.5,1171.3 L340.4,1187.5 L342.2,1202.8 L345.0,1225.0 L347.8,1226.9 L350.6,1251.0 L352.9,1261.2 L355.2,1271.3 L357.0,1284.9 L358.9,1301.0 L360.7,1304.7 L362.6,1317.0 L364.4,1328.7 L367.2,1319.5 L369.5,1325.7 L371.9,1334.3 L374.2,1338.6 L376.5,1341.7 L378.8,1334.6 L381.1,1330.6 L383.0,1333.0 L384.8,1336.1 L386.7,1335.4 L388.5,1334.9 L390.4,1335.2 L392.2,1335.1 L394.1,1334.8 L395.9,1334.3 L397.8,1334.0 L399.6,1331.0 L401.5,1328.7 L403.3,1322.3 L405.2,1313.9 L407.0,1303.7 L408.9,1295.4 L410.7,1295.4 L412.6,1293.6 L414.4,1296.2 L416.3,1297.3 L418.1,1299.7 L420.0,1300.9 L421.9,1301.0 L423.7,1290.0 L425.6,1280.6 L427.4,1270.8 L429.3,1262.7 L431.1,1254.7 L433.0,1243.0 L434.8,1233.6 L436.7,1221.3 L438.5,1198.7 L440.4,1179.4 L442.2,1158.4 L444.1,1147.2 L445.9,1134.3 L447.8,1138.8 L449.6,1143.6 L451.5,1151.6 L453.3,1162.1 L455.2,1172.4 L457.0,1184.3 L458.9,1197.7 L460.7,1210.2 L462.6,1229.4 L464.4,1247.3 L466.6,1272.1 L468.7,1297.3 L470.6,1300.6 L472.4,1304.6 L474.3,1306.5 L476.1,1307.5 L478.0,1310.7 L479.8,1310.2 L481.7,1310.6 L483.5,1314.3 L485.4,1313.9 L487.2,1313.9 L489.1,1317.5 L490.9,1317.6 L492.8,1321.3 L494.6,1325.0 L496.9,1327.4 L499.3,1332.4 L502.0,1325.0 L503.9,1324.2 L505.7,1323.2 L507.6,1320.9 L509.4,1317.6 L511.3,1315.0 L513.1,1311.6 L515.0,1308.4 L516.9,1308.2 L518.7,1308.1 L520.6,1308.4 L522.4,1305.7 L524.3,1302.8 L526.6,1303.8 L528.9,1302.8 L531.2,1299.5 L533.5,1295.4 L536.3,1289.9 L539.1,1293.6 L540.9,1296.0 L542.8,1297.3 L544.6,1293.7 L546.5,1289.9 L548.3,1285.5 L550.2,1278.7 L552.0,1272.4 L553.9,1262.1 L555.7,1251.9 L557.6,1238.0 L559.4,1217.5 L561.3,1199.1 L564.1,1134.3 L566.9,1117.6 L569.6,1132.4 L572.4,1165.8 L574.3,1178.0 L576.1,1191.7 L578.0,1203.8 L579.8,1217.6 L581.7,1225.7 L583.5,1234.3 L585.4,1248.9 L587.2,1260.2 L589.1,1280.6 L590.9,1287.7 L592.8,1295.4 L594.6,1300.1 L596.5,1304.7 L598.3,1306.3 L600.2,1308.4 L602.0,1313.2 L603.9,1321.3 L605.7,1321.2 L607.6,1323.2 L609.4,1320.7 L611.3,1319.5 L614.1,1332.4 L616.9,1328.7 L618.7,1327.4 L620.6,1327.2 L622.4,1326.9 L624.3,1321.9 L626.1,1317.6 L628.0,1320.2 L629.8,1323.2 L631.7,1317.2 L633.5,1313.9 L635.4,1312.0 L637.2,1308.4 L639.1,1308.8 L640.9,1307.8 L642.8,1308.4 L644.6,1308.9 L646.5,1310.2 L648.3,1307.6 L650.2,1306.5 L652.0,1303.0 L653.9,1302.8 L655.7,1301.5 L657.6,1298.7 L659.4,1297.3 L661.3,1296.9 L663.1,1296.1 L665.0,1293.6 L666.9,1289.6 L668.7,1288.0 L670.6,1277.8 L672.4,1269.5 L674.3,1262.5 L676.1,1254.7 L678.0,1247.7 L679.8,1241.7 L681.7,1238.3 L683.5,1236.1 L685.4,1235.8 L687.2,1236.5 L689.1,1236.1 L690.9,1222.0 L692.8,1210.2 L694.6,1202.9 L696.5,1195.4 L698.3,1196.3 L700.2,1195.4 L702.0,1196.8 L703.9,1199.1 L705.7,1206.2 L707.6,1213.9 L709.4,1228.2 L711.3,1241.7 L713.1,1256.4 L715.0,1269.5 L716.9,1275.0 L718.7,1278.7 L720.6,1271.7 L722.4,1263.9 L724.3,1269.0 L726.1,1271.3 L728.0,1277.6 L729.8,1286.3 L731.7,1291.7 L733.5,1299.0 L735.4,1305.0 L737.2,1312.1 L739.1,1312.1 L740.9,1315.9 L742.8,1315.8 L744.6,1318.8 L746.5,1321.3 L748.3,1316.9 L750.2,1312.8 L752.0,1306.5 L753.9,1305.3 L755.7,1304.7 L757.6,1306.6 L759.4,1307.9 L761.3,1308.4 L763.1,1309.8 L765.0,1308.4 L766.9,1310.5 L768.7,1313.7 L770.6,1313.9 L772.4,1311.6 L774.3,1310.2 L776.1,1308.3 L778.0,1306.0 L779.8,1304.7 L781.7,1300.8 L783.5,1300.0 L785.4,1295.4 L787.2,1291.3 L789.1,1286.7 L790.9,1282.4 L792.8,1277.1 L794.6,1271.5 L796.5,1265.8 L798.3,1257.1 L800.2,1251.0 L802.0,1243.2 L803.9,1236.5 L805.7,1228.7 L807.6,1226.8 L809.4,1226.9 L811.1,1220.2 L812.8,1213.9 L814.9,1198.8 L817.0,1184.3 L820.2,1195.4 L822.0,1203.8 L823.9,1213.9 L826.2,1218.3 L828.5,1225.0 L831.3,1245.4 L834.1,1273.2 L835.9,1291.7 L838.7,1301.0 L840.6,1282.4 L842.9,1265.2 L845.2,1249.1 L848.0,1254.7 L850.7,1273.2 L852.6,1284.5 L854.4,1295.4 L856.3,1304.2 L858.1,1312.1 L860.5,1310.7 L862.8,1312.1 L865.6,1306.5 L867.4,1305.7 L869.3,1304.7 L871.1,1307.0 L873.0,1308.4 L875.7,1313.9 L878.1,1311.5 L880.4,1312.1 L882.2,1311.4 L884.1,1313.5 L885.9,1314.1 L887.8,1313.9 L890.1,1315.3 L892.4,1315.8 L894.7,1312.5 L897.0,1306.5 L899.4,1308.1 L901.7,1308.4 L904.0,1302.2 L906.3,1293.6 L908.6,1283.4 L910.9,1273.2 L913.2,1265.8 L915.6,1258.4 L917.4,1252.0 L919.3,1247.4 L921.1,1241.7 L923.0,1237.7 L924.8,1234.3 L926.7,1233.8 L928.5,1234.3 L930.4,1235.5 L932.2,1235.9 L934.1,1236.1 L935.9,1232.1 L937.8,1228.7 L939.6,1216.0 L941.5,1202.8 L943.3,1208.7 L945.2,1213.9 L947.0,1221.7 L948.9,1228.7 L950.7,1234.6 L952.6,1241.7 L955.4,1251.0 L958.1,1217.6 L960.0,1222.8 L961.9,1226.9 L964.6,1239.9 L967.4,1254.7 L969.3,1258.6 L971.1,1263.6 L973.0,1267.6 L974.8,1269.6 L976.7,1274.3 L978.5,1275.0 L980.4,1275.6 L982.2,1279.6 L984.1,1280.6 L985.9,1282.2 L987.8,1286.9 L989.6,1288.0 L991.5,1288.2 L993.3,1291.1 L995.2,1291.7 L998.0,1291.7 L1000.7,1301.0 L1002.6,1307.3 L1004.4,1313.9 L1006.3,1316.6 L1008.1,1317.6 L1010.9,1323.2 L1013.7,1323.2 L1015.6,1310.2 L1017.4,1308.2 L1019.3,1308.4 L1021.1,1304.4 L1023.0,1301.4 L1024.8,1297.3 L1026.7,1289.7 L1028.5,1280.6 L1030.4,1274.5 L1032.2,1267.8 L1034.1,1263.9 L1035.9,1257.4 L1037.8,1251.0 L1039.6,1245.4 L1041.5,1239.0 L1043.3,1232.4 L1045.2,1228.4 L1047.0,1225.0 L1048.9,1223.2 L1050.7,1223.2 L1052.6,1218.4 L1054.4,1213.9 L1056.8,1208.7 L1059.1,1201.0 L1060.9,1204.2 L1062.8,1206.5 L1065.6,1219.5 L1067.4,1220.1 L1069.3,1221.3 L1071.1,1228.3 L1073.0,1234.3 L1074.8,1243.2 L1076.7,1254.7 L1077.6,1273.2 L1080.4,1258.4 L1083.1,1249.1 L1085.9,1252.8 L1087.8,1259.7 L1089.6,1267.6 L1091.5,1277.7 L1093.3,1288.0 L1095.2,1291.4 L1097.0,1294.8 L1098.9,1299.1 L1100.7,1301.9 L1102.6,1304.7 L1104.4,1309.9 L1106.3,1312.1 L1108.1,1310.2 L1110.0,1308.4 L1112.3,1305.9 L1114.6,1302.8 L1116.9,1306.1 L1119.3,1306.5 L1121.1,1306.2 L1123.0,1309.9 L1124.8,1312.1 L1126.7,1314.7 L1128.5,1314.5 L1130.4,1317.6 L1132.2,1319.7 L1134.1,1323.7 L1135.9,1325.0 L1137.8,1321.4 L1139.6,1317.6 L1141.5,1314.1 L1143.3,1310.2 L1145.2,1304.6 L1147.0,1293.8 L1148.9,1288.0 L1150.7,1284.0 L1152.6,1277.0 L1154.4,1273.2 L1156.6,1264.3 L1158.7,1254.7 L1160.6,1250.3 L1162.4,1244.9 L1164.3,1239.9 L1166.1,1244.3 L1168.0,1249.1 L1170.3,1261.9 L1172.6,1273.2 L1175.4,1245.4 L1178.1,1208.4 L1180.6,1199.1 L1182.6,1208.8 L1184.6,1217.6 L1186.5,1225.8 L1188.3,1232.4 L1190.2,1229.6 L1192.0,1225.0 L1194.8,1249.1 L1197.1,1247.8 L1199.4,1245.4 L1202.2,1228.7 L1204.5,1236.8 L1206.9,1241.7 L1208.7,1252.5 L1210.6,1263.9 L1212.4,1272.5 L1214.3,1284.3 L1216.1,1290.1 L1218.0,1299.0 L1219.8,1306.5 L1221.7,1307.9 L1223.5,1311.1 L1225.4,1313.9 L1227.2,1320.5 L1229.1,1326.9 L1230.9,1325.1 L1232.8,1319.7 L1234.6,1317.6 L1236.5,1313.4 L1238.3,1308.4 L1240.2,1308.5 L1242.0,1311.6 L1243.9,1312.1 L1245.7,1313.0 L1247.6,1317.6 L1249.4,1318.1 L1251.3,1315.8 L1253.6,1315.5 L1255.9,1315.8 L1258.2,1314.0 L1260.6,1308.4 L1262.4,1303.0 L1264.3,1296.5 L1266.1,1291.7 L1268.0,1286.7 L1269.8,1282.4 L1271.7,1277.5 L1273.5,1274.1 L1275.4,1269.5 L1277.2,1264.4 L1279.1,1257.4 L1280.9,1251.0 L1282.8,1245.8 L1284.6,1240.9 L1286.5,1236.1 L1288.3,1237.7 L1290.2,1235.3 L1292.0,1236.1 L1293.9,1226.6 L1295.7,1215.8 L1297.6,1215.0 L1299.4,1215.1 L1301.3,1215.8 L1303.1,1222.9 L1305.0,1228.7 L1306.9,1236.6 L1308.7,1247.3 L1311.5,1265.8 L1313.8,1267.2 L1316.1,1265.8 L1318.0,1259.9 L1319.8,1250.1 L1321.7,1243.6 L1323.5,1250.0 L1325.4,1258.4 L1327.2,1263.2 L1329.1,1268.0 L1330.9,1273.2 L1332.8,1277.5 L1334.6,1284.0 L1336.5,1288.0 L1338.3,1295.7 L1340.2,1299.1 L1342.0,1307.4 L1343.9,1315.8 L1345.7,1326.9 L1347.6,1322.9 L1349.4,1317.6 L1351.8,1314.5 L1354.1,1312.1 L1356.4,1313.9 L1358.7,1315.8 L1360.6,1315.3 L1362.4,1315.7 L1364.3,1315.8 L1366.1,1313.5 L1368.0,1310.5 L1369.8,1308.4 L1371.7,1306.7 L1373.5,1304.1 L1375.4,1302.8 L1377.2,1303.2 L1379.1,1301.4 L1380.9,1302.8 L1382.8,1300.8 L1384.6,1297.7 L1386.5,1295.4 L1388.3,1292.2 L1390.2,1288.0 L1392.0,1284.3 L1393.9,1277.8 L1395.7,1271.3 L1397.6,1263.1 L1399.4,1254.7 L1401.3,1252.9 L1403.1,1251.9 L1405.0,1248.8 L1406.9,1249.1 L1409.2,1218.8 L1411.5,1189.9 L1414.3,1149.1 L1416.1,1150.3 L1418.0,1151.0 L1419.8,1164.6 L1421.7,1180.6 L1423.5,1196.5 L1425.4,1208.4 L1427.2,1225.4 L1429.1,1239.9 L1430.9,1244.1 L1432.8,1251.0 L1434.6,1261.7 L1436.5,1269.5 L1438.3,1279.2 L1440.2,1288.0 L1443.0,1323.2 L1445.3,1317.2 L1447.6,1310.2 L1449.4,1313.9 L1451.3,1314.7 L1453.1,1317.6 L1455.0,1317.4 L1456.9,1317.2 L1458.7,1315.8 L1460.6,1319.8 L1462.4,1325.0 L1464.3,1327.7 L1466.1,1330.6 L1468.0,1333.4 L1469.8,1336.1 L1471.7,1330.9 L1473.5,1325.0 L1475.4,1323.0 L1477.2,1322.5 L1479.1,1321.3 L1480.9,1318.3 L1482.8,1317.1 L1484.6,1313.9 L1486.5,1311.0 L1488.3,1309.6 L1490.2,1306.5 L1492.0,1309.3 L1493.9,1312.1 L1495.7,1308.8 L1497.6,1306.5 L1499.4,1305.4 L1501.3,1302.8 L1503.7,1297.4 L1505.5,1293.0 L1507.3,1287.4 L1509.2,1282.7 L1511.0,1278.7 L1512.9,1274.1 L1514.7,1268.0 L1516.5,1261.9 L1518.4,1258.8 L1521.1,1249.6 L1523.4,1248.5 L1525.7,1246.0 L1528.5,1240.5 L1530.3,1212.9 L1532.1,1192.7 L1534.9,1203.7 L1536.7,1214.9 L1538.6,1229.4 L1540.4,1230.8 L1542.2,1232.6 L1544.1,1233.1 L1545.9,1233.6 L1547.8,1233.1 L1549.6,1245.5 L1551.4,1257.0 L1553.3,1269.8 L1555.1,1282.7 L1557.9,1293.7 L1560.6,1280.9 L1563.4,1268.0 L1565.7,1272.3 L1568.0,1275.4 L1569.8,1278.1 L1571.6,1282.7 L1573.5,1292.6 L1575.3,1299.2 L1577.1,1304.9 L1579.0,1313.9 L1581.3,1321.1 L1583.6,1328.6 L1585.9,1324.6 L1588.2,1323.1 L1590.0,1320.1 L1591.8,1317.6 L1593.7,1318.0 L1595.5,1319.4 L1597.8,1316.7 L1600.1,1315.8 L1602.4,1318.6 L1604.7,1319.4 L1606.5,1317.1 L1608.4,1315.8 L1610.2,1315.8 L1612.0,1317.0 L1613.9,1317.6 L1615.7,1317.4 L1617.6,1315.8 L1619.4,1314.4 L1621.2,1312.1 L1623.1,1312.7 L1624.9,1313.9 L1626.7,1303.2 L1628.6,1291.9 L1630.4,1288.4 L1632.3,1284.5 L1634.1,1280.9 L1635.9,1276.0 L1637.8,1272.5 L1639.6,1268.0 L1641.2,1261.7 L1642.8,1258.7 L1644.4,1253.6 L1646.0,1247.8 L1647.6,1248.1 L1649.2,1248.3 L1650.9,1247.5 L1652.5,1249.6 L1654.3,1252.2 L1656.1,1255.2 L1658.9,1216.6 L1661.3,1203.7 L1663.3,1216.4 L1665.3,1227.6 L1667.2,1233.6 L1669.0,1242.3 L1671.3,1241.1 L1673.6,1238.6 L1675.4,1248.2 L1677.3,1258.8 L1679.1,1243.0 L1680.9,1223.9 L1683.2,1228.1 L1685.5,1231.3 L1687.4,1238.8 L1689.2,1244.1 L1691.0,1245.2 L1692.9,1246.4 L1694.7,1247.8 L1696.5,1257.2 L1698.4,1268.0 L1700.2,1282.2 L1702.1,1293.7 L1703.9,1305.4 L1705.7,1317.6 L1707.6,1325.1 L1709.4,1332.3 L1711.2,1326.7 L1713.1,1323.1 L1714.9,1321.5 L1716.8,1318.6 L1718.6,1317.6 L1720.4,1317.8 L1722.3,1317.6 L1724.1,1315.0 L1725.9,1310.3 L1727.8,1309.2 L1729.6,1308.2 L1731.4,1308.4 L1733.3,1313.3 L1735.1,1317.6 L1737.0,1318.3 L1738.8,1318.2 L1740.6,1319.4 L1742.5,1319.9 L1744.3,1323.1 L1746.1,1309.5 L1748.0,1295.6 L1749.8,1290.4 L1751.7,1284.8 L1753.5,1279.0 L1755.3,1274.7 L1757.2,1268.0 L1759.0,1260.7 L1760.8,1262.9 L1762.7,1264.3 L1764.5,1258.8" fill="none" stroke="#111111" stroke-width="1.7" stroke-linejoin="round"/>
<path d="M122.8,1255.6 L125.6,1227.7 L127.4,1213.6 L129.3,1199.8 L132.0,1183.0 L134.8,1209.1 L136.7,1175.4 L138.5,1142.1 L141.3,1162.5 L144.1,1188.6 L145.9,1191.3 L147.8,1194.2 L149.6,1196.1 L152.4,1222.1 L155.2,1250.1 L158.0,1255.6 L159.8,1245.3 L161.7,1233.3 L164.4,1237.0 L166.3,1238.7 L168.1,1240.7 L170.0,1239.6 L171.9,1242.4 L173.7,1242.6 L175.6,1241.4 L177.4,1240.7 L179.3,1242.3 L181.1,1244.5 L183.0,1240.9 L184.8,1237.0 L186.7,1235.4 L188.5,1234.7 L190.4,1231.4 L192.2,1230.4 L194.1,1227.8 L195.9,1225.8 L197.8,1224.0 L199.6,1224.0 L202.4,1218.4 L205.2,1237.0 L207.0,1228.4 L208.9,1222.1 L210.7,1231.7 L212.6,1240.7 L214.4,1247.3 L216.3,1250.7 L218.1,1255.6 L220.0,1250.9 L221.9,1246.3 L223.7,1256.3 L225.6,1264.9 L227.4,1275.3 L229.3,1289.2 L231.1,1286.0 L233.0,1283.6 L234.8,1274.8 L236.7,1264.9 L238.5,1259.8 L240.4,1252.2 L242.2,1246.3 L244.1,1249.6 L245.9,1251.9 L247.8,1244.8 L249.6,1237.0 L251.5,1236.1 L253.3,1233.3 L255.2,1233.8 L257.0,1237.0 L259.8,1264.9 L262.6,1225.8 L264.4,1236.8 L266.3,1246.3 L269.1,1292.9 L271.9,1274.3 L273.7,1271.5 L275.6,1272.4 L277.4,1296.6 L279.3,1296.2 L281.1,1302.2 L283.0,1300.5 L284.8,1300.3 L286.7,1291.8 L288.5,1285.4 L290.4,1279.7 L292.2,1272.6 L294.1,1264.9 L295.9,1257.0 L297.8,1251.9 L299.6,1241.8 L301.5,1229.6 L303.3,1224.6 L305.2,1222.1 L307.0,1214.6 L308.9,1207.2 L310.7,1203.2 L312.6,1199.8 L314.4,1194.3 L316.3,1188.6 L318.1,1194.3 L320.0,1197.9 L321.9,1193.1 L323.7,1186.8 L326.5,1173.7 L328.8,1182.5 L331.1,1190.5 L333.0,1205.2 L334.8,1218.4 L336.7,1225.2 L338.5,1230.1 L340.4,1237.0 L342.2,1251.1 L344.1,1266.2 L345.9,1281.7 L347.8,1281.4 L349.6,1279.8 L351.5,1279.5 L353.3,1279.8 L356.1,1261.2 L358.9,1292.9 L360.7,1296.9 L362.6,1294.4 L364.4,1296.6 L366.3,1288.8 L368.1,1283.6 L370.0,1275.2 L371.9,1264.9 L373.7,1258.3 L375.6,1248.2 L377.4,1235.8 L379.3,1222.1 L381.1,1213.8 L383.0,1203.5 L384.8,1203.4 L386.7,1199.8 L388.5,1193.2 L390.4,1186.8 L392.2,1185.0 L394.1,1186.8 L395.9,1203.8 L397.8,1222.1 L399.6,1228.9 L401.5,1233.3 L403.3,1235.3 L405.2,1240.7 L407.0,1240.8 L408.9,1240.7 L410.7,1247.6 L412.6,1253.8 L414.4,1245.0 L416.3,1237.0 L418.1,1259.4 L420.0,1257.7 L421.9,1255.1 L423.7,1251.9 L425.6,1254.7 L427.4,1252.7 L429.3,1251.9 L431.1,1245.0 L433.0,1238.8 L434.8,1233.3 L436.7,1219.3 L438.5,1207.2 L440.4,1205.6 L442.2,1201.6 L444.1,1200.0 L445.9,1199.8 L447.8,1205.9 L449.6,1213.1 L451.5,1218.4 L453.3,1220.3 L455.2,1224.0 L457.0,1230.2 L458.9,1237.0 L460.7,1246.0 L462.6,1259.4 L464.6,1266.4 L466.6,1275.4 L468.6,1285.0 L470.6,1292.9 L473.3,1272.4 L475.2,1282.2 L477.0,1289.2 L479.8,1311.5 L481.7,1312.7 L483.5,1314.3 L485.4,1315.2 L487.2,1304.2 L489.1,1292.9 L490.9,1266.2 L492.8,1237.0 L494.6,1218.5 L496.5,1197.9 L498.3,1210.4 L500.2,1222.1 L502.0,1220.9 L503.9,1222.1 L505.7,1205.4 L507.6,1242.6 L509.4,1218.4 L511.3,1238.1 L513.1,1255.6 L515.0,1259.8 L516.9,1264.6 L518.7,1266.8 L520.6,1277.9 L522.4,1289.2 L524.3,1278.5 L526.1,1263.1 L528.0,1255.2 L529.8,1250.1 L531.7,1240.7 L533.5,1253.0 L535.4,1264.9 L537.6,1171.9 L539.3,1215.9 L540.9,1261.2 L542.8,1254.9 L544.6,1251.1 L546.5,1246.3 L548.3,1246.2 L550.2,1242.6 L552.0,1240.8 L553.9,1237.0 L555.7,1228.5 L557.6,1218.4 L559.4,1227.7 L561.3,1242.6 L563.1,1249.0 L565.0,1253.8 L566.9,1258.2 L568.7,1261.2 L570.6,1267.1 L572.4,1274.3 L575.2,1294.7 L577.5,1274.4 L579.8,1255.6 L581.7,1264.9 L583.5,1274.3 L585.8,1292.2 L588.1,1305.9 L590.5,1298.1 L592.8,1292.9 L594.6,1288.6 L596.5,1285.4 L598.3,1296.4 L600.2,1304.0 L602.0,1302.9 L603.9,1302.4 L605.7,1302.2 L608.1,1285.5 L610.4,1268.7 L613.1,1298.5 L615.0,1296.0 L616.9,1296.6 L618.7,1287.6 L620.6,1276.5 L622.4,1268.7 L624.3,1280.9 L626.1,1291.0 L628.9,1318.9 L631.2,1312.4 L633.5,1305.9 L635.8,1298.4 L638.1,1285.4 L640.9,1300.3 L642.8,1297.9 L644.6,1294.7 L646.5,1295.4 L648.3,1292.9 L650.2,1291.3 L652.0,1292.7 L653.9,1292.9 L655.7,1295.1 L657.6,1296.6 L659.4,1306.1 L661.3,1311.5 L663.1,1304.8 L665.0,1302.2 L666.9,1299.0 L668.7,1294.2 L670.6,1289.2 L672.4,1294.7 L674.3,1296.6 L676.1,1301.8 L678.0,1305.3 L679.8,1309.6 L681.7,1309.0 L683.5,1308.1 L685.4,1309.6 L687.2,1311.7 L689.1,1313.1 L690.9,1315.2 L692.8,1313.0 L694.6,1305.9 L696.5,1278.0 L698.3,1318.9 L700.2,1315.1 L702.0,1313.1 L703.9,1309.6 L705.7,1311.5 L707.6,1317.1 L709.4,1321.3 L711.3,1326.4 L713.1,1319.3 L715.0,1311.5 L716.9,1301.3 L718.7,1289.2 L720.6,1283.4 L722.4,1274.3 L724.3,1251.9 L726.1,1229.6 L728.9,1201.6 L731.7,1218.4 L733.5,1258.0 L735.4,1300.3 L737.2,1299.9 L739.1,1298.5 L740.9,1303.4 L742.8,1307.7 L744.6,1311.5 L746.5,1315.0 L748.3,1321.5 L750.2,1324.5 L753.0,1278.0 L755.7,1246.3 L757.6,1259.4 L759.4,1266.9 L761.3,1274.3 L763.1,1288.1 L765.0,1300.3 L766.9,1303.7 L768.7,1304.8 L770.6,1305.9 L773.3,1276.1 L776.1,1307.8 L778.0,1313.7 L779.8,1318.9 L781.7,1322.8 L783.5,1321.7 L785.4,1322.7 L787.2,1319.8 L789.1,1317.8 L790.9,1315.2 L792.8,1317.9 L794.6,1317.2 L796.5,1318.6 L798.3,1318.9 L800.2,1321.6 L802.0,1320.8 L803.9,1322.7 L805.7,1323.4 L807.6,1328.2 L809.4,1330.5 L811.3,1332.0 L813.7,1326.4 L815.6,1321.1 L817.4,1315.2 L820.2,1309.6 L823.0,1302.2 L824.8,1307.0 L826.7,1313.4 L828.5,1316.3 L830.4,1317.1 L832.2,1316.9 L834.1,1315.2 L835.9,1315.0 L837.8,1317.1 L839.6,1305.6 L841.5,1292.9 L843.3,1278.7 L845.2,1264.9 L847.0,1249.2 L848.9,1237.0 L851.7,1222.1 L854.4,1244.5 L857.2,1253.8 L860.0,1259.4 L862.8,1248.2 L865.6,1264.9 L868.3,1292.9 L870.2,1299.0 L872.0,1304.0 L873.9,1271.4 L875.7,1238.9 L878.1,1251.0 L880.4,1264.9 L882.2,1275.8 L884.1,1285.4 L885.9,1289.7 L887.8,1292.9 L889.6,1297.8 L891.5,1304.0 L893.3,1310.1 L895.2,1315.2 L897.0,1322.0 L898.9,1326.4 L900.7,1326.2 L902.6,1328.1 L904.4,1328.2 L906.3,1328.9 L908.1,1332.2 L910.0,1330.1 L911.9,1328.5 L913.7,1332.2 L915.6,1332.0 L917.4,1332.2 L919.3,1333.1 L921.1,1333.8 L922.7,1337.3 L924.4,1336.2 L926.0,1340.0 L927.6,1338.5 L929.9,1333.8 L932.2,1330.1 L934.1,1328.7 L935.9,1326.4 L937.8,1317.4 L939.6,1309.6 L941.5,1313.5 L943.3,1318.9 L945.2,1319.6 L947.0,1319.8 L948.9,1320.8 L950.7,1320.4 L952.6,1317.0 L954.4,1318.9 L956.3,1320.4 L958.1,1317.1 L960.0,1314.1 L961.9,1311.5 L963.7,1305.2 L965.6,1294.7 L967.4,1290.7 L969.3,1289.2 L971.1,1277.4 L973.0,1264.9 L974.8,1273.4 L976.7,1274.3 L978.5,1271.4 L980.4,1270.5 L982.2,1283.6 L984.1,1300.3 L985.9,1270.8 L987.8,1242.6 L990.1,1245.0 L992.4,1246.3 L994.3,1245.3 L996.1,1242.6 L998.9,1255.6 L1000.7,1275.8 L1002.6,1292.9 L1004.4,1300.0 L1006.3,1307.8 L1008.1,1309.6 L1010.0,1315.2 L1011.9,1317.2 L1013.7,1321.7 L1015.6,1322.7 L1017.4,1324.5 L1019.3,1322.8 L1021.1,1326.4 L1023.0,1327.6 L1024.8,1330.5 L1026.7,1330.1 L1028.5,1332.7 L1030.4,1330.8 L1032.2,1330.1 L1034.1,1329.9 L1035.9,1327.4 L1037.8,1328.2 L1040.1,1325.4 L1042.4,1324.5 L1044.3,1329.2 L1046.1,1333.8 L1048.4,1336.3 L1050.7,1337.6 L1052.6,1337.0 L1054.4,1334.5 L1056.3,1333.8 L1058.6,1325.0 L1060.9,1318.9 L1063.2,1316.1 L1065.6,1315.2 L1067.4,1315.7 L1069.3,1319.7 L1071.1,1320.8 L1073.0,1319.3 L1074.8,1322.9 L1076.7,1324.5 L1078.5,1323.8 L1080.4,1323.9 L1082.2,1320.8 L1084.1,1317.8 L1085.9,1315.8 L1087.8,1311.5 L1089.6,1307.3 L1091.5,1304.0 L1093.3,1297.6 L1095.2,1292.9 L1097.0,1295.8 L1098.9,1300.3 L1100.7,1306.5 L1102.6,1310.2 L1104.4,1313.4 L1106.3,1309.3 L1108.1,1304.0 L1110.0,1271.7 L1111.9,1231.4 L1113.7,1241.6 L1115.6,1251.9 L1117.4,1268.5 L1119.3,1283.6 L1121.1,1295.1 L1123.0,1305.9 L1124.8,1306.3 L1126.7,1309.9 L1128.5,1307.8 L1130.4,1310.8 L1132.2,1308.6 L1134.1,1311.5 L1135.9,1311.6 L1137.8,1313.2 L1139.6,1313.4 L1141.5,1313.1 L1143.3,1309.3 L1145.2,1309.6 L1147.0,1303.8 L1148.9,1301.1 L1150.7,1300.3 L1152.6,1300.2 L1154.4,1300.3 L1156.6,1299.3 L1158.7,1298.5 L1160.6,1300.7 L1162.4,1302.2 L1164.3,1296.6 L1166.1,1292.9 L1168.0,1297.0 L1169.8,1304.0 L1171.7,1302.5 L1173.5,1305.9 L1175.4,1297.9 L1177.2,1289.2 L1179.1,1291.5 L1180.9,1292.9 L1182.8,1301.5 L1184.6,1307.8 L1186.5,1309.3 L1188.3,1308.8 L1190.2,1309.6 L1192.0,1311.3 L1193.9,1309.6 L1195.7,1305.7 L1197.6,1302.2 L1199.4,1300.1 L1201.3,1299.1 L1203.1,1298.5 L1205.0,1294.7 L1206.9,1289.7 L1208.7,1289.2 L1210.6,1286.5 L1212.4,1283.6 L1214.3,1285.7 L1216.1,1287.3 L1218.4,1290.6 L1220.7,1294.7 L1223.1,1290.2 L1225.4,1287.3 L1228.1,1255.6 L1230.9,1224.0 L1232.8,1232.8 L1234.6,1240.7 L1237.4,1253.8 L1240.2,1255.6 L1242.0,1274.5 L1243.9,1289.2 L1245.7,1297.6 L1247.6,1305.9 L1249.4,1307.2 L1251.3,1309.6 L1253.1,1310.2 L1255.0,1312.0 L1256.9,1313.4 L1258.7,1309.4 L1260.6,1308.2 L1262.4,1305.9 L1264.3,1305.4 L1266.1,1306.9 L1268.0,1304.0 L1269.8,1301.5 L1271.7,1296.6 L1273.5,1295.0 L1275.4,1291.0 L1277.2,1288.9 L1279.1,1289.3 L1280.9,1287.3 L1282.8,1279.4 L1284.6,1274.3 L1286.5,1281.1 L1288.3,1287.3 L1290.2,1282.2 L1292.0,1276.1 L1293.9,1272.4 L1295.7,1270.5 L1297.6,1266.4 L1299.4,1257.5 L1301.3,1266.6 L1303.1,1274.3 L1305.0,1278.5 L1306.9,1287.3 L1308.7,1286.1 L1310.6,1283.6 L1312.4,1281.2 L1314.3,1279.8 L1316.1,1280.5 L1318.0,1281.6 L1319.8,1281.7 L1321.7,1278.4 L1323.5,1274.3 L1325.4,1266.2 L1327.2,1263.1 L1330.0,1251.9 L1332.8,1272.4 L1334.6,1274.7 L1336.5,1279.8 L1338.3,1287.3 L1340.2,1292.9 L1342.0,1297.2 L1343.9,1298.5 L1345.7,1303.5 L1347.6,1304.0 L1349.4,1259.4 L1351.8,1256.9 L1354.1,1250.1 L1356.4,1256.9 L1358.7,1268.7 L1360.6,1273.3 L1362.4,1276.1 L1364.3,1276.3 L1366.1,1283.0 L1368.0,1283.6 L1369.8,1281.1 L1371.7,1278.0 L1373.5,1266.4 L1375.4,1257.5 L1377.2,1257.1 L1379.1,1251.9 L1380.9,1258.3 L1382.8,1263.1 L1384.6,1251.5 L1386.5,1244.5 L1388.3,1231.8 L1390.2,1218.4 L1392.0,1210.7 L1393.9,1204.9 L1395.7,1197.9 L1397.6,1188.1 L1399.4,1179.3 L1402.2,1162.5 L1405.0,1142.1 L1406.9,1148.4 L1408.7,1151.4 L1410.6,1158.4 L1412.4,1169.1 L1414.3,1177.4 L1416.1,1170.3 L1418.0,1158.8 L1420.3,1146.7 L1422.6,1136.5 L1424.9,1149.8 L1427.2,1162.5 L1429.1,1162.8 L1430.9,1162.5 L1433.2,1170.1 L1435.6,1179.3 L1438.3,1168.1 L1440.2,1168.9 L1442.0,1168.3 L1443.9,1168.1 L1445.7,1161.4 L1447.6,1159.1 L1449.4,1151.4 L1451.3,1145.8 L1453.1,1138.3 L1455.5,1146.5 L1457.8,1155.1 L1460.1,1150.6 L1462.4,1147.7 L1464.3,1149.2 L1466.1,1154.1 L1468.0,1155.1 L1469.8,1143.8 L1471.7,1132.8 L1473.3,1114.7 L1475.0,1095.5 L1477.0,1113.9 L1479.1,1132.8 L1480.9,1150.3 L1482.8,1166.3 L1484.6,1171.7 L1486.5,1178.4 L1488.3,1183.0 L1490.2,1190.3 L1492.0,1198.9 L1493.9,1205.4 L1495.7,1226.7 L1497.6,1246.3 L1499.4,1247.1 L1501.3,1248.2 L1503.4,1244.7 L1505.5,1243.2 L1507.3,1236.5 L1509.2,1232.1 L1511.0,1227.5 L1512.9,1224.7 L1514.7,1213.4 L1516.5,1204.4 L1518.4,1195.3 L1520.2,1184.1 L1523.0,1182.3 L1525.7,1143.5 L1527.6,1141.6 L1529.4,1139.8 L1531.2,1140.7 L1533.1,1137.9 L1534.9,1137.9 L1536.7,1132.4 L1539.5,1143.5 L1542.2,1152.7 L1544.1,1165.6 L1545.9,1170.3 L1547.8,1174.9 L1549.6,1173.9 L1551.4,1176.7 L1553.3,1179.0 L1555.1,1182.3 L1556.9,1182.2 L1558.8,1182.3 L1560.6,1177.7 L1562.5,1176.7 L1564.3,1173.6 L1566.1,1171.2 L1568.0,1170.6 L1569.8,1169.3 L1571.6,1167.9 L1573.5,1167.5 L1575.3,1165.6 L1577.1,1165.6 L1579.0,1172.1 L1580.8,1180.4 L1582.7,1184.4 L1584.5,1184.1 L1587.3,1161.9 L1590.0,1143.5 L1591.8,1146.1 L1593.7,1149.0 L1595.5,1148.0 L1597.4,1149.0 L1600.1,1150.9 L1602.9,1173.0 L1605.6,1224.7 L1607.9,1225.2 L1610.2,1226.6 L1612.0,1228.3 L1613.9,1227.0 L1615.7,1228.4 L1617.6,1227.8 L1619.4,1226.8 L1621.2,1224.7 L1623.1,1228.4 L1624.9,1230.3 L1626.7,1225.5 L1628.6,1217.3 L1630.4,1207.5 L1632.3,1198.9 L1634.1,1201.2 L1635.9,1200.7 L1637.8,1197.0 L1639.6,1195.2 L1641.4,1189.2 L1643.3,1185.5 L1645.1,1178.6 L1647.0,1172.8 L1648.8,1165.0 L1650.6,1158.3 L1652.9,1155.0 L1655.2,1154.6 L1658.0,1143.5 L1659.8,1140.5 L1661.6,1136.1 L1663.5,1133.5 L1665.3,1132.4 L1667.2,1127.6 L1669.0,1125.0 L1670.8,1123.0 L1672.7,1122.8 L1674.5,1121.3 L1676.3,1118.2 L1678.2,1120.5 L1680.0,1119.5 L1682.3,1112.8 L1684.6,1105.6 L1686.4,1118.3 L1688.3,1132.4 L1690.6,1135.5 L1692.9,1136.1 L1694.7,1124.8 L1696.5,1111.4 L1698.4,1100.1 L1700.2,1113.6 L1702.1,1128.7 L1703.9,1127.7 L1705.7,1125.0 L1707.6,1126.0 L1709.4,1130.6 L1711.2,1124.6 L1713.1,1119.5 L1714.9,1123.3 L1716.8,1128.7 L1718.6,1125.1 L1720.4,1121.3 L1722.3,1125.3 L1724.1,1128.7 L1726.4,1121.4 L1728.7,1113.9 L1731.4,1149.0 L1733.3,1160.5 L1735.1,1169.3 L1737.0,1182.3 L1738.8,1185.3 L1740.6,1187.8 L1742.5,1190.2 L1744.3,1193.3 L1746.1,1189.1 L1748.0,1187.8 L1749.8,1188.1 L1751.7,1187.2 L1753.5,1186.0 L1755.3,1188.6 L1757.2,1187.8 L1759.0,1183.2 L1760.8,1180.4 L1762.7,1174.9 L1764.5,1169.3" fill="none" stroke="#1414ee" stroke-width="1.7" stroke-linejoin="round"/>
</g>
<line x1="160.7" y1="72.0" x2="160.7" y2="262.0" stroke="#ff0000" stroke-width="6" stroke-dasharray="20.2 7.4"/>
<line x1="225.2" y1="72.0" x2="225.2" y2="262.0" stroke="#00a651" stroke-width="6" stroke-dasharray="20.2 7.4"/>
<line x1="626.2" y1="72.0" x2="626.2" y2="262.0" stroke="#ff0000" stroke-width="6" stroke-dasharray="20.2 7.4"/>
<line x1="656.8" y1="72.0" x2="656.8" y2="262.0" stroke="#00a651" stroke-width="6" stroke-dasharray="20.2 7.4"/>
<line x1="1108.9" y1="72.0" x2="1108.9" y2="262.0" stroke="#00a651" stroke-width="6" stroke-dasharray="20.2 7.4"/>
<line x1="1181.5" y1="72.0" x2="1181.5" y2="262.0" stroke="#ff0000" stroke-width="6" stroke-dasharray="20.2 7.4"/>
<line x1="1546.8" y1="74.3" x2="1546.8" y2="262.0" stroke="#ff0000" stroke-width="6" stroke-dasharray="20.2 7.4"/>
<line x1="1572.6" y1="69.1" x2="1572.6" y2="262.0" stroke="#00a651" stroke-width="6" stroke-dasharray="20.2 7.4"/>
<line x1="160.7" y1="373.3" x2="160.7" y2="634.0" stroke="#ff0000" stroke-width="6" stroke-dasharray="20.2 7.4"/>
<line x1="225.2" y1="373.3" x2="225.2" y2="634.0" stroke="#00a651" stroke-width="6" stroke-dasharray="20.2 7.4"/>
<line x1="626.2" y1="373.3" x2="626.2" y2="634.0" stroke="#ff0000" stroke-width="6" stroke-dasharray="20.2 7.4"/>
<line x1="656.8" y1="373.3" x2="656.8" y2="634.0" stroke="#00a651" stroke-width="6" stroke-dasharray="20.2 7.4"/>
<line x1="1108.9" y1="373.3" x2="1108.9" y2="634.0" stroke="#00a651" stroke-width="6" stroke-dasharray="20.2 7.4"/>
<line x1="1181.5" y1="373.3" x2="1181.5" y2="634.0" stroke="#ff0000" stroke-width="6" stroke-dasharray="20.2 7.4"/>
<line x1="1546.8" y1="375.6" x2="1546.8" y2="634.0" stroke="#ff0000" stroke-width="6" stroke-dasharray="20.2 7.4"/>
<line x1="1572.6" y1="370.4" x2="1572.6" y2="634.0" stroke="#00a651" stroke-width="6" stroke-dasharray="20.2 7.4"/>
<line x1="160.7" y1="739.1" x2="160.7" y2="999.0" stroke="#ff0000" stroke-width="6" stroke-dasharray="20.2 7.4"/>
<line x1="225.2" y1="739.1" x2="225.2" y2="999.0" stroke="#00a651" stroke-width="6" stroke-dasharray="20.2 7.4"/>
<line x1="626.2" y1="739.1" x2="626.2" y2="999.0" stroke="#ff0000" stroke-width="6" stroke-dasharray="20.2 7.4"/>
<line x1="656.8" y1="739.1" x2="656.8" y2="999.0" stroke="#00a651" stroke-width="6" stroke-dasharray="20.2 7.4"/>
<line x1="1108.9" y1="739.1" x2="1108.9" y2="999.0" stroke="#00a651" stroke-width="6" stroke-dasharray="20.2 7.4"/>
<line x1="1181.5" y1="739.1" x2="1181.5" y2="999.0" stroke="#ff0000" stroke-width="6" stroke-dasharray="20.2 7.4"/>
<line x1="1546.8" y1="741.4" x2="1546.8" y2="999.0" stroke="#ff0000" stroke-width="6" stroke-dasharray="20.2 7.4"/>
<line x1="1572.6" y1="736.2" x2="1572.6" y2="999.0" stroke="#00a651" stroke-width="6" stroke-dasharray="20.2 7.4"/>
<line x1="160.7" y1="1095.5" x2="160.7" y2="1355.0" stroke="#ff0000" stroke-width="6" stroke-dasharray="20.2 7.4"/>
<line x1="225.2" y1="1095.5" x2="225.2" y2="1355.0" stroke="#00a651" stroke-width="6" stroke-dasharray="20.2 7.4"/>
<line x1="626.2" y1="1095.5" x2="626.2" y2="1355.0" stroke="#ff0000" stroke-width="6" stroke-dasharray="20.2 7.4"/>
<line x1="656.8" y1="1095.5" x2="656.8" y2="1355.0" stroke="#00a651" stroke-width="6" stroke-dasharray="20.2 7.4"/>
<line x1="1108.9" y1="1095.5" x2="1108.9" y2="1355.0" stroke="#00a651" stroke-width="6" stroke-dasharray="20.2 7.4"/>
<line x1="1181.5" y1="1095.5" x2="1181.5" y2="1355.0" stroke="#ff0000" stroke-width="6" stroke-dasharray="20.2 7.4"/>
<line x1="1546.8" y1="1097.8" x2="1546.8" y2="1355.0" stroke="#ff0000" stroke-width="6" stroke-dasharray="20.2 7.4"/>
<line x1="1572.6" y1="1092.6" x2="1572.6" y2="1355.0" stroke="#00a651" stroke-width="6" stroke-dasharray="20.2 7.4"/>
<line x1="357.7" y1="71.0" x2="357.7" y2="87.0" stroke="#262626" stroke-width="1.6"/>
<line x1="357.7" y1="264.6" x2="357.7" y2="248.60000000000002" stroke="#262626" stroke-width="1.6"/>
<line x1="592.2" y1="71.0" x2="592.2" y2="87.0" stroke="#262626" stroke-width="1.6"/>
<line x1="592.2" y1="264.6" x2="592.2" y2="248.60000000000002" stroke="#262626" stroke-width="1.6"/>
<line x1="826.7" y1="71.0" x2="826.7" y2="87.0" stroke="#262626" stroke-width="1.6"/>
<line x1="826.7" y1="264.6" x2="826.7" y2="248.60000000000002" stroke="#262626" stroke-width="1.6"/>
<line x1="1061.2" y1="71.0" x2="1061.2" y2="87.0" stroke="#262626" stroke-width="1.6"/>
<line x1="1061.2" y1="264.6" x2="1061.2" y2="248.60000000000002" stroke="#262626" stroke-width="1.6"/>
<line x1="1295.7" y1="71.0" x2="1295.7" y2="87.0" stroke="#262626" stroke-width="1.6"/>
<line x1="1295.7" y1="264.6" x2="1295.7" y2="248.60000000000002" stroke="#262626" stroke-width="1.6"/>
<line x1="1530.2" y1="71.0" x2="1530.2" y2="87.0" stroke="#262626" stroke-width="1.6"/>
<line x1="1530.2" y1="264.6" x2="1530.2" y2="248.60000000000002" stroke="#262626" stroke-width="1.6"/>
<line x1="123.2" y1="264.6" x2="139.2" y2="264.6" stroke="#262626" stroke-width="1.6"/>
<line x1="1764.7" y1="264.6" x2="1748.7" y2="264.6" stroke="#262626" stroke-width="1.6"/>
<line x1="123.2" y1="171.2" x2="139.2" y2="171.2" stroke="#262626" stroke-width="1.6"/>
<line x1="1764.7" y1="171.2" x2="1748.7" y2="171.2" stroke="#262626" stroke-width="1.6"/>
<line x1="123.2" y1="77.9" x2="139.2" y2="77.9" stroke="#262626" stroke-width="1.6"/>
<line x1="1764.7" y1="77.9" x2="1748.7" y2="77.9" stroke="#262626" stroke-width="1.6"/>
<rect x="123.2" y="71.0" width="1641.5" height="193.60000000000002" fill="none" stroke="#262626" stroke-width="2"/>
<text x="109" y="276.1" text-anchor="end" font-family="Liberation Sans, Arial, sans-serif" font-size="33" fill="#111">20</text>
<text x="109" y="182.8" text-anchor="end" font-family="Liberation Sans, Arial, sans-serif" font-size="33" fill="#111">25</text>
<text x="109" y="89.4" text-anchor="end" font-family="Liberation Sans, Arial, sans-serif" font-size="33" fill="#111">30</text>
<line x1="357.7" y1="366.6" x2="357.7" y2="382.6" stroke="#262626" stroke-width="1.6"/>
<line x1="357.7" y1="628.4" x2="357.7" y2="612.4" stroke="#262626" stroke-width="1.6"/>
<line x1="592.2" y1="366.6" x2="592.2" y2="382.6" stroke="#262626" stroke-width="1.6"/>
<line x1="592.2" y1="628.4" x2="592.2" y2="612.4" stroke="#262626" stroke-width="1.6"/>
<line x1="826.7" y1="366.6" x2="826.7" y2="382.6" stroke="#262626" stroke-width="1.6"/>
<line x1="826.7" y1="628.4" x2="826.7" y2="612.4" stroke="#262626" stroke-width="1.6"/>
<line x1="1061.2" y1="366.6" x2="1061.2" y2="382.6" stroke="#262626" stroke-width="1.6"/>
<line x1="1061.2" y1="628.4" x2="1061.2" y2="612.4" stroke="#262626" stroke-width="1.6"/>
<line x1="1295.7" y1="366.6" x2="1295.7" y2="382.6" stroke="#262626" stroke-width="1.6"/>
<line x1="1295.7" y1="628.4" x2="1295.7" y2="612.4" stroke="#262626" stroke-width="1.6"/>
<line x1="1530.2" y1="366.6" x2="1530.2" y2="382.6" stroke="#262626" stroke-width="1.6"/>
<line x1="1530.2" y1="628.4" x2="1530.2" y2="612.4" stroke="#262626" stroke-width="1.6"/>
<line x1="123.2" y1="628.4" x2="139.2" y2="628.4" stroke="#262626" stroke-width="1.6"/>
<line x1="123.2" y1="512.1" x2="139.2" y2="512.1" stroke="#262626" stroke-width="1.6"/>
<line x1="123.2" y1="395.9" x2="139.2" y2="395.9" stroke="#262626" stroke-width="1.6"/>
<line x1="1764.7" y1="541.1" x2="1748.7" y2="541.1" stroke="#2b2bf0" stroke-width="1.6"/>
<line x1="1764.7" y1="453.9" x2="1748.7" y2="453.9" stroke="#2b2bf0" stroke-width="1.6"/>
<line x1="1764.7" y1="366.6" x2="1748.7" y2="366.6" stroke="#2b2bf0" stroke-width="1.6"/>
<path d="M1764.7,366.6 L123.2,366.6 L123.2,628.4 L1764.7,628.4" fill="none" stroke="#262626" stroke-width="2"/>
<line x1="1764.7" y1="366.6" x2="1764.7" y2="628.4" stroke="#2b2bf0" stroke-width="2"/>
<text x="109" y="639.9" text-anchor="end" font-family="Liberation Sans, Arial, sans-serif" font-size="33" fill="#111">0</text>
<text x="109" y="523.6" text-anchor="end" font-family="Liberation Sans, Arial, sans-serif" font-size="33" fill="#111">50</text>
<text x="109" y="407.4" text-anchor="end" font-family="Liberation Sans, Arial, sans-serif" font-size="33" fill="#111">100</text>
<text x="1775" y="639.9" font-family="Liberation Sans, Arial, sans-serif" font-size="33" fill="#0000d8">0</text>
<text x="1775" y="552.6" font-family="Liberation Sans, Arial, sans-serif" font-size="33" fill="#0000d8">200</text>
<text x="1775" y="465.4" font-family="Liberation Sans, Arial, sans-serif" font-size="33" fill="#0000d8">400</text>
<text x="1775" y="378.1" font-family="Liberation Sans, Arial, sans-serif" font-size="33" fill="#0000d8">600</text>
<line x1="357.7" y1="730.5" x2="357.7" y2="746.5" stroke="#262626" stroke-width="1.6"/>
<line x1="357.7" y1="990.9" x2="357.7" y2="974.9" stroke="#262626" stroke-width="1.6"/>
<line x1="592.2" y1="730.5" x2="592.2" y2="746.5" stroke="#262626" stroke-width="1.6"/>
<line x1="592.2" y1="990.9" x2="592.2" y2="974.9" stroke="#262626" stroke-width="1.6"/>
<line x1="826.7" y1="730.5" x2="826.7" y2="746.5" stroke="#262626" stroke-width="1.6"/>
<line x1="826.7" y1="990.9" x2="826.7" y2="974.9" stroke="#262626" stroke-width="1.6"/>
<line x1="1061.2" y1="730.5" x2="1061.2" y2="746.5" stroke="#262626" stroke-width="1.6"/>
<line x1="1061.2" y1="990.9" x2="1061.2" y2="974.9" stroke="#262626" stroke-width="1.6"/>
<line x1="1295.7" y1="730.5" x2="1295.7" y2="746.5" stroke="#262626" stroke-width="1.6"/>
<line x1="1295.7" y1="990.9" x2="1295.7" y2="974.9" stroke="#262626" stroke-width="1.6"/>
<line x1="1530.2" y1="730.5" x2="1530.2" y2="746.5" stroke="#262626" stroke-width="1.6"/>
<line x1="1530.2" y1="990.9" x2="1530.2" y2="974.9" stroke="#262626" stroke-width="1.6"/>
<line x1="123.2" y1="990.9" x2="139.2" y2="990.9" stroke="#262626" stroke-width="1.6"/>
<line x1="123.2" y1="904.1" x2="139.2" y2="904.1" stroke="#262626" stroke-width="1.6"/>
<line x1="123.2" y1="817.3" x2="139.2" y2="817.3" stroke="#262626" stroke-width="1.6"/>
<line x1="123.2" y1="730.5" x2="139.2" y2="730.5" stroke="#262626" stroke-width="1.6"/>
<line x1="1764.7" y1="933.0" x2="1748.7" y2="933.0" stroke="#2b2bf0" stroke-width="1.6"/>
<line x1="1764.7" y1="860.7" x2="1748.7" y2="860.7" stroke="#2b2bf0" stroke-width="1.6"/>
<line x1="1764.7" y1="788.4" x2="1748.7" y2="788.4" stroke="#2b2bf0" stroke-width="1.6"/>
<path d="M1764.7,730.5 L123.2,730.5 L123.2,990.9 L1764.7,990.9" fill="none" stroke="#262626" stroke-width="2"/>
<line x1="1764.7" y1="730.5" x2="1764.7" y2="990.9" stroke="#2b2bf0" stroke-width="2"/>
<text x="109" y="1002.4" text-anchor="end" font-family="Liberation Sans, Arial, sans-serif" font-size="33" fill="#111">0</text>
<text x="109" y="915.6" text-anchor="end" font-family="Liberation Sans, Arial, sans-serif" font-size="33" fill="#111">2</text>
<text x="109" y="828.8" text-anchor="end" font-family="Liberation Sans, Arial, sans-serif" font-size="33" fill="#111">4</text>
<text x="109" y="742.0" text-anchor="end" font-family="Liberation Sans, Arial, sans-serif" font-size="33" fill="#111">6</text>
<text x="1775" y="944.5" font-family="Liberation Sans, Arial, sans-serif" font-size="33" fill="#0000d8">100</text>
<text x="1775" y="872.2" font-family="Liberation Sans, Arial, sans-serif" font-size="33" fill="#0000d8">150</text>
<text x="1775" y="799.9" font-family="Liberation Sans, Arial, sans-serif" font-size="33" fill="#0000d8">200</text>
<line x1="357.7" y1="1092.6" x2="357.7" y2="1108.6" stroke="#262626" stroke-width="1.6"/>
<line x1="357.7" y1="1354.4" x2="357.7" y2="1338.4" stroke="#262626" stroke-width="1.6"/>
<line x1="592.2" y1="1092.6" x2="592.2" y2="1108.6" stroke="#262626" stroke-width="1.6"/>
<line x1="592.2" y1="1354.4" x2="592.2" y2="1338.4" stroke="#262626" stroke-width="1.6"/>
<line x1="826.7" y1="1092.6" x2="826.7" y2="1108.6" stroke="#262626" stroke-width="1.6"/>
<line x1="826.7" y1="1354.4" x2="826.7" y2="1338.4" stroke="#262626" stroke-width="1.6"/>
<line x1="1061.2" y1="1092.6" x2="1061.2" y2="1108.6" stroke="#262626" stroke-width="1.6"/>
<line x1="1061.2" y1="1354.4" x2="1061.2" y2="1338.4" stroke="#262626" stroke-width="1.6"/>
<line x1="1295.7" y1="1092.6" x2="1295.7" y2="1108.6" stroke="#262626" stroke-width="1.6"/>
<line x1="1295.7" y1="1354.4" x2="1295.7" y2="1338.4" stroke="#262626" stroke-width="1.6"/>
<line x1="1530.2" y1="1092.6" x2="1530.2" y2="1108.6" stroke="#262626" stroke-width="1.6"/>
<line x1="1530.2" y1="1354.4" x2="1530.2" y2="1338.4" stroke="#262626" stroke-width="1.6"/>
<line x1="123.2" y1="1354.4" x2="139.2" y2="1354.4" stroke="#262626" stroke-width="1.6"/>
<line x1="123.2" y1="1267.1" x2="139.2" y2="1267.1" stroke="#262626" stroke-width="1.6"/>
<line x1="123.2" y1="1179.9" x2="139.2" y2="1179.9" stroke="#262626" stroke-width="1.6"/>
<line x1="123.2" y1="1092.6" x2="139.2" y2="1092.6" stroke="#262626" stroke-width="1.6"/>
<line x1="1764.7" y1="1296.2" x2="1748.7" y2="1296.2" stroke="#2b2bf0" stroke-width="1.6"/>
<line x1="1764.7" y1="1223.5" x2="1748.7" y2="1223.5" stroke="#2b2bf0" stroke-width="1.6"/>
<line x1="1764.7" y1="1150.8" x2="1748.7" y2="1150.8" stroke="#2b2bf0" stroke-width="1.6"/>
<path d="M1764.7,1092.6 L123.2,1092.6 L123.2,1354.4 L1764.7,1354.4" fill="none" stroke="#262626" stroke-width="2"/>
<line x1="1764.7" y1="1092.6" x2="1764.7" y2="1354.4" stroke="#2b2bf0" stroke-width="2"/>
<text x="109" y="1365.9" text-anchor="end" font-family="Liberation Sans, Arial, sans-serif" font-size="33" fill="#111">-0.2</text>
<text x="109" y="1278.6" text-anchor="end" font-family="Liberation Sans, Arial, sans-serif" font-size="33" fill="#111">0</text>
<text x="109" y="1191.4" text-anchor="end" font-family="Liberation Sans, Arial, sans-serif" font-size="33" fill="#111">0.2</text>
<text x="109" y="1104.1" text-anchor="end" font-family="Liberation Sans, Arial, sans-serif" font-size="33" fill="#111">0.4</text>
<text x="1775" y="1307.7" font-family="Liberation Sans, Arial, sans-serif" font-size="33" fill="#0000d8">100</text>
<text x="1775" y="1235.0" font-family="Liberation Sans, Arial, sans-serif" font-size="33" fill="#0000d8">150</text>
<text x="1775" y="1162.3" font-family="Liberation Sans, Arial, sans-serif" font-size="33" fill="#0000d8">200</text>
<text x="122" y="52.9" font-family="Liberation Sans, Arial, sans-serif" font-size="33.5" fill="#000">a) Salinity</text>
<text x="122" y="357.9" font-family="Liberation Sans, Arial, sans-serif" font-size="33.5" fill="#000">b) SSC / volume concentration</text>
<text x="122" y="711.3" font-family="Liberation Sans, Arial, sans-serif" font-size="33.5" fill="#000">c) Bed stress (wave + current) / mean diameter</text>
<text x="122" y="1059.0" font-family="Liberation Sans, Arial, sans-serif" font-size="33.5" fill="#000">d) Cross shore velocity / mean diameter</text>
<text transform="translate(56.2,167.1) rotate(-90)" text-anchor="middle" font-family="Liberation Sans, Arial, sans-serif" font-size="36.75" fill="#000" textLength="221" lengthAdjust="spacingAndGlyphs">salinity (PSU)</text>
<text transform="translate(37.8,496.8) rotate(-90)" text-anchor="middle" font-family="Liberation Sans, Arial, sans-serif" font-size="36.75" fill="#000" textLength="189.5" lengthAdjust="spacingAndGlyphs">SSC (mg/L)</text>
<text transform="translate(75.5,859.4) rotate(-90)" text-anchor="middle" font-family="Liberation Sans, Arial, sans-serif" font-size="36.75" fill="#000" textLength="90" lengthAdjust="spacingAndGlyphs"><tspan font-family="Liberation Serif" font-style="italic">τ</tspan> (pa)</text>
<text transform="translate(36.5,1223.6) rotate(-90)" text-anchor="middle" font-family="Liberation Sans, Arial, sans-serif" font-size="36.75" fill="#000" textLength="422" lengthAdjust="spacingAndGlyphs">Cross shore velocity (m/s)</text>
<text transform="translate(1874.5,499) rotate(-90)" text-anchor="middle" font-family="Liberation Sans, Arial, sans-serif" font-size="36.75" fill="#0000d8" textLength="136" lengthAdjust="spacingAndGlyphs">Vol (<tspan font-family="Liberation Serif" font-style="italic">μ</tspan>l/l)</text>
<text transform="translate(1874.5,859) rotate(-90)" text-anchor="middle" font-family="Liberation Sans, Arial, sans-serif" font-size="36.75" fill="#0000d8" textLength="142.5" lengthAdjust="spacingAndGlyphs">D50(<tspan font-family="Liberation Serif" font-style="italic">μ</tspan>m)</text>
<text transform="translate(1874.5,1222.1) rotate(-90)" text-anchor="middle" font-family="Liberation Sans, Arial, sans-serif" font-size="36.75" fill="#0000d8" textLength="148" lengthAdjust="spacingAndGlyphs">D50 (um)</text>
<text x="123.2" y="1396.5" text-anchor="middle" font-family="Liberation Sans, Arial, sans-serif" font-size="33" fill="#111">267</text>
<text x="357.7" y="1396.5" text-anchor="middle" font-family="Liberation Sans, Arial, sans-serif" font-size="33" fill="#111">268</text>
<text x="592.2" y="1396.5" text-anchor="middle" font-family="Liberation Sans, Arial, sans-serif" font-size="33" fill="#111">269</text>
<text x="826.7" y="1396.5" text-anchor="middle" font-family="Liberation Sans, Arial, sans-serif" font-size="33" fill="#111">270</text>
<text x="1061.2" y="1396.5" text-anchor="middle" font-family="Liberation Sans, Arial, sans-serif" font-size="33" fill="#111">271</text>
<text x="1295.7" y="1396.5" text-anchor="middle" font-family="Liberation Sans, Arial, sans-serif" font-size="33" fill="#111">272</text>
<text x="1530.2" y="1396.5" text-anchor="middle" font-family="Liberation Sans, Arial, sans-serif" font-size="33" fill="#111">273</text>
<text x="1764.7" y="1396.5" text-anchor="middle" font-family="Liberation Sans, Arial, sans-serif" font-size="33" fill="#111">274</text>
<text x="942.8" y="1439" text-anchor="middle" font-family="Liberation Sans, Arial, sans-serif" font-size="36.5" fill="#000">time (days)</text>
<text transform="translate(144.2,1445.6) scale(1.12,1)" font-family="Liberation Sans, Arial, sans-serif" font-size="45.5" fill="#ff0000">t</text>
<text x="159.8" y="1457.0" font-family="Liberation Sans, Arial, sans-serif" font-size="31" fill="#ff0000">1</text>
<text transform="translate(211.9,1445.6) scale(1.12,1)" font-family="Liberation Sans, Arial, sans-serif" font-size="45.5" fill="#00a651">t</text>
<text x="228.2" y="1457.0" font-family="Liberation Sans, Arial, sans-serif" font-size="31" fill="#00a651">2</text>
<text transform="translate(615.5,1445.6) scale(1.12,1)" font-family="Liberation Sans, Arial, sans-serif" font-size="45.5" fill="#ff0000">t</text>
<text x="631.2" y="1457.0" font-family="Liberation Sans, Arial, sans-serif" font-size="31" fill="#ff0000">3</text>
<text transform="translate(652.6,1443.8) scale(1.12,1)" font-family="Liberation Sans, Arial, sans-serif" font-size="45.5" fill="#00a651">t</text>
<text x="668.3" y="1455.2" font-family="Liberation Sans, Arial, sans-serif" font-size="31" fill="#00a651">4</text>
<text transform="translate(1103.5,1445.6) scale(1.12,1)" font-family="Liberation Sans, Arial, sans-serif" font-size="45.5" fill="#00a651">t</text>
<text x="1119.3" y="1457.0" font-family="Liberation Sans, Arial, sans-serif" font-size="31" fill="#00a651">5</text>
<text transform="translate(1170.1,1445.6) scale(1.12,1)" font-family="Liberation Sans, Arial, sans-serif" font-size="45.5" fill="#ff0000">t</text>
<text x="1186.1" y="1457.0" font-family="Liberation Sans, Arial, sans-serif" font-size="31" fill="#ff0000">6</text>
<text transform="translate(1537.1,1445.6) scale(1.12,1)" font-family="Liberation Sans, Arial, sans-serif" font-size="45.5" fill="#ff0000">t</text>
<text x="1552.7" y="1457.0" font-family="Liberation Sans, Arial, sans-serif" font-size="31" fill="#ff0000">7</text>
<text transform="translate(1575.5,1445.6) scale(1.12,1)" font-family="Liberation Sans, Arial, sans-serif" font-size="45.5" fill="#00a651">t</text>
<text x="1592.5" y="1457.0" font-family="Liberation Sans, Arial, sans-serif" font-size="31" fill="#00a651">8</text>
<line x1="471.4" y1="23.2" x2="548.9" y2="23.2" stroke="#1c1ca8" stroke-width="2"/>
<text x="555.1" y="34.3" font-family="Liberation Sans, Arial, sans-serif" font-size="31" fill="#000">1 mbs</text>
<line x1="655" y1="23.2" x2="731.8" y2="23.2" stroke="#d41818" stroke-width="2"/>
<text x="736.85" y="34.3" font-family="Liberation Sans, Arial, sans-serif" font-size="31" fill="#000">3 mbs</text>
<line x1="838.4" y1="23.2" x2="916" y2="23.2" stroke="#30e0e0" stroke-width="2"/>
<text x="920.75" y="34.3" font-family="Liberation Sans, Arial, sans-serif" font-size="31" fill="#000">7 mbs</text>
<line x1="1021.4" y1="23.2" x2="1097" y2="23.2" stroke="#d020d0" stroke-width="2"/>
<text x="1102.75" y="34.3" font-family="Liberation Sans, Arial, sans-serif" font-size="31" fill="#000">7.6 mbs</text>
<line x1="1230" y1="23.2" x2="1305.7" y2="23.2" stroke="#111" stroke-width="2"/>
<text x="1311.1" y="34.3" font-family="Liberation Sans, Arial, sans-serif" font-size="31" fill="#000">10 mbs</text>
</svg></body></html>
